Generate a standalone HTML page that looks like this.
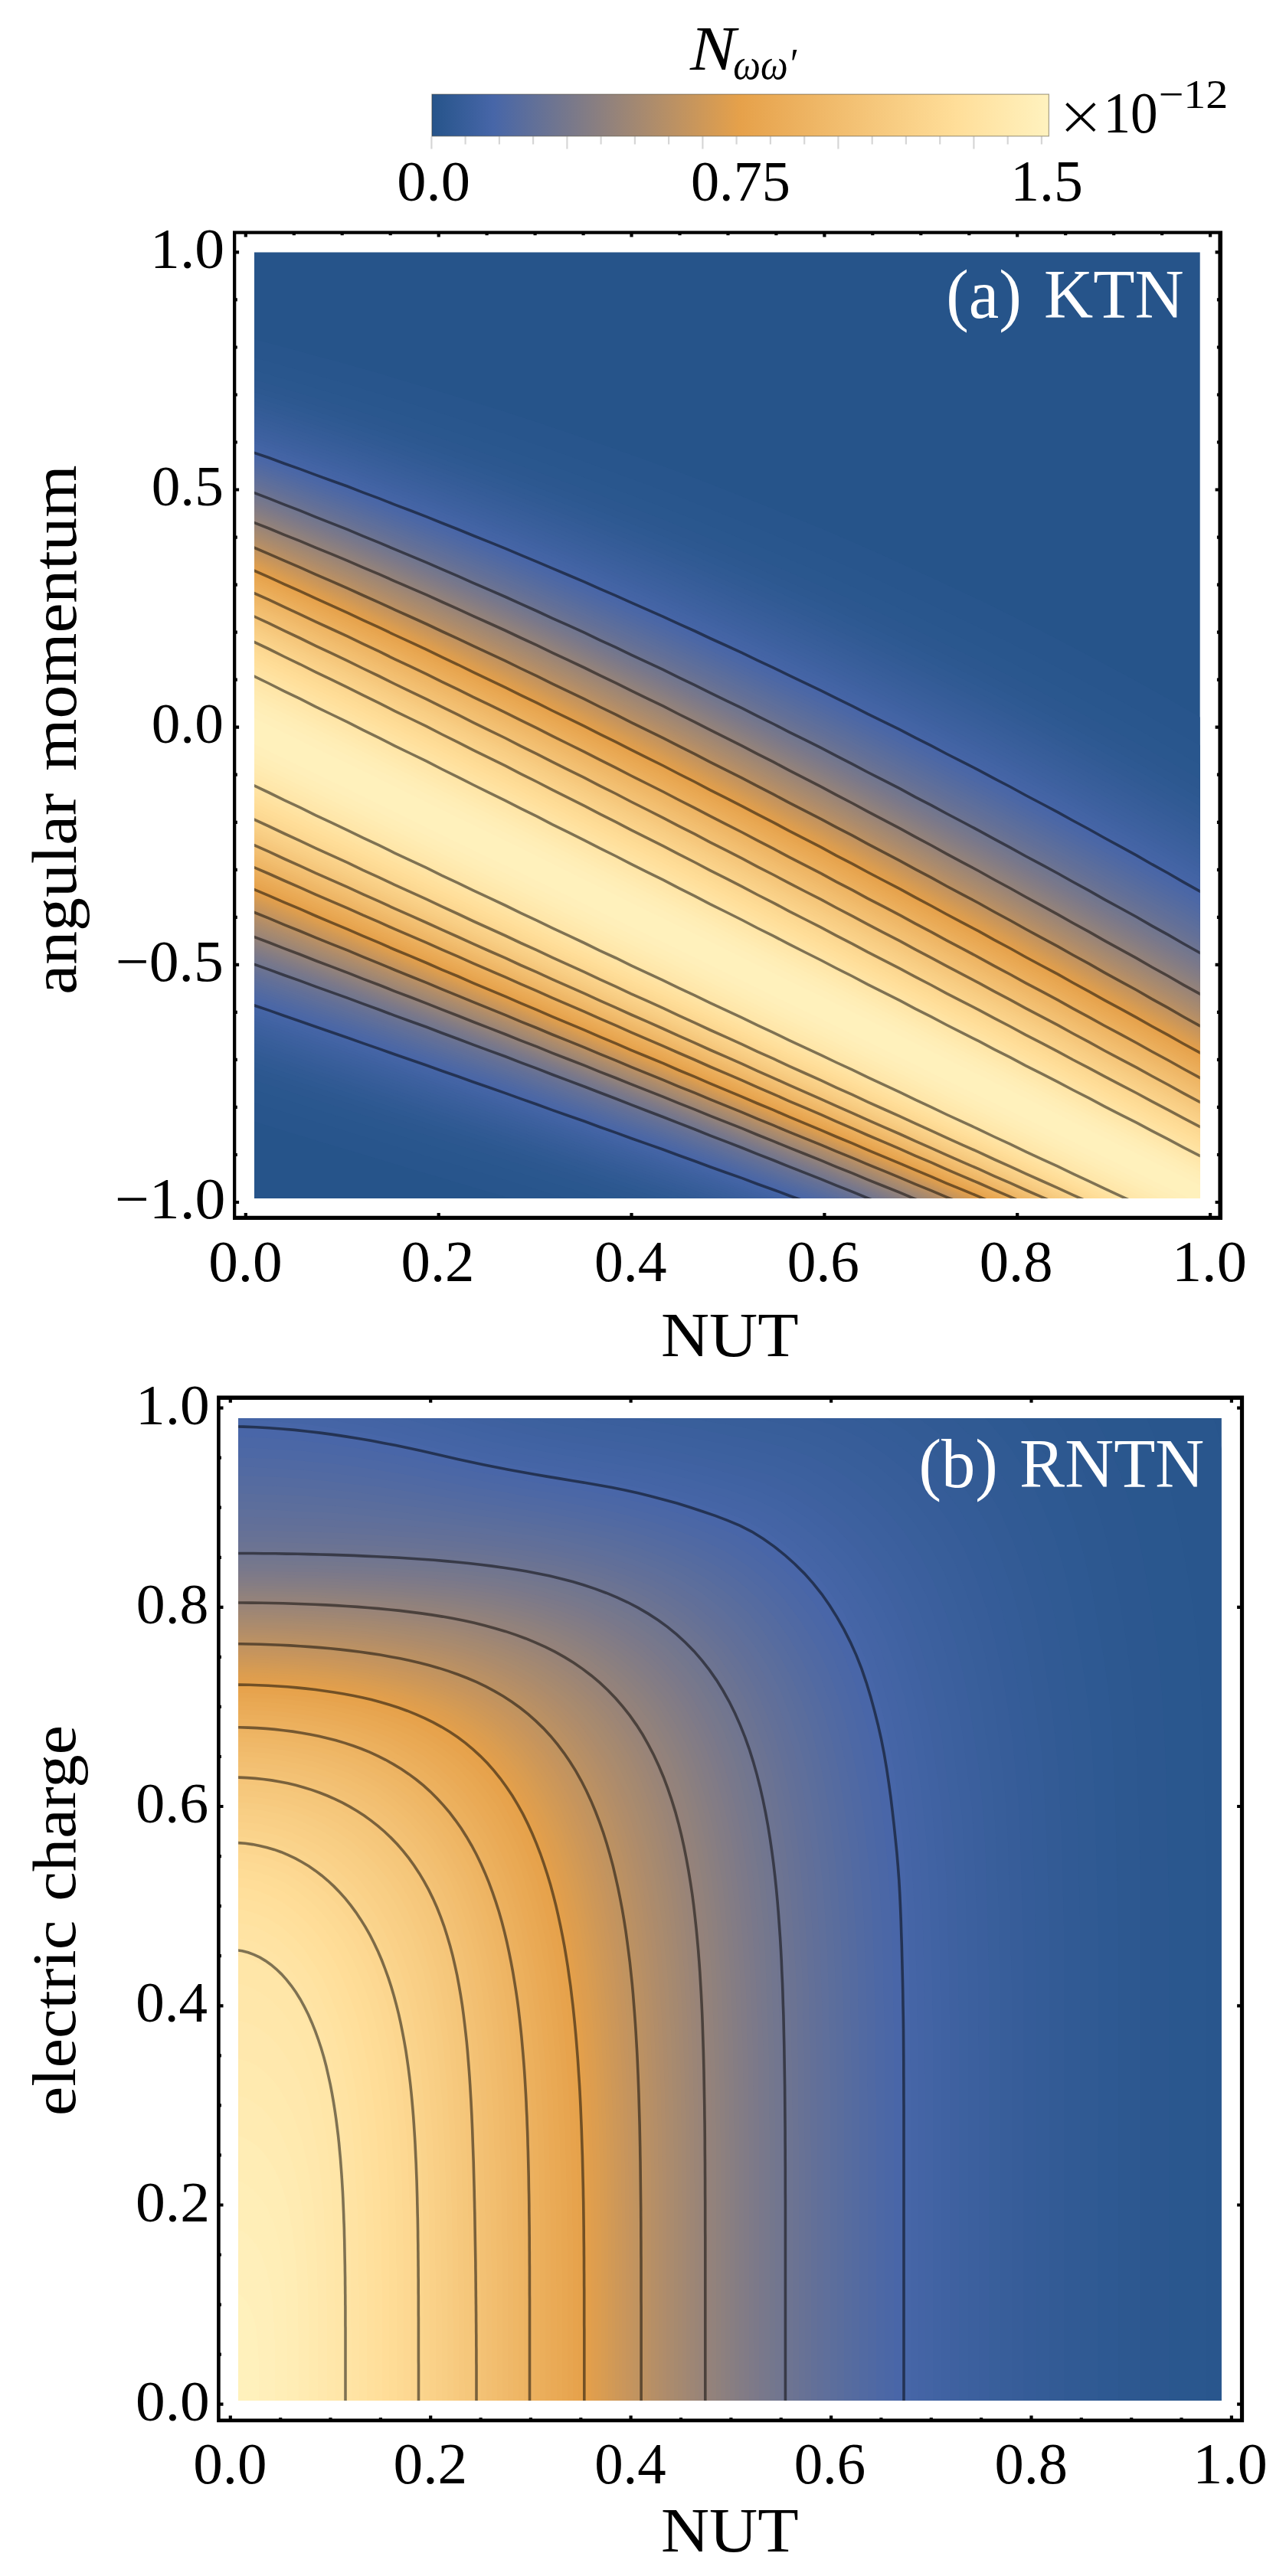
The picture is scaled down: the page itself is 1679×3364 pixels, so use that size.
<!DOCTYPE html>
<html lang="en"><head><meta charset="utf-8"><title>N density plots</title>
<style>html,body{margin:0;padding:0;background:#fff}svg{display:block}text{font-family:"Liberation Serif", serif}</style></head>
<body>
<svg width="1679" height="3364" viewBox="0 0 1679 3364">
<defs><linearGradient id="cb" x1="0" x2="1" y1="0" y2="0"><stop offset="0.0000" stop-color="#26548a"/><stop offset="0.1000" stop-color="#4766a8"/><stop offset="0.5000" stop-color="#e6a14a"/><stop offset="0.8500" stop-color="#ffde99"/><stop offset="1.0000" stop-color="#fff2bf"/></linearGradient><clipPath id="ca"><rect x="332.0" y="329.4" width="1234.7" height="1235.6"/></clipPath><clipPath id="cb2"><rect x="311.1" y="1852.1" width="1283.5" height="1283.0"/></clipPath></defs>
<g id="colorbar"><rect x="563.9" y="123.1" width="805.5" height="54.7" fill="url(#cb)" stroke="#3a3420" stroke-opacity="0.45" stroke-width="1.2"/><path d="M563.4 178.3V194.6M607.6 178.3V188.6M651.9 178.3V188.6M696.1 178.3V188.6M740.4 178.3V194.6M784.6 178.3V188.6M828.9 178.3V188.6M873.1 178.3V188.6M917.4 178.3V194.6M961.6 178.3V188.6M1005.9 178.3V188.6M1050.2 178.3V188.6M1094.4 178.3V194.6M1138.7 178.3V188.6M1182.9 178.3V188.6M1227.2 178.3V188.6M1271.4 178.3V194.6M1315.7 178.3V188.6M1359.9 178.3V188.6" stroke="#000" stroke-opacity="0.16" stroke-width="2.2" fill="none"/></g>
<g id="plot-a" clip-path="url(#ca)">
<rect x="329.0" y="326.4" width="1240.7" height="1241.6" fill="#26548a"/>
<path d="M330 442.3L371 453.2L412 464.4L454 475.8L495 487.6L536 499.7L577 512.0L618 524.8L660 537.8L701 551.2L742 565.0L783 579.2L824 593.8L866 608.7L907 624.1L948 639.9L989 656.2L1030 672.9L1072 690.0L1113 707.6L1154 725.8L1195 744.4L1236 763.5L1278 783.1L1319 803.3L1360 824.0L1401 845.3L1442 867.1L1484 889.5L1525 912.5L1566 936.1L1569 937.7L1569 1585.0L1566 1585.0L1525 1585.0L1484 1585.0L1442 1585.0L1401 1585.0L1360 1585.0L1319 1585.0L1278 1585.0L1236 1585.0L1195 1585.0L1154 1585.0L1113 1585.0L1072 1585.0L1030 1585.0L989 1585.0L948 1585.0L907 1585.0L866 1585.0L824 1585.0L783 1585.0L742 1585.0L701 1574.9L660 1562.9L618 1550.8L577 1538.6L536 1526.4L495 1514.1L454 1501.7L412 1489.3L371 1476.8L330 1464.2Z" fill="#28558c"/>
<path d="M330 466.3L371 477.8L412 489.6L454 501.6L495 514.0L536 526.7L577 539.7L618 553.0L660 566.7L701 580.7L742 595.1L783 609.9L824 625.0L866 640.5L907 656.4L948 672.8L989 689.5L1030 706.7L1072 724.3L1113 742.3L1154 760.8L1195 779.8L1236 799.2L1278 819.2L1319 839.6L1360 860.5L1401 881.9L1442 903.9L1484 926.4L1525 949.4L1566 972.9L1569 974.5L1569 1585.0L1566 1585.0L1525 1585.0L1484 1585.0L1442 1585.0L1401 1585.0L1360 1585.0L1319 1585.0L1278 1585.0L1236 1585.0L1195 1585.0L1154 1585.0L1113 1585.0L1072 1585.0L1030 1585.0L989 1585.0L948 1585.0L907 1585.0L866 1585.0L824 1585.0L783 1578.1L742 1565.8L701 1553.4L660 1541.0L618 1528.5L577 1516.0L536 1503.4L495 1490.7L454 1478.0L412 1465.3L371 1452.5L330 1439.6Z" fill="#29568d"/>
<path d="M330 482.8L371 494.7L412 506.9L454 519.4L495 532.2L536 545.3L577 558.7L618 572.4L660 586.5L701 601.0L742 615.8L783 630.9L824 646.5L866 662.4L907 678.6L948 695.3L989 712.4L1030 729.9L1072 747.8L1113 766.1L1154 784.9L1195 804.1L1236 823.8L1278 843.9L1319 864.5L1360 885.5L1401 907.1L1442 929.1L1484 951.6L1525 974.7L1566 998.2L1569 999.8L1569 1585.0L1566 1585.0L1525 1585.0L1484 1585.0L1442 1585.0L1401 1585.0L1360 1585.0L1319 1585.0L1278 1585.0L1236 1585.0L1195 1585.0L1154 1585.0L1113 1585.0L1072 1585.0L1030 1585.0L989 1585.0L948 1585.0L907 1585.0L866 1585.0L824 1576.6L783 1564.0L742 1551.4L701 1538.7L660 1526.0L618 1513.2L577 1500.4L536 1487.6L495 1474.7L454 1461.8L412 1448.8L371 1435.8L330 1422.7Z" fill="#2a578e"/>
<path d="M330 495.0L371 507.2L412 519.7L454 532.5L495 545.6L536 559.0L577 572.8L618 586.9L660 601.3L701 616.0L742 631.1L783 646.6L824 662.4L866 678.6L907 695.1L948 712.1L989 729.4L1030 747.1L1072 765.3L1113 783.8L1154 802.8L1195 822.2L1236 842.0L1278 862.3L1319 883.0L1360 904.1L1401 925.8L1442 947.8L1484 970.4L1525 993.4L1566 1017.0L1569 1018.5L1569 1585.0L1566 1585.0L1525 1585.0L1484 1585.0L1442 1585.0L1401 1585.0L1360 1585.0L1319 1585.0L1278 1585.0L1236 1585.0L1195 1585.0L1154 1585.0L1113 1585.0L1072 1585.0L1030 1585.0L989 1585.0L948 1585.0L907 1585.0L866 1579.2L824 1566.4L783 1553.5L742 1540.7L701 1527.7L660 1514.8L618 1501.8L577 1488.9L536 1475.8L495 1462.8L454 1449.7L412 1436.6L371 1423.4L330 1410.2Z" fill="#2c578f"/>
<path d="M330 504.2L371 516.6L412 529.3L454 542.4L495 555.7L536 569.4L577 583.3L618 597.7L660 612.3L701 627.3L742 642.6L783 658.3L824 674.3L866 690.7L907 707.5L948 724.6L989 742.1L1030 760.1L1072 778.4L1113 797.1L1154 816.2L1195 835.7L1236 855.7L1278 876.0L1319 896.8L1360 918.1L1401 939.7L1442 961.9L1484 984.5L1525 1007.5L1566 1031.0L1569 1032.6L1569 1585.0L1566 1585.0L1525 1585.0L1484 1585.0L1442 1585.0L1401 1585.0L1360 1585.0L1319 1585.0L1278 1585.0L1236 1585.0L1195 1585.0L1154 1585.0L1113 1585.0L1072 1585.0L1030 1585.0L989 1585.0L948 1585.0L907 1584.7L866 1571.7L824 1558.7L783 1545.7L742 1532.6L701 1519.6L660 1506.5L618 1493.3L577 1480.2L536 1467.0L495 1453.8L454 1440.6L412 1427.4L371 1414.1L330 1400.8Z" fill="#2d5890"/>
<path d="M330 511.5L371 524.1L412 537.0L454 550.2L495 563.8L536 577.6L577 591.8L618 606.3L660 621.1L701 636.3L742 651.8L783 667.6L824 683.8L866 700.4L907 717.3L948 734.6L989 752.3L1030 770.4L1072 788.8L1113 807.6L1154 826.9L1195 846.5L1236 866.5L1278 887.0L1319 907.9L1360 929.2L1401 950.9L1442 973.1L1484 995.7L1525 1018.7L1566 1042.2L1569 1043.8L1569 1585.0L1566 1585.0L1525 1585.0L1484 1585.0L1442 1585.0L1401 1585.0L1360 1585.0L1319 1585.0L1278 1585.0L1236 1585.0L1195 1585.0L1154 1585.0L1113 1585.0L1072 1585.0L1030 1585.0L989 1585.0L948 1585.0L907 1578.9L866 1565.8L824 1552.6L783 1539.4L742 1526.2L701 1513.0L660 1499.8L618 1486.5L577 1473.3L536 1460.0L495 1446.7L454 1433.4L412 1420.1L371 1406.7L330 1393.3Z" fill="#2e5992"/>
<path d="M330 517.9L371 530.7L412 543.7L454 557.1L495 570.8L536 584.8L577 599.2L618 613.8L660 628.8L701 644.2L742 659.8L783 675.8L824 692.2L866 708.9L907 726.0L948 743.4L989 761.2L1030 779.4L1072 798.0L1113 816.9L1154 836.3L1195 856.0L1236 876.1L1278 896.7L1319 917.6L1360 938.9L1401 960.7L1442 982.9L1484 1005.5L1525 1028.6L1566 1052.1L1569 1053.6L1569 1585.0L1566 1585.0L1525 1585.0L1484 1585.0L1442 1585.0L1401 1585.0L1360 1585.0L1319 1585.0L1278 1585.0L1236 1585.0L1195 1585.0L1154 1585.0L1113 1585.0L1072 1585.0L1030 1585.0L989 1585.0L948 1585.0L907 1573.8L866 1560.5L824 1547.2L783 1533.9L742 1520.6L701 1507.3L660 1493.9L618 1480.6L577 1467.2L536 1453.8L495 1440.4L454 1427.0L412 1413.6L371 1400.2L330 1386.8Z" fill="#305a93"/>
<path d="M330 523.6L371 536.5L412 549.7L454 563.3L495 577.1L536 591.3L577 605.8L618 620.6L660 635.7L701 651.2L742 667.0L783 683.1L824 699.6L866 716.5L907 733.7L948 751.2L989 769.2L1030 787.5L1072 806.1L1113 825.2L1154 844.6L1195 864.4L1236 884.6L1278 905.2L1319 926.2L1360 947.6L1401 969.4L1442 991.6L1484 1014.3L1525 1037.3L1566 1060.8L1569 1062.4L1569 1585.0L1566 1585.0L1525 1585.0L1484 1585.0L1442 1585.0L1401 1585.0L1360 1585.0L1319 1585.0L1278 1585.0L1236 1585.0L1195 1585.0L1154 1585.0L1113 1585.0L1072 1585.0L1030 1585.0L989 1585.0L948 1582.7L907 1569.3L866 1555.9L824 1542.5L783 1529.1L742 1515.6L701 1502.2L660 1488.7L618 1475.3L577 1461.8L536 1448.4L495 1434.9L454 1421.4L412 1407.9L371 1394.4L330 1380.9Z" fill="#315a94"/>
<path d="M330 528.7L371 541.8L412 555.1L454 568.8L495 582.8L536 597.1L577 611.7L618 626.6L660 641.9L701 657.5L742 673.4L783 689.7L824 706.3L866 723.3L907 740.6L948 758.3L989 776.3L1030 794.7L1072 813.4L1113 832.6L1154 852.1L1195 872.0L1236 892.3L1278 912.9L1319 934.0L1360 955.4L1401 977.3L1442 999.5L1484 1022.2L1525 1045.2L1566 1068.7L1569 1070.3L1569 1585.0L1566 1585.0L1525 1585.0L1484 1585.0L1442 1585.0L1401 1585.0L1360 1585.0L1319 1585.0L1278 1585.0L1236 1585.0L1195 1585.0L1154 1585.0L1113 1585.0L1072 1585.0L1030 1585.0L989 1585.0L948 1578.8L907 1565.2L866 1551.7L824 1538.2L783 1524.7L742 1511.1L701 1497.6L660 1484.1L618 1470.5L577 1457.0L536 1443.4L495 1429.9L454 1416.3L412 1402.8L371 1389.2L330 1375.7Z" fill="#335b95"/>
<path d="M330 533.4L371 546.6L412 560.1L454 573.9L495 588.0L536 602.4L577 617.1L618 632.2L660 647.6L701 663.3L742 679.3L783 695.7L824 712.4L866 729.5L907 746.9L948 764.7L989 782.8L1030 801.3L1072 820.2L1113 839.4L1154 859.0L1195 879.0L1236 899.3L1278 920.0L1319 941.1L1360 962.6L1401 984.5L1442 1006.7L1484 1029.4L1525 1052.5L1566 1075.9L1569 1077.5L1569 1585.0L1566 1585.0L1525 1585.0L1484 1585.0L1442 1585.0L1401 1585.0L1360 1585.0L1319 1585.0L1278 1585.0L1236 1585.0L1195 1585.0L1154 1585.0L1113 1585.0L1072 1585.0L1030 1585.0L989 1585.0L948 1575.1L907 1561.5L866 1547.9L824 1534.2L783 1520.6L742 1507.0L701 1493.4L660 1479.8L618 1466.1L577 1452.5L536 1438.9L495 1425.3L454 1411.7L412 1398.1L371 1384.5L330 1370.8Z" fill="#345c97"/>
<path d="M330 537.9L371 551.2L412 564.8L454 578.7L495 592.9L536 607.4L577 622.3L618 637.4L660 652.9L701 668.8L742 684.9L783 701.4L824 718.3L866 735.4L907 753.0L948 770.8L989 789.1L1030 807.6L1072 826.6L1113 845.9L1154 865.5L1195 885.6L1236 906.0L1278 926.7L1319 947.9L1360 969.4L1401 991.3L1442 1013.6L1484 1036.3L1525 1059.3L1566 1082.8L1569 1084.4L1569 1585.0L1566 1585.0L1525 1585.0L1484 1585.0L1442 1585.0L1401 1585.0L1360 1585.0L1319 1585.0L1278 1585.0L1236 1585.0L1195 1585.0L1154 1585.0L1113 1585.0L1072 1585.0L1030 1585.0L989 1585.0L948 1571.7L907 1558.0L866 1544.2L824 1530.5L783 1516.8L742 1503.1L701 1489.4L660 1475.7L618 1462.0L577 1448.3L536 1434.6L495 1420.9L454 1407.3L412 1393.6L371 1379.9L330 1366.3Z" fill="#355c98"/>
<path d="M330 542.3L371 555.7L412 569.4L454 583.4L495 597.7L536 612.4L577 627.3L618 642.6L660 658.2L701 674.2L742 690.4L783 707.0L824 724.0L866 741.3L907 758.9L948 776.8L989 795.2L1030 813.8L1072 832.8L1113 852.2L1154 871.9L1195 892.0L1236 912.5L1278 933.3L1319 954.5L1360 976.1L1401 998.0L1442 1020.3L1484 1043.0L1525 1066.1L1566 1089.5L1569 1091.1L1569 1585.0L1566 1585.0L1525 1585.0L1484 1585.0L1442 1585.0L1401 1585.0L1360 1585.0L1319 1585.0L1278 1585.0L1236 1585.0L1195 1585.0L1154 1585.0L1113 1585.0L1072 1585.0L1030 1585.0L989 1582.2L948 1568.3L907 1554.5L866 1540.7L824 1526.9L783 1513.0L742 1499.2L701 1485.5L660 1471.7L618 1457.9L577 1444.2L536 1430.4L495 1416.7L454 1402.9L412 1389.2L371 1375.5L330 1361.8Z" fill="#375d99"/>
<path d="M330 546.7L371 560.2L412 574.0L454 588.1L495 602.6L536 617.3L577 632.4L618 647.8L660 663.5L701 679.6L742 696.0L783 712.7L824 729.7L866 747.1L907 764.8L948 782.9L989 801.3L1030 820.0L1072 839.1L1113 858.6L1154 878.4L1195 898.6L1236 919.1L1278 939.9L1319 961.2L1360 982.8L1401 1004.7L1442 1027.1L1484 1049.8L1525 1072.8L1566 1096.3L1569 1097.9L1569 1585.0L1566 1585.0L1525 1585.0L1484 1585.0L1442 1585.0L1401 1585.0L1360 1585.0L1319 1585.0L1278 1585.0L1236 1585.0L1195 1585.0L1154 1585.0L1113 1585.0L1072 1585.0L1030 1585.0L989 1578.9L948 1564.9L907 1551.0L866 1537.1L824 1523.2L783 1509.3L742 1495.4L701 1481.5L660 1467.7L618 1453.8L577 1440.0L536 1426.2L495 1412.4L454 1398.6L412 1384.8L371 1371.0L330 1357.3Z" fill="#385e9a"/>
<path d="M330 551.0L371 564.7L412 578.6L454 592.8L495 607.4L536 622.2L577 637.4L618 652.9L660 668.8L701 684.9L742 701.4L783 718.2L824 735.4L866 752.9L907 770.7L948 788.8L989 807.3L1030 826.2L1072 845.4L1113 864.9L1154 884.8L1195 905.0L1236 925.5L1278 946.5L1319 967.7L1360 989.4L1401 1011.4L1442 1033.7L1484 1056.4L1525 1079.5L1566 1103.0L1569 1104.5L1569 1585.0L1566 1585.0L1525 1585.0L1484 1585.0L1442 1585.0L1401 1585.0L1360 1585.0L1319 1585.0L1278 1585.0L1236 1585.0L1195 1585.0L1154 1585.0L1113 1585.0L1072 1585.0L1030 1585.0L989 1575.6L948 1561.6L907 1547.5L866 1533.5L824 1519.5L783 1505.5L742 1491.6L701 1477.6L660 1463.7L618 1449.8L577 1435.9L536 1422.0L495 1408.1L454 1394.3L412 1380.4L371 1366.6L330 1352.8Z" fill="#395f9b"/>
<path d="M330 555.3L371 569.0L412 583.0L454 597.4L495 612.0L536 627.0L577 642.3L618 657.9L660 673.9L701 690.2L742 706.7L783 723.7L824 740.9L866 758.5L907 776.4L948 794.7L989 813.2L1030 832.2L1072 851.4L1113 871.0L1154 891.0L1195 911.2L1236 931.9L1278 952.8L1319 974.2L1360 995.8L1401 1017.9L1442 1040.2L1484 1063.0L1525 1086.0L1566 1109.5L1569 1111.0L1569 1585.0L1566 1585.0L1525 1585.0L1484 1585.0L1442 1585.0L1401 1585.0L1360 1585.0L1319 1585.0L1278 1585.0L1236 1585.0L1195 1585.0L1154 1585.0L1113 1585.0L1072 1585.0L1030 1585.0L989 1572.5L948 1558.3L907 1544.2L866 1530.1L824 1516.0L783 1501.9L742 1487.9L701 1473.8L660 1459.8L618 1445.8L577 1431.9L536 1417.9L495 1404.0L454 1390.1L412 1376.2L371 1362.3L330 1348.5Z" fill="#3b5f9d"/>
<path d="M330 559.4L371 573.2L412 587.4L454 601.8L495 616.6L536 631.7L577 647.1L618 662.8L660 678.9L701 695.2L742 711.9L783 729.0L824 746.3L866 764.0L907 782.0L948 800.3L989 819.0L1030 838.0L1072 857.3L1113 877.0L1154 897.0L1195 917.4L1236 938.0L1278 959.1L1319 980.4L1360 1002.1L1401 1024.2L1442 1046.6L1484 1069.3L1525 1092.4L1566 1115.8L1569 1117.4L1569 1585.0L1566 1585.0L1525 1585.0L1484 1585.0L1442 1585.0L1401 1585.0L1360 1585.0L1319 1585.0L1278 1585.0L1236 1585.0L1195 1585.0L1154 1585.0L1113 1585.0L1072 1585.0L1030 1583.7L989 1569.4L948 1555.1L907 1540.9L866 1526.7L824 1512.5L783 1498.4L742 1484.2L701 1470.1L660 1456.0L618 1442.0L577 1427.9L536 1413.9L495 1399.9L454 1386.0L412 1372.0L371 1358.1L330 1344.2Z" fill="#3c609e"/>
<path d="M330 563.4L371 577.4L412 591.6L454 606.1L495 621.0L536 636.2L577 651.7L618 667.6L660 683.7L701 700.2L742 717.0L783 734.1L824 751.5L866 769.3L907 787.4L948 805.8L989 824.6L1030 843.7L1072 863.1L1113 882.8L1154 902.9L1195 923.3L1236 944.0L1278 965.1L1319 986.5L1360 1008.2L1401 1030.3L1442 1052.7L1484 1075.5L1525 1098.6L1566 1122.0L1569 1123.5L1569 1585.0L1566 1585.0L1525 1585.0L1484 1585.0L1442 1585.0L1401 1585.0L1360 1585.0L1319 1585.0L1278 1585.0L1236 1585.0L1195 1585.0L1154 1585.0L1113 1585.0L1072 1585.0L1030 1580.8L989 1566.4L948 1552.0L907 1537.7L866 1523.4L824 1509.2L783 1494.9L742 1480.7L701 1466.5L660 1452.4L618 1438.2L577 1424.1L536 1410.1L495 1396.0L454 1382.0L412 1368.0L371 1354.0L330 1340.1Z" fill="#3d619f"/>
<path d="M330 567.3L371 581.3L412 595.7L454 610.3L495 625.3L536 640.6L577 656.2L618 672.1L660 688.4L701 705.0L742 721.9L783 739.1L824 756.6L866 774.5L907 792.7L948 811.2L989 830.0L1030 849.2L1072 868.6L1113 888.4L1154 908.6L1195 929.0L1236 949.8L1278 970.9L1319 992.4L1360 1014.2L1401 1036.3L1442 1058.7L1484 1081.5L1525 1104.5L1566 1128.0L1569 1129.5L1569 1585.0L1566 1585.0L1525 1585.0L1484 1585.0L1442 1585.0L1401 1585.0L1360 1585.0L1319 1585.0L1278 1585.0L1236 1585.0L1195 1585.0L1154 1585.0L1113 1585.0L1072 1585.0L1030 1578.0L989 1563.5L948 1549.0L907 1534.6L866 1520.3L824 1505.9L783 1491.6L742 1477.3L701 1463.1L660 1448.8L618 1434.6L577 1420.5L536 1406.3L495 1392.2L454 1378.2L412 1364.1L371 1350.1L330 1336.1Z" fill="#3f61a0"/>
<path d="M330 571.1L371 585.2L412 599.6L454 614.4L495 629.5L536 644.8L577 660.6L618 676.6L660 692.9L701 709.6L742 726.6L783 743.9L824 761.5L866 779.5L907 797.7L948 816.3L989 835.2L1030 854.5L1072 874.0L1113 893.9L1154 914.1L1195 934.6L1236 955.4L1278 976.6L1319 998.1L1360 1019.9L1401 1042.0L1442 1064.5L1484 1087.2L1525 1110.3L1566 1133.7L1569 1135.3L1569 1585.0L1566 1585.0L1525 1585.0L1484 1585.0L1442 1585.0L1401 1585.0L1360 1585.0L1319 1585.0L1278 1585.0L1236 1585.0L1195 1585.0L1154 1585.0L1113 1585.0L1072 1585.0L1030 1575.2L989 1560.7L948 1546.1L907 1531.7L866 1517.2L824 1502.8L783 1488.4L742 1474.0L701 1459.7L660 1445.4L618 1431.1L577 1416.9L536 1402.7L495 1388.6L454 1374.4L412 1360.3L371 1346.3L330 1332.3Z" fill="#4062a2"/>
<path d="M330 574.7L371 588.9L412 603.4L454 618.3L495 633.5L536 648.9L577 664.7L618 680.9L660 697.3L701 714.1L742 731.1L783 748.5L824 766.2L866 784.3L907 802.6L948 821.3L989 840.3L1030 859.6L1072 879.2L1113 899.1L1154 919.4L1195 940.0L1236 960.8L1278 982.0L1319 1003.6L1360 1025.4L1401 1047.6L1442 1070.0L1484 1092.8L1525 1115.9L1566 1139.3L1569 1140.9L1569 1585.0L1566 1585.0L1525 1585.0L1484 1585.0L1442 1585.0L1401 1585.0L1360 1585.0L1319 1585.0L1278 1585.0L1236 1585.0L1195 1585.0L1154 1585.0L1113 1585.0L1072 1585.0L1030 1572.6L989 1558.0L948 1543.4L907 1528.8L866 1514.2L824 1499.7L783 1485.3L742 1470.8L701 1456.4L660 1442.1L618 1427.8L577 1413.5L536 1399.2L495 1385.0L454 1370.8L412 1356.7L371 1342.6L330 1328.5Z" fill="#4163a3"/>
<path d="M330 578.2L371 592.5L412 607.1L454 622.0L495 637.3L536 652.9L577 668.8L618 685.0L660 701.5L701 718.3L742 735.5L783 753.0L824 770.8L866 788.9L907 807.3L948 826.1L989 845.1L1030 864.5L1072 884.2L1113 904.2L1154 924.5L1195 945.1L1236 966.0L1278 987.3L1319 1008.8L1360 1030.7L1401 1052.9L1442 1075.4L1484 1098.1L1525 1121.2L1566 1144.7L1569 1146.2L1569 1585.0L1566 1585.0L1525 1585.0L1484 1585.0L1442 1585.0L1401 1585.0L1360 1585.0L1319 1585.0L1278 1585.0L1236 1585.0L1195 1585.0L1154 1585.0L1113 1585.0L1072 1584.9L1030 1570.1L989 1555.4L948 1540.7L907 1526.0L866 1511.4L824 1496.8L783 1482.3L742 1467.8L701 1453.3L660 1438.9L618 1424.5L577 1410.2L536 1395.9L495 1381.6L454 1367.4L412 1353.2L371 1339.1L330 1325.0Z" fill="#4364a4"/>
<path d="M330 581.5L371 595.9L412 610.6L454 625.6L495 641.0L536 656.6L577 672.6L618 688.9L660 705.5L701 722.4L742 739.7L783 757.2L824 775.1L866 793.3L907 811.8L948 830.6L989 849.8L1030 869.2L1072 888.9L1113 909.0L1154 929.4L1195 950.0L1236 971.0L1278 992.3L1319 1013.9L1360 1035.8L1401 1058.0L1442 1080.5L1484 1103.3L1525 1126.4L1566 1149.8L1569 1151.3L1569 1585.0L1566 1585.0L1525 1585.0L1484 1585.0L1442 1585.0L1401 1585.0L1360 1585.0L1319 1585.0L1278 1585.0L1236 1585.0L1195 1585.0L1154 1585.0L1113 1585.0L1072 1582.6L1030 1567.7L989 1552.9L948 1538.1L907 1523.4L866 1508.7L824 1494.0L783 1479.4L742 1464.9L701 1450.3L660 1435.9L618 1421.4L577 1407.0L536 1392.7L495 1378.4L454 1364.1L412 1349.9L371 1335.7L330 1321.6Z" fill="#4464a5"/>
<path d="M330 584.7L371 599.2L412 613.9L454 629.0L495 644.5L536 660.2L577 676.3L618 692.6L660 709.3L701 726.3L742 743.7L783 761.3L824 779.3L866 797.5L907 816.1L948 835.0L989 854.2L1030 873.7L1072 893.5L1113 913.6L1154 934.0L1195 954.7L1236 975.7L1278 997.1L1319 1018.7L1360 1040.6L1401 1062.8L1442 1085.3L1484 1108.1L1525 1131.3L1566 1154.6L1569 1156.2L1569 1585.0L1566 1585.0L1525 1585.0L1484 1585.0L1442 1585.0L1401 1585.0L1360 1585.0L1319 1585.0L1278 1585.0L1236 1585.0L1195 1585.0L1154 1585.0L1113 1585.0L1072 1580.4L1030 1565.4L989 1550.5L948 1535.7L907 1520.9L866 1506.1L824 1491.4L783 1476.7L742 1462.1L701 1447.5L660 1433.0L618 1418.5L577 1404.0L536 1389.6L495 1375.3L454 1361.0L412 1346.7L371 1332.5L330 1318.3Z" fill="#4565a6"/>
<path d="M330 587.7L371 602.3L412 617.1L454 632.3L495 647.8L536 663.6L577 679.7L618 696.2L660 713.0L701 730.1L742 747.5L783 765.2L824 783.2L866 801.5L907 820.2L948 839.1L989 858.4L1030 877.9L1072 897.8L1113 917.9L1154 938.4L1195 959.2L1236 980.2L1278 1001.6L1319 1023.2L1360 1045.2L1401 1067.4L1442 1090.0L1484 1112.8L1525 1135.9L1566 1159.3L1569 1160.8L1569 1585.0L1566 1585.0L1525 1585.0L1484 1585.0L1442 1585.0L1401 1585.0L1360 1585.0L1319 1585.0L1278 1585.0L1236 1585.0L1195 1585.0L1154 1585.0L1113 1585.0L1072 1578.3L1030 1563.2L989 1548.3L948 1533.3L907 1518.5L866 1503.6L824 1488.9L783 1474.1L742 1459.4L701 1444.8L660 1430.2L618 1415.7L577 1401.2L536 1386.7L495 1372.3L454 1358.0L412 1343.7L371 1329.4L330 1315.2Z" fill="#4766a8"/>
<path d="M330 590.6L371 605.2L412 620.1L454 635.3L495 650.9L536 666.8L577 683.0L618 699.5L660 716.4L701 733.6L742 751.0L783 768.8L824 786.9L866 805.3L907 824.0L948 843.0L989 862.3L1030 881.9L1072 901.9L1113 922.1L1154 942.6L1195 963.4L1236 984.5L1278 1005.9L1319 1027.5L1360 1049.5L1401 1071.8L1442 1094.3L1484 1117.1L1525 1140.2L1566 1163.6L1569 1165.2L1569 1585.0L1566 1585.0L1525 1585.0L1484 1585.0L1442 1585.0L1401 1585.0L1360 1585.0L1319 1585.0L1278 1585.0L1236 1585.0L1195 1585.0L1154 1585.0L1113 1585.0L1072 1576.3L1030 1561.2L989 1546.2L948 1531.2L907 1516.2L866 1501.3L824 1486.5L783 1471.7L742 1457.0L701 1442.3L660 1427.6L618 1413.0L577 1398.5L536 1384.0L495 1369.6L454 1355.2L412 1340.8L371 1326.5L330 1312.3Z" fill="#4966a8"/>
<path d="M330 594.7L371 609.4L412 624.5L454 639.8L495 655.5L536 671.5L577 687.8L618 704.4L660 721.4L701 738.7L742 756.2L783 774.1L824 792.3L866 810.8L907 829.6L948 848.7L989 868.1L1030 887.8L1072 907.8L1113 928.1L1154 948.6L1195 969.5L1236 990.7L1278 1012.1L1319 1033.8L1360 1055.8L1401 1078.1L1442 1100.7L1484 1123.5L1525 1146.6L1566 1170.0L1569 1171.6L1569 1585.0L1566 1585.0L1525 1585.0L1484 1585.0L1442 1585.0L1401 1585.0L1360 1585.0L1319 1585.0L1278 1585.0L1236 1585.0L1195 1585.0L1154 1585.0L1113 1585.0L1072 1573.4L1030 1558.2L989 1543.1L948 1528.0L907 1512.9L866 1497.9L824 1483.0L783 1468.1L742 1453.3L701 1438.5L660 1423.8L618 1409.2L577 1394.6L536 1380.0L495 1365.5L454 1351.1L412 1336.7L371 1322.3L330 1308.1Z" fill="#4b67a6"/>
<path d="M330 598.7L371 613.5L412 628.6L454 644.1L495 659.9L536 676.0L577 692.4L618 709.1L660 726.2L701 743.6L742 761.2L783 779.2L824 797.5L866 816.1L907 835.0L948 854.2L989 873.6L1030 893.4L1072 913.5L1113 933.8L1154 954.5L1195 975.4L1236 996.6L1278 1018.1L1319 1039.9L1360 1061.9L1401 1084.2L1442 1106.8L1484 1129.6L1525 1152.8L1566 1176.1L1569 1177.7L1569 1585.0L1566 1585.0L1525 1585.0L1484 1585.0L1442 1585.0L1401 1585.0L1360 1585.0L1319 1585.0L1278 1585.0L1236 1585.0L1195 1585.0L1154 1585.0L1113 1585.0L1072 1570.6L1030 1555.3L989 1540.1L948 1524.9L907 1509.7L866 1494.7L824 1479.6L783 1464.7L742 1449.8L701 1434.9L660 1420.2L618 1405.4L577 1390.8L536 1376.2L495 1361.6L454 1347.1L412 1332.7L371 1318.3L330 1304.0Z" fill="#4d68a5"/>
<path d="M330 602.5L371 617.4L412 632.6L454 648.2L495 664.1L536 680.3L577 696.8L618 713.6L660 730.8L701 748.3L742 766.0L783 784.1L824 802.5L866 821.2L907 840.1L948 859.4L989 879.0L1030 898.8L1072 919.0L1113 939.4L1154 960.1L1195 981.1L1236 1002.3L1278 1023.9L1319 1045.7L1360 1067.7L1401 1090.1L1442 1112.7L1484 1135.5L1525 1158.7L1566 1182.0L1569 1183.6L1569 1585.0L1566 1585.0L1525 1585.0L1484 1585.0L1442 1585.0L1401 1585.0L1360 1585.0L1319 1585.0L1278 1585.0L1236 1585.0L1195 1585.0L1154 1585.0L1113 1583.4L1072 1568.0L1030 1552.5L989 1537.2L948 1521.9L907 1506.7L866 1491.5L824 1476.4L783 1461.4L742 1446.4L701 1431.5L660 1416.6L618 1401.8L577 1387.1L536 1372.4L495 1357.8L454 1343.3L412 1328.8L371 1314.4L330 1300.0Z" fill="#5069a3"/>
<path d="M330 606.1L371 621.1L412 636.5L454 652.1L495 668.1L536 684.4L577 701.0L618 718.0L660 735.2L701 752.8L742 770.6L783 788.8L824 807.3L866 826.1L907 845.1L948 864.5L989 884.1L1030 904.0L1072 924.2L1113 944.7L1154 965.5L1195 986.5L1236 1007.8L1278 1029.4L1319 1051.3L1360 1073.4L1401 1095.7L1442 1118.3L1484 1141.2L1525 1164.3L1566 1187.7L1569 1189.2L1569 1585.0L1566 1585.0L1525 1585.0L1484 1585.0L1442 1585.0L1401 1585.0L1360 1585.0L1319 1585.0L1278 1585.0L1236 1585.0L1195 1585.0L1154 1585.0L1113 1581.0L1072 1565.4L1030 1549.9L989 1534.4L948 1519.0L907 1503.7L866 1488.5L824 1473.3L783 1458.2L742 1443.1L701 1428.1L660 1413.2L618 1398.4L577 1383.6L536 1368.9L495 1354.2L454 1339.6L412 1325.1L371 1310.6L330 1296.2Z" fill="#526aa2"/>
<path d="M330 609.6L371 624.7L412 640.2L454 655.9L495 672.0L536 688.4L577 705.1L618 722.1L660 739.5L701 757.1L742 775.1L783 793.3L824 811.9L866 830.7L907 849.9L948 869.3L989 889.0L1030 909.0L1072 929.3L1113 949.9L1154 970.7L1195 991.8L1236 1013.1L1278 1034.7L1319 1056.6L1360 1078.8L1401 1101.1L1442 1123.8L1484 1146.7L1525 1169.8L1566 1193.2L1569 1194.7L1569 1585.0L1566 1585.0L1525 1585.0L1484 1585.0L1442 1585.0L1401 1585.0L1360 1585.0L1319 1585.0L1278 1585.0L1236 1585.0L1195 1585.0L1154 1585.0L1113 1578.6L1072 1562.9L1030 1547.3L989 1531.8L948 1516.3L907 1500.9L866 1485.5L824 1470.3L783 1455.1L742 1440.0L701 1424.9L660 1409.9L618 1395.0L577 1380.2L536 1365.4L495 1350.7L454 1336.1L412 1321.5L371 1307.0L330 1292.6Z" fill="#556ba0"/>
<path d="M330 613.0L371 628.2L412 643.7L454 659.6L495 675.7L536 692.2L577 709.0L618 726.1L660 743.6L701 761.3L742 779.4L783 797.7L824 816.3L866 835.3L907 854.5L948 874.0L989 893.8L1030 913.9L1072 934.2L1113 954.8L1154 975.7L1195 996.8L1236 1018.2L1278 1039.9L1319 1061.8L1360 1084.0L1401 1106.4L1442 1129.0L1484 1151.9L1525 1175.1L1566 1198.4L1569 1200.0L1569 1585.0L1566 1585.0L1525 1585.0L1484 1585.0L1442 1585.0L1401 1585.0L1360 1585.0L1319 1585.0L1278 1585.0L1236 1585.0L1195 1585.0L1154 1585.0L1113 1576.3L1072 1560.5L1030 1544.8L989 1529.2L948 1513.6L907 1498.1L866 1482.7L824 1467.4L783 1452.1L742 1436.9L701 1421.8L660 1406.8L618 1391.8L577 1376.9L536 1362.1L495 1347.3L454 1332.7L412 1318.1L371 1303.5L330 1289.1Z" fill="#576c9f"/>
<path d="M330 616.3L371 631.5L412 647.1L454 663.1L495 679.3L536 695.9L577 712.8L618 730.0L660 747.5L701 765.4L742 783.5L783 801.9L824 820.6L866 839.6L907 858.9L948 878.5L989 898.4L1030 918.5L1072 938.9L1113 959.6L1154 980.5L1195 1001.7L1236 1023.2L1278 1044.9L1319 1066.8L1360 1089.0L1401 1111.4L1442 1134.1L1484 1157.0L1525 1180.1L1566 1203.5L1569 1205.0L1569 1585.0L1566 1585.0L1525 1585.0L1484 1585.0L1442 1585.0L1401 1585.0L1360 1585.0L1319 1585.0L1278 1585.0L1236 1585.0L1195 1585.0L1154 1585.0L1113 1574.1L1072 1558.2L1030 1542.4L989 1526.7L948 1511.1L907 1495.5L866 1480.0L824 1464.6L783 1449.2L742 1434.0L701 1418.8L660 1403.7L618 1388.7L577 1373.7L536 1358.9L495 1344.1L454 1329.4L412 1314.7L371 1300.2L330 1285.7Z" fill="#5a6d9d"/>
<path d="M330 619.4L371 634.8L412 650.5L454 666.5L495 682.8L536 699.5L577 716.5L618 733.8L660 751.4L701 769.3L742 787.5L783 806.0L824 824.8L866 843.9L907 863.2L948 882.9L989 902.8L1030 923.0L1072 943.5L1113 964.2L1154 985.2L1195 1006.4L1236 1027.9L1278 1049.7L1319 1071.6L1360 1093.9L1401 1116.3L1442 1139.0L1484 1161.9L1525 1185.0L1566 1208.4L1569 1209.9L1569 1585.0L1566 1585.0L1525 1585.0L1484 1585.0L1442 1585.0L1401 1585.0L1360 1585.0L1319 1585.0L1278 1585.0L1236 1585.0L1195 1585.0L1154 1585.0L1113 1572.0L1072 1556.0L1030 1540.1L989 1524.3L948 1508.6L907 1492.9L866 1477.4L824 1461.9L783 1446.5L742 1431.2L701 1415.9L660 1400.8L618 1385.7L577 1370.7L536 1355.8L495 1340.9L454 1326.2L412 1311.5L371 1296.9L330 1282.4Z" fill="#5c6e9c"/>
<path d="M330 622.5L371 637.9L412 653.7L454 669.8L495 686.2L536 702.9L577 720.0L618 737.4L660 755.1L701 773.1L742 791.3L783 809.9L824 828.8L866 848.0L907 867.4L948 887.1L989 907.1L1030 927.4L1072 947.9L1113 968.7L1154 989.7L1195 1011.0L1236 1032.5L1278 1054.3L1319 1076.3L1360 1098.6L1401 1121.0L1442 1143.7L1484 1166.6L1525 1189.8L1566 1213.1L1569 1214.7L1569 1585.0L1566 1585.0L1525 1585.0L1484 1585.0L1442 1585.0L1401 1585.0L1360 1585.0L1319 1585.0L1278 1585.0L1236 1585.0L1195 1585.0L1154 1585.0L1113 1569.9L1072 1553.9L1030 1537.9L989 1522.0L948 1506.2L907 1490.5L866 1474.8L824 1459.3L783 1443.8L742 1428.4L701 1413.1L660 1397.9L618 1382.8L577 1367.7L536 1352.8L495 1337.9L454 1323.1L412 1308.4L371 1293.8L330 1279.3Z" fill="#5f6f9b"/>
<path d="M330 625.4L371 640.9L412 656.8L454 673.0L495 689.5L536 706.3L577 723.5L618 740.9L660 758.7L701 776.7L742 795.1L783 813.8L824 832.7L866 851.9L907 871.4L948 891.2L989 911.3L1030 931.6L1072 952.2L1113 973.0L1154 994.1L1195 1015.4L1236 1037.0L1278 1058.8L1319 1080.8L1360 1103.1L1401 1125.6L1442 1148.3L1484 1171.2L1525 1194.4L1566 1217.7L1569 1219.3L1569 1585.0L1566 1585.0L1525 1585.0L1484 1585.0L1442 1585.0L1401 1585.0L1360 1585.0L1319 1585.0L1278 1585.0L1236 1585.0L1195 1585.0L1154 1584.2L1113 1567.9L1072 1551.8L1030 1535.7L989 1519.8L948 1503.9L907 1488.1L866 1472.4L824 1456.8L783 1441.2L742 1425.8L701 1410.4L660 1395.2L618 1380.0L577 1364.9L536 1349.9L495 1335.0L454 1320.1L412 1305.4L371 1290.8L330 1276.2Z" fill="#616f99"/>
<path d="M330 628.3L371 643.9L412 659.8L454 676.1L495 692.7L536 709.6L577 726.8L618 744.3L660 762.2L701 780.3L742 798.7L783 817.5L824 836.5L866 855.8L907 875.4L948 895.2L989 915.3L1030 935.7L1072 956.3L1113 977.2L1154 998.3L1195 1019.7L1236 1041.3L1278 1063.2L1319 1085.2L1360 1107.5L1401 1130.1L1442 1152.8L1484 1175.7L1525 1198.9L1566 1222.2L1569 1223.7L1569 1585.0L1566 1585.0L1525 1585.0L1484 1585.0L1442 1585.0L1401 1585.0L1360 1585.0L1319 1585.0L1278 1585.0L1236 1585.0L1195 1585.0L1154 1582.3L1113 1566.0L1072 1549.8L1030 1533.6L989 1517.6L948 1501.6L907 1485.8L866 1470.0L824 1454.3L783 1438.7L742 1423.2L701 1407.8L660 1392.5L618 1377.3L577 1362.1L536 1347.1L495 1332.1L454 1317.3L412 1302.5L371 1287.8L330 1273.2Z" fill="#637098"/>
<path d="M330 631.2L371 646.8L412 662.8L454 679.2L495 695.8L536 712.8L577 730.1L618 747.7L660 765.6L701 783.8L742 802.3L783 821.1L824 840.2L866 859.5L907 879.2L948 899.1L989 919.3L1030 939.7L1072 960.4L1113 981.3L1154 1002.5L1195 1023.9L1236 1045.5L1278 1067.4L1319 1089.5L1360 1111.8L1401 1134.4L1442 1157.1L1484 1180.1L1525 1203.2L1566 1226.5L1569 1228.1L1569 1585.0L1566 1585.0L1525 1585.0L1484 1585.0L1442 1585.0L1401 1585.0L1360 1585.0L1319 1585.0L1278 1585.0L1236 1585.0L1195 1585.0L1154 1580.5L1113 1564.1L1072 1547.8L1030 1531.6L989 1515.5L948 1499.5L907 1483.5L866 1467.7L824 1452.0L783 1436.3L742 1420.8L701 1405.3L660 1389.9L618 1374.6L577 1359.5L536 1344.4L495 1329.4L454 1314.5L412 1299.7L371 1284.9L330 1270.3Z" fill="#667196"/>
<path d="M330 634.0L371 649.7L412 665.8L454 682.2L495 698.9L536 715.9L577 733.3L618 751.0L660 768.9L701 787.2L742 805.8L783 824.7L824 843.8L866 863.2L907 882.9L948 902.9L989 923.1L1030 943.6L1072 964.3L1113 985.3L1154 1006.5L1195 1028.0L1236 1049.7L1278 1071.6L1319 1093.7L1360 1116.1L1401 1138.6L1442 1161.4L1484 1184.3L1525 1207.5L1566 1230.8L1569 1232.3L1569 1585.0L1566 1585.0L1525 1585.0L1484 1585.0L1442 1585.0L1401 1585.0L1360 1585.0L1319 1585.0L1278 1585.0L1236 1585.0L1195 1585.0L1154 1578.7L1113 1562.2L1072 1545.9L1030 1529.6L989 1513.4L948 1497.3L907 1481.4L866 1465.5L824 1449.7L783 1434.0L742 1418.4L701 1402.8L660 1387.4L618 1372.1L577 1356.9L536 1341.7L495 1326.7L454 1311.8L412 1296.9L371 1282.1L330 1267.5Z" fill="#687295"/>
<path d="M330 636.8L371 652.5L412 668.7L454 685.1L495 701.9L536 719.0L577 736.5L618 754.2L660 772.2L701 790.6L742 809.2L783 828.1L824 847.3L866 866.8L907 886.6L948 906.6L989 926.9L1030 947.4L1072 968.2L1113 989.2L1154 1010.5L1195 1032.0L1236 1053.7L1278 1075.7L1319 1097.8L1360 1120.2L1401 1142.7L1442 1165.5L1484 1188.5L1525 1211.6L1566 1234.9L1569 1236.5L1569 1585.0L1566 1585.0L1525 1585.0L1484 1585.0L1442 1585.0L1401 1585.0L1360 1585.0L1319 1585.0L1278 1585.0L1236 1585.0L1195 1585.0L1154 1576.9L1113 1560.4L1072 1544.0L1030 1527.7L989 1511.4L948 1495.3L907 1479.3L866 1463.3L824 1447.5L783 1431.7L742 1416.0L701 1400.5L660 1385.0L618 1369.6L577 1354.4L536 1339.2L495 1324.1L454 1309.1L412 1294.2L371 1279.4L330 1264.7Z" fill="#6b7393"/>
<path d="M330 639.5L371 655.4L412 671.5L454 688.1L495 704.9L536 722.1L577 739.6L618 757.4L660 775.5L701 793.9L742 812.6L783 831.6L824 850.8L866 870.4L907 890.2L948 910.3L989 930.6L1030 951.2L1072 972.0L1113 993.1L1154 1014.4L1195 1035.9L1236 1057.7L1278 1079.6L1319 1101.8L1360 1124.2L1401 1146.8L1442 1169.6L1484 1192.5L1525 1215.7L1566 1239.0L1569 1240.5L1569 1585.0L1566 1585.0L1525 1585.0L1484 1585.0L1442 1585.0L1401 1585.0L1360 1585.0L1319 1585.0L1278 1585.0L1236 1585.0L1195 1585.0L1154 1575.2L1113 1558.6L1072 1542.1L1030 1525.8L989 1509.5L948 1493.3L907 1477.2L866 1461.2L824 1445.3L783 1429.5L742 1413.8L701 1398.2L660 1382.7L618 1367.3L577 1351.9L536 1336.7L495 1321.6L454 1306.5L412 1291.6L371 1276.7L330 1262.0Z" fill="#6d7492"/>
<path d="M330 642.3L371 658.2L412 674.4L454 691.0L495 707.9L536 725.1L577 742.7L618 760.5L660 778.7L701 797.2L742 815.9L783 835.0L824 854.3L866 873.9L907 893.7L948 913.9L989 934.3L1030 954.9L1072 975.8L1113 996.9L1154 1018.2L1195 1039.8L1236 1061.6L1278 1083.6L1319 1105.8L1360 1128.2L1401 1150.8L1442 1173.6L1484 1196.6L1525 1219.7L1566 1243.0L1569 1244.6L1569 1585.0L1566 1585.0L1525 1585.0L1484 1585.0L1442 1585.0L1401 1585.0L1360 1585.0L1319 1585.0L1278 1585.0L1236 1585.0L1195 1585.0L1154 1573.4L1113 1556.8L1072 1540.3L1030 1523.9L989 1507.6L948 1491.3L907 1475.2L866 1459.2L824 1443.2L783 1427.4L742 1411.6L701 1396.0L660 1380.4L618 1364.9L577 1349.6L536 1334.3L495 1319.1L454 1304.0L412 1289.0L371 1274.1L330 1259.3Z" fill="#707590"/>
<path d="M330 645.0L371 660.9L412 677.2L454 693.9L495 710.8L536 728.1L577 745.7L618 763.6L660 781.8L701 800.4L742 819.2L783 838.3L824 857.7L866 877.3L907 897.2L948 917.4L989 937.8L1030 958.5L1072 979.4L1113 1000.6L1154 1022.0L1195 1043.6L1236 1065.4L1278 1087.4L1319 1109.7L1360 1132.1L1401 1154.7L1442 1177.5L1484 1200.5L1525 1223.6L1566 1247.0L1569 1248.5L1569 1585.0L1566 1585.0L1525 1585.0L1484 1585.0L1442 1585.0L1401 1585.0L1360 1585.0L1319 1585.0L1278 1585.0L1236 1585.0L1195 1585.0L1154 1571.7L1113 1555.1L1072 1538.5L1030 1522.1L989 1505.7L948 1489.4L907 1473.3L866 1457.2L824 1441.2L783 1425.3L742 1409.5L701 1393.8L660 1378.2L618 1362.7L577 1347.3L536 1331.9L495 1316.7L454 1301.6L412 1286.5L371 1271.6L330 1256.7Z" fill="#72768f"/>
<path d="M330 647.7L371 663.6L412 680.0L454 696.7L495 713.7L536 731.0L577 748.7L618 766.6L660 784.9L701 803.5L742 822.4L783 841.5L824 860.9L866 880.7L907 900.6L948 920.9L989 941.3L1030 962.1L1072 983.0L1113 1004.2L1154 1025.7L1195 1047.3L1236 1069.1L1278 1091.2L1319 1113.5L1360 1135.9L1401 1158.5L1442 1181.4L1484 1204.3L1525 1227.5L1566 1250.8L1569 1252.3L1569 1585.0L1566 1585.0L1525 1585.0L1484 1585.0L1442 1585.0L1401 1585.0L1360 1585.0L1319 1585.0L1278 1585.0L1236 1585.0L1195 1585.0L1154 1570.1L1113 1553.4L1072 1536.8L1030 1520.3L989 1503.9L948 1487.6L907 1471.4L866 1455.3L824 1439.2L783 1423.3L742 1407.5L701 1391.7L660 1376.1L618 1360.5L577 1345.0L536 1329.7L495 1314.4L454 1299.2L412 1284.1L371 1269.1L330 1254.2Z" fill="#74778d"/>
<path d="M330 650.3L371 666.3L412 682.7L454 699.4L495 716.5L536 733.8L577 751.6L618 769.6L660 787.9L701 806.5L742 825.4L783 844.7L824 864.1L866 883.9L907 903.9L948 924.2L989 944.7L1030 965.5L1072 986.5L1113 1007.8L1154 1029.2L1195 1050.9L1236 1072.8L1278 1094.9L1319 1117.1L1360 1139.6L1401 1162.3L1442 1185.1L1484 1208.1L1525 1231.2L1566 1254.5L1569 1256.0L1569 1585.0L1566 1585.0L1525 1585.0L1484 1585.0L1442 1585.0L1401 1585.0L1360 1585.0L1319 1585.0L1278 1585.0L1236 1585.0L1195 1585.0L1154 1568.4L1113 1551.7L1072 1535.1L1030 1518.6L989 1502.2L948 1485.8L907 1469.6L866 1453.4L824 1437.4L783 1421.4L742 1405.5L701 1389.7L660 1374.0L618 1358.4L577 1342.9L536 1327.5L495 1312.1L454 1296.9L412 1281.7L371 1266.7L330 1251.7Z" fill="#77788c"/>
<path d="M330 652.8L371 668.9L412 685.3L454 702.1L495 719.2L536 736.6L577 754.4L618 772.4L660 790.8L701 809.5L742 828.4L783 847.7L824 867.2L866 887.0L907 907.1L948 927.4L989 948.0L1030 968.8L1072 989.9L1113 1011.2L1154 1032.7L1195 1054.4L1236 1076.3L1278 1098.4L1319 1120.7L1360 1143.2L1401 1165.9L1442 1188.7L1484 1211.7L1525 1234.9L1566 1258.1L1569 1259.7L1569 1585.0L1566 1585.0L1525 1585.0L1484 1585.0L1442 1585.0L1401 1585.0L1360 1585.0L1319 1585.0L1278 1585.0L1236 1585.0L1195 1583.6L1154 1566.8L1113 1550.1L1072 1533.5L1030 1516.9L989 1500.5L948 1484.1L907 1467.8L866 1451.7L824 1435.6L783 1419.6L742 1403.6L701 1387.8L660 1372.1L618 1356.4L577 1340.8L536 1325.4L495 1310.0L454 1294.7L412 1279.5L371 1264.4L330 1249.3Z" fill="#79788b"/>
<path d="M330 655.4L371 671.4L412 687.9L454 704.7L495 721.8L536 739.3L577 757.1L618 775.2L660 793.6L701 812.4L742 831.4L783 850.7L824 870.3L866 890.1L907 910.2L948 930.6L989 951.2L1030 972.1L1072 993.2L1113 1014.5L1154 1036.1L1195 1057.8L1236 1079.8L1278 1101.9L1319 1124.2L1360 1146.7L1401 1169.4L1442 1192.3L1484 1215.3L1525 1238.4L1566 1261.7L1569 1263.2L1569 1585.0L1566 1585.0L1525 1585.0L1484 1585.0L1442 1585.0L1401 1585.0L1360 1585.0L1319 1585.0L1278 1585.0L1236 1585.0L1195 1582.1L1154 1565.3L1113 1548.5L1072 1531.9L1030 1515.3L989 1498.8L948 1482.4L907 1466.1L866 1449.9L824 1433.8L783 1417.8L742 1401.8L701 1385.9L660 1370.2L618 1354.5L577 1338.9L536 1323.3L495 1307.9L454 1292.5L412 1277.3L371 1262.1L330 1247.0Z" fill="#7c7989"/>
<path d="M330 657.8L371 673.9L412 690.4L454 707.2L495 724.4L536 741.9L577 759.8L618 777.9L660 796.4L701 815.2L742 834.2L783 853.6L824 873.2L866 893.1L907 913.3L948 933.7L989 954.4L1030 975.3L1072 996.4L1113 1017.8L1154 1039.4L1195 1061.2L1236 1083.1L1278 1105.3L1319 1127.7L1360 1150.2L1401 1172.9L1442 1195.7L1484 1218.7L1525 1241.9L1566 1265.2L1569 1266.7L1569 1585.0L1566 1585.0L1525 1585.0L1484 1585.0L1442 1585.0L1401 1585.0L1360 1585.0L1319 1585.0L1278 1585.0L1236 1585.0L1195 1580.6L1154 1563.7L1113 1547.0L1072 1530.3L1030 1513.7L989 1497.2L948 1480.8L907 1464.5L866 1448.3L824 1432.1L783 1416.0L742 1400.0L701 1384.1L660 1368.3L618 1352.6L577 1336.9L536 1321.3L495 1305.9L454 1290.5L412 1275.1L371 1259.9L330 1244.8Z" fill="#7e7a88"/>
<path d="M330 660.2L371 676.4L412 692.9L454 709.8L495 727.0L536 744.5L577 762.4L618 780.6L660 799.1L701 817.9L742 837.0L783 856.4L824 876.1L866 896.1L907 916.3L948 936.7L989 957.4L1030 978.4L1072 999.6L1113 1021.0L1154 1042.6L1195 1064.4L1236 1086.4L1278 1108.6L1319 1131.0L1360 1153.5L1401 1176.3L1442 1199.1L1484 1222.1L1525 1245.3L1566 1268.5L1569 1270.1L1569 1585.0L1566 1585.0L1525 1585.0L1484 1585.0L1442 1585.0L1401 1585.0L1360 1585.0L1319 1585.0L1278 1585.0L1236 1585.0L1195 1579.1L1154 1562.2L1113 1545.5L1072 1528.8L1030 1512.2L989 1495.7L948 1479.2L907 1462.9L866 1446.6L824 1430.4L783 1414.3L742 1398.3L701 1382.4L660 1366.5L618 1350.7L577 1335.0L536 1319.4L495 1303.9L454 1288.4L412 1273.1L371 1257.8L330 1242.6Z" fill="#817b86"/>
<path d="M330 662.6L371 678.8L412 695.3L454 712.2L495 729.5L536 747.1L577 765.0L618 783.2L660 801.8L701 820.6L742 839.8L783 859.2L824 878.9L866 898.9L907 919.2L948 939.7L989 960.5L1030 981.4L1072 1002.7L1113 1024.1L1154 1045.8L1195 1067.6L1236 1089.6L1278 1111.9L1319 1134.3L1360 1156.8L1401 1179.6L1442 1202.4L1484 1225.4L1525 1248.6L1566 1271.8L1569 1273.4L1569 1585.0L1566 1585.0L1525 1585.0L1484 1585.0L1442 1585.0L1401 1585.0L1360 1585.0L1319 1585.0L1278 1585.0L1236 1585.0L1195 1577.6L1154 1560.8L1113 1544.0L1072 1527.3L1030 1510.7L989 1494.2L948 1477.7L907 1461.3L866 1445.0L824 1428.8L783 1412.7L742 1396.6L701 1380.7L660 1364.8L618 1348.9L577 1333.2L536 1317.5L495 1302.0L454 1286.4L412 1271.0L371 1255.7L330 1240.4Z" fill="#837c85"/>
<path d="M330 665.0L371 681.2L412 697.7L454 714.7L495 731.9L536 749.6L577 767.5L618 785.8L660 804.4L701 823.3L742 842.5L783 862.0L824 881.7L866 901.8L907 922.1L948 942.6L989 963.4L1030 984.4L1072 1005.7L1113 1027.2L1154 1048.9L1195 1070.7L1236 1092.8L1278 1115.1L1319 1137.5L1360 1160.1L1401 1182.8L1442 1205.7L1484 1228.7L1525 1251.8L1566 1275.1L1569 1276.6L1569 1585.0L1566 1585.0L1525 1585.0L1484 1585.0L1442 1585.0L1401 1585.0L1360 1585.0L1319 1585.0L1278 1585.0L1236 1585.0L1195 1576.2L1154 1559.3L1113 1542.5L1072 1525.8L1030 1509.2L989 1492.7L948 1476.2L907 1459.8L866 1443.5L824 1427.3L783 1411.1L742 1395.0L701 1379.0L660 1363.1L618 1347.2L577 1331.4L536 1315.7L495 1300.1L454 1284.5L412 1269.0L371 1253.6L330 1238.3Z" fill="#857d83"/>
<path d="M330 667.3L371 683.5L412 700.1L454 717.1L495 734.4L536 752.0L577 770.0L618 788.3L660 807.0L701 825.9L742 845.1L783 864.7L824 884.5L866 904.5L907 924.9L948 945.5L989 966.3L1030 987.4L1072 1008.7L1113 1030.2L1154 1051.9L1195 1073.8L1236 1095.9L1278 1118.2L1319 1140.6L1360 1163.2L1401 1186.0L1442 1208.9L1484 1231.9L1525 1255.0L1566 1278.3L1569 1279.8L1569 1585.0L1566 1585.0L1525 1585.0L1484 1585.0L1442 1585.0L1401 1585.0L1360 1585.0L1319 1585.0L1278 1585.0L1236 1585.0L1195 1574.7L1154 1557.9L1113 1541.1L1072 1524.4L1030 1507.8L989 1491.2L948 1474.7L907 1458.3L866 1442.0L824 1425.7L783 1409.5L742 1393.4L701 1377.3L660 1361.4L618 1345.5L577 1329.6L536 1313.9L495 1298.2L454 1282.6L412 1267.0L371 1251.6L330 1236.2Z" fill="#887e82"/>
<path d="M330 669.6L371 685.8L412 702.5L454 719.4L495 736.8L536 754.5L577 772.5L618 790.8L660 809.5L701 828.5L742 847.8L783 867.3L824 887.2L866 907.3L907 927.7L948 948.3L989 969.2L1030 990.3L1072 1011.6L1113 1033.2L1154 1054.9L1195 1076.8L1236 1099.0L1278 1121.3L1319 1143.7L1360 1166.3L1401 1189.1L1442 1212.0L1484 1235.0L1525 1258.1L1566 1281.4L1569 1282.9L1569 1585.0L1566 1585.0L1525 1585.0L1484 1585.0L1442 1585.0L1401 1585.0L1360 1585.0L1319 1585.0L1278 1585.0L1236 1585.0L1195 1573.3L1154 1556.5L1113 1539.7L1072 1523.0L1030 1506.3L989 1489.8L948 1473.3L907 1456.8L866 1440.5L824 1424.2L783 1408.0L742 1391.8L701 1375.7L660 1359.7L618 1343.8L577 1327.9L536 1312.1L495 1296.4L454 1280.7L412 1265.1L371 1249.6L330 1234.1Z" fill="#8a7f80"/>
<path d="M330 671.9L371 688.1L412 704.8L454 721.8L495 739.2L536 756.9L577 775.0L618 793.3L660 812.1L701 831.1L742 850.4L783 870.0L824 889.9L866 910.0L907 930.5L948 951.1L989 972.0L1030 993.2L1072 1014.5L1113 1036.1L1154 1057.9L1195 1079.8L1236 1102.0L1278 1124.3L1319 1146.8L1360 1169.4L1401 1192.2L1442 1215.1L1484 1238.1L1525 1261.2L1566 1284.5L1569 1286.0L1569 1585.0L1566 1585.0L1525 1585.0L1484 1585.0L1442 1585.0L1401 1585.0L1360 1585.0L1319 1585.0L1278 1585.0L1236 1585.0L1195 1571.9L1154 1555.1L1113 1538.3L1072 1521.6L1030 1504.9L989 1488.3L948 1471.8L907 1455.4L866 1439.0L824 1422.7L783 1406.4L742 1390.2L701 1374.1L660 1358.1L618 1342.1L577 1326.2L536 1310.3L495 1294.5L454 1278.8L412 1263.2L371 1247.6L330 1232.1Z" fill="#8d807f"/>
<path d="M330 674.1L371 690.4L412 707.1L454 724.1L495 741.6L536 759.3L577 777.4L618 795.8L660 814.6L701 833.6L742 853.0L783 872.6L824 892.6L866 912.8L907 933.2L948 953.9L989 974.8L1030 996.0L1072 1017.4L1113 1039.0L1154 1060.8L1195 1082.8L1236 1104.9L1278 1127.3L1319 1149.8L1360 1172.4L1401 1195.2L1442 1218.1L1484 1241.1L1525 1264.2L1566 1287.5L1569 1289.0L1569 1585.0L1566 1585.0L1525 1585.0L1484 1585.0L1442 1585.0L1401 1585.0L1360 1585.0L1319 1585.0L1278 1585.0L1236 1585.0L1195 1570.6L1154 1553.7L1113 1536.9L1072 1520.2L1030 1503.5L989 1486.9L948 1470.4L907 1453.9L866 1437.5L824 1421.2L783 1404.9L742 1388.7L701 1372.5L660 1356.4L618 1340.4L577 1324.5L536 1308.6L495 1292.7L454 1276.9L412 1261.2L371 1245.6L330 1230.0Z" fill="#8f817d"/>
<path d="M330 676.3L371 692.7L412 709.4L454 726.5L495 743.9L536 761.7L577 779.9L618 798.3L660 817.1L701 836.2L742 855.6L783 875.3L824 895.2L866 915.5L907 935.9L948 956.7L989 977.6L1030 998.8L1072 1020.2L1113 1041.9L1154 1063.7L1195 1085.7L1236 1107.9L1278 1130.2L1319 1152.7L1360 1175.4L1401 1198.2L1442 1221.1L1484 1244.1L1525 1267.2L1566 1290.4L1569 1292.0L1569 1585.0L1566 1585.0L1525 1585.0L1484 1585.0L1442 1585.0L1401 1585.0L1360 1585.0L1319 1585.0L1278 1585.0L1236 1585.0L1195 1569.2L1154 1552.3L1113 1535.6L1072 1518.8L1030 1502.1L989 1485.5L948 1469.0L907 1452.5L866 1436.1L824 1419.7L783 1403.4L742 1387.1L701 1370.9L660 1354.8L618 1338.7L577 1322.7L536 1306.8L495 1290.9L454 1275.1L412 1259.3L371 1243.6L330 1228.0Z" fill="#92827c"/>
<path d="M330 678.5L371 694.9L412 711.7L454 728.8L495 746.3L536 764.1L577 782.3L618 800.8L660 819.6L701 838.8L742 858.2L783 877.9L824 897.9L866 918.2L907 938.7L948 959.4L989 980.4L1030 1001.7L1072 1023.1L1113 1044.7L1154 1066.6L1195 1088.6L1236 1110.8L1278 1133.1L1319 1155.7L1360 1178.3L1401 1201.1L1442 1224.0L1484 1247.0L1525 1270.2L1566 1293.4L1569 1294.9L1569 1585.0L1566 1585.0L1525 1585.0L1484 1585.0L1442 1585.0L1401 1585.0L1360 1585.0L1319 1585.0L1278 1585.0L1236 1584.8L1195 1567.9L1154 1551.0L1113 1534.2L1072 1517.5L1030 1500.8L989 1484.1L948 1467.6L907 1451.0L866 1434.6L824 1418.2L783 1401.9L742 1385.6L701 1369.3L660 1353.2L618 1337.1L577 1321.0L536 1305.0L495 1289.1L454 1273.2L412 1257.4L371 1241.6L330 1225.9Z" fill="#94827b"/>
<path d="M330 680.7L371 697.2L412 714.0L454 731.1L495 748.7L536 766.6L577 784.8L618 803.3L660 822.2L701 841.4L742 860.8L783 880.6L824 900.6L866 920.9L907 941.4L948 962.2L989 983.2L1030 1004.5L1072 1025.9L1113 1047.6L1154 1069.4L1195 1091.5L1236 1113.7L1278 1136.0L1319 1158.6L1360 1181.2L1401 1204.0L1442 1226.9L1484 1250.0L1525 1273.1L1566 1296.3L1569 1297.8L1569 1585.0L1566 1585.0L1525 1585.0L1484 1585.0L1442 1585.0L1401 1585.0L1360 1585.0L1319 1585.0L1278 1585.0L1236 1583.4L1195 1566.5L1154 1549.7L1113 1532.8L1072 1516.1L1030 1499.4L989 1482.7L948 1466.1L907 1449.6L866 1433.1L824 1416.7L783 1400.3L742 1384.0L701 1367.7L660 1351.5L618 1335.4L577 1319.3L536 1303.2L495 1287.3L454 1271.3L412 1255.4L371 1239.6L330 1223.9Z" fill="#968379"/>
<path d="M330 682.9L371 699.4L412 716.3L454 733.5L495 751.1L536 769.0L577 787.3L618 805.9L660 824.8L701 844.0L742 863.5L783 883.2L824 903.3L866 923.6L907 944.2L948 965.0L989 986.0L1030 1007.3L1072 1028.7L1113 1050.4L1154 1072.3L1195 1094.3L1236 1116.5L1278 1138.9L1319 1161.4L1360 1184.1L1401 1206.9L1442 1229.8L1484 1252.8L1525 1276.0L1566 1299.2L1569 1300.7L1569 1585.0L1566 1585.0L1525 1585.0L1484 1585.0L1442 1585.0L1401 1585.0L1360 1585.0L1319 1585.0L1278 1585.0L1236 1582.1L1195 1565.2L1154 1548.3L1113 1531.5L1072 1514.7L1030 1498.0L989 1481.3L948 1464.7L907 1448.2L866 1431.7L824 1415.2L783 1398.8L742 1382.4L701 1366.1L660 1349.9L618 1333.7L577 1317.5L536 1301.4L495 1285.4L454 1269.4L412 1253.5L371 1237.6L330 1221.8Z" fill="#998478"/>
<path d="M330 685.1L371 701.6L412 718.5L454 735.8L495 753.5L536 771.4L577 789.8L618 808.4L660 827.3L701 846.6L742 866.1L783 885.9L824 906.0L866 926.3L907 946.9L948 967.7L989 988.8L1030 1010.1L1072 1031.5L1113 1053.2L1154 1075.1L1195 1097.2L1236 1119.4L1278 1141.8L1319 1164.3L1360 1186.9L1401 1209.7L1442 1232.7L1484 1255.7L1525 1278.8L1566 1302.0L1569 1303.5L1569 1585.0L1566 1585.0L1525 1585.0L1484 1585.0L1442 1585.0L1401 1585.0L1360 1585.0L1319 1585.0L1278 1585.0L1236 1580.8L1195 1563.9L1154 1547.0L1113 1530.2L1072 1513.4L1030 1496.7L989 1480.0L948 1463.3L907 1446.7L866 1430.2L824 1413.7L783 1397.3L742 1380.9L701 1364.5L660 1348.2L618 1332.0L577 1315.8L536 1299.7L495 1283.6L454 1267.5L412 1251.5L371 1235.6L330 1219.7Z" fill="#9b8576"/>
<path d="M330 687.2L371 703.8L412 720.8L454 738.1L495 755.8L536 773.9L577 792.2L618 810.9L660 829.9L701 849.1L742 868.7L783 888.5L824 908.6L866 929.0L907 949.6L948 970.5L989 991.5L1030 1012.8L1072 1034.3L1113 1056.0L1154 1077.9L1195 1099.9L1236 1122.2L1278 1144.5L1319 1167.1L1360 1189.7L1401 1212.5L1442 1235.4L1484 1258.5L1525 1281.6L1566 1304.8L1569 1306.3L1569 1585.0L1566 1585.0L1525 1585.0L1484 1585.0L1442 1585.0L1401 1585.0L1360 1585.0L1319 1585.0L1278 1585.0L1236 1579.6L1195 1562.6L1154 1545.7L1113 1528.9L1072 1512.1L1030 1495.3L989 1478.6L948 1462.0L907 1445.3L866 1428.8L824 1412.2L783 1395.8L742 1379.3L701 1363.0L660 1346.6L618 1330.3L577 1314.1L536 1297.9L495 1281.8L454 1265.7L412 1249.6L371 1233.6L330 1217.7Z" fill="#9e8675"/>
<path d="M330 689.3L371 706.0L412 723.0L454 740.4L495 758.2L536 776.3L577 794.7L618 813.4L660 832.4L701 851.7L742 871.3L783 891.2L824 911.3L866 931.7L907 952.3L948 973.2L989 994.2L1030 1015.5L1072 1037.0L1113 1058.7L1154 1080.6L1195 1102.7L1236 1124.9L1278 1147.3L1319 1169.8L1360 1192.5L1401 1215.3L1442 1238.2L1484 1261.2L1525 1284.3L1566 1307.5L1569 1309.0L1569 1585.0L1566 1585.0L1525 1585.0L1484 1585.0L1442 1585.0L1401 1585.0L1360 1585.0L1319 1585.0L1278 1585.0L1236 1578.3L1195 1561.4L1154 1544.5L1113 1527.6L1072 1510.8L1030 1494.0L989 1477.3L948 1460.6L907 1444.0L866 1427.4L824 1410.8L783 1394.3L742 1377.8L701 1361.4L660 1345.0L618 1328.7L577 1312.4L536 1296.2L495 1280.0L454 1263.8L412 1247.7L371 1231.7L330 1215.6Z" fill="#a08773"/>
<path d="M330 691.3L371 708.1L412 725.2L454 742.7L495 760.5L536 778.7L577 797.1L618 815.9L660 834.9L701 854.3L742 873.9L783 893.8L824 913.9L866 934.3L907 955.0L948 975.8L989 996.9L1030 1018.2L1072 1039.7L1113 1061.4L1154 1083.3L1195 1105.4L1236 1127.6L1278 1150.0L1319 1172.5L1360 1195.2L1401 1218.0L1442 1240.9L1484 1263.9L1525 1287.0L1566 1310.2L1569 1311.7L1569 1585.0L1566 1585.0L1525 1585.0L1484 1585.0L1442 1585.0L1401 1585.0L1360 1585.0L1319 1585.0L1278 1585.0L1236 1577.1L1195 1560.1L1154 1543.2L1113 1526.3L1072 1509.5L1030 1492.7L989 1476.0L948 1459.3L907 1442.6L866 1426.0L824 1409.4L783 1392.8L742 1376.3L701 1359.9L660 1343.5L618 1327.1L577 1310.8L536 1294.5L495 1278.2L454 1262.0L412 1245.8L371 1229.7L330 1213.6Z" fill="#a38872"/>
<path d="M330 693.4L371 710.2L412 727.4L454 745.0L495 762.9L536 781.0L577 799.5L618 818.3L660 837.4L701 856.8L742 876.5L783 896.4L824 916.5L866 937.0L907 957.6L948 978.5L989 999.6L1030 1020.9L1072 1042.4L1113 1064.1L1154 1086.0L1195 1108.1L1236 1130.3L1278 1152.6L1319 1175.2L1360 1197.8L1401 1220.6L1442 1243.5L1484 1266.5L1525 1289.6L1566 1312.8L1569 1314.4L1569 1585.0L1566 1585.0L1525 1585.0L1484 1585.0L1442 1585.0L1401 1585.0L1360 1585.0L1319 1585.0L1278 1585.0L1236 1575.9L1195 1558.9L1154 1542.0L1113 1525.1L1072 1508.3L1030 1491.4L989 1474.7L948 1457.9L907 1441.3L866 1424.6L824 1408.0L783 1391.4L742 1374.9L701 1358.4L660 1341.9L618 1325.5L577 1309.1L536 1292.8L495 1276.5L454 1260.2L412 1244.0L371 1227.8L330 1211.6Z" fill="#a58970"/>
<path d="M330 695.4L371 712.3L412 729.6L454 747.2L495 765.2L536 783.4L577 801.9L618 820.8L660 839.9L701 859.3L742 879.0L783 898.9L824 919.1L866 939.6L907 960.2L948 981.1L989 1002.2L1030 1023.5L1072 1045.1L1113 1066.8L1154 1088.6L1195 1110.7L1236 1132.9L1278 1155.3L1319 1177.8L1360 1200.4L1401 1223.2L1442 1246.1L1484 1269.1L1525 1292.2L1566 1315.5L1569 1317.0L1569 1585.0L1566 1585.0L1525 1585.0L1484 1585.0L1442 1585.0L1401 1585.0L1360 1585.0L1319 1585.0L1278 1585.0L1236 1574.7L1195 1557.7L1154 1540.8L1113 1523.9L1072 1507.0L1030 1490.2L989 1473.4L948 1456.6L907 1439.9L866 1423.2L824 1406.6L783 1390.0L742 1373.4L701 1356.9L660 1340.4L618 1323.9L577 1307.5L536 1291.1L495 1274.7L454 1258.4L412 1242.1L371 1225.8L330 1209.6Z" fill="#a78a6f"/>
<path d="M330 697.4L371 714.4L412 731.8L454 749.5L495 767.5L536 785.7L577 804.3L618 823.2L660 842.4L701 861.8L742 881.5L783 901.5L824 921.7L866 942.2L907 962.8L948 983.7L989 1004.8L1030 1026.2L1072 1047.7L1113 1069.4L1154 1091.2L1195 1113.3L1236 1135.5L1278 1157.9L1319 1180.4L1360 1203.0L1401 1225.8L1442 1248.7L1484 1271.7L1525 1294.8L1566 1318.0L1569 1319.5L1569 1585.0L1566 1585.0L1525 1585.0L1484 1585.0L1442 1585.0L1401 1585.0L1360 1585.0L1319 1585.0L1278 1585.0L1236 1573.5L1195 1556.5L1154 1539.6L1113 1522.6L1072 1505.8L1030 1488.9L989 1472.1L948 1455.3L907 1438.6L866 1421.9L824 1405.2L783 1388.6L742 1372.0L701 1355.4L660 1338.8L618 1322.3L577 1305.8L536 1289.4L495 1273.0L454 1256.6L412 1240.2L371 1223.9L330 1207.6Z" fill="#aa8b6e"/>
<path d="M330 699.4L371 716.5L412 733.9L454 751.7L495 769.7L536 788.1L577 806.7L618 825.7L660 844.9L701 864.3L742 884.1L783 904.0L824 924.3L866 944.7L907 965.4L948 986.3L989 1007.4L1030 1028.7L1072 1050.3L1113 1072.0L1154 1093.8L1195 1115.9L1236 1138.1L1278 1160.4L1319 1182.9L1360 1205.6L1401 1228.3L1442 1251.2L1484 1274.2L1525 1297.3L1566 1320.5L1569 1322.1L1569 1585.0L1566 1585.0L1525 1585.0L1484 1585.0L1442 1585.0L1401 1585.0L1360 1585.0L1319 1585.0L1278 1585.0L1236 1572.3L1195 1555.3L1154 1538.4L1113 1521.4L1072 1504.6L1030 1487.7L989 1470.9L948 1454.1L907 1437.3L866 1420.6L824 1403.8L783 1387.2L742 1370.5L701 1353.9L660 1337.3L618 1320.8L577 1304.2L536 1287.7L495 1271.3L454 1254.8L412 1238.4L371 1222.0L330 1205.7Z" fill="#ac8b6c"/>
<path d="M330 701.4L371 718.6L412 736.1L454 753.9L495 772.0L536 790.4L577 809.1L618 828.1L660 847.3L701 866.8L742 886.6L783 906.6L824 926.8L866 947.3L907 968.0L948 988.9L989 1010.0L1030 1031.3L1072 1052.8L1113 1074.5L1154 1096.4L1195 1118.4L1236 1140.6L1278 1163.0L1319 1185.5L1360 1208.1L1401 1230.9L1442 1253.7L1484 1276.7L1525 1299.8L1566 1323.0L1569 1324.6L1569 1585.0L1566 1585.0L1525 1585.0L1484 1585.0L1442 1585.0L1401 1585.0L1360 1585.0L1319 1585.0L1278 1585.0L1236 1571.1L1195 1554.1L1154 1537.2L1113 1520.2L1072 1503.3L1030 1486.5L989 1469.6L948 1452.8L907 1436.0L866 1419.2L824 1402.5L783 1385.8L742 1369.1L701 1352.4L660 1335.8L618 1319.2L577 1302.6L536 1286.1L495 1269.5L454 1253.0L412 1236.6L371 1220.1L330 1203.7Z" fill="#af8c6b"/>
<path d="M330 703.3L371 720.6L412 738.2L454 756.1L495 774.2L536 792.7L577 811.4L618 830.4L660 849.7L701 869.2L742 889.0L783 909.1L824 929.3L866 949.8L907 970.5L948 991.4L989 1012.5L1030 1033.9L1072 1055.4L1113 1077.0L1154 1098.9L1195 1120.9L1236 1143.1L1278 1165.5L1319 1188.0L1360 1210.6L1401 1233.3L1442 1256.2L1484 1279.2L1525 1302.3L1566 1325.5L1569 1327.0L1569 1585.0L1566 1585.0L1525 1585.0L1484 1585.0L1442 1585.0L1401 1585.0L1360 1585.0L1319 1585.0L1278 1585.0L1236 1570.0L1195 1553.0L1154 1536.0L1113 1519.1L1072 1502.1L1030 1485.2L989 1468.4L948 1451.5L907 1434.7L866 1417.9L824 1401.1L783 1384.4L742 1367.7L701 1351.0L660 1334.3L618 1317.6L577 1301.0L536 1284.4L495 1267.8L454 1251.3L412 1234.8L371 1218.3L330 1201.8Z" fill="#b18d69"/>
<path d="M330 705.3L371 722.6L412 740.3L454 758.2L495 776.5L536 795.0L577 813.8L618 832.8L660 852.1L701 871.7L742 891.5L783 911.5L824 931.8L866 952.3L907 973.0L948 993.9L989 1015.1L1030 1036.4L1072 1057.9L1113 1079.6L1154 1101.4L1195 1123.4L1236 1145.6L1278 1168.0L1319 1190.4L1360 1213.1L1401 1235.8L1442 1258.7L1484 1281.7L1525 1304.8L1566 1328.0L1569 1329.5L1569 1585.0L1566 1585.0L1525 1585.0L1484 1585.0L1442 1585.0L1401 1585.0L1360 1585.0L1319 1585.0L1278 1585.0L1236 1568.8L1195 1551.8L1154 1534.8L1113 1517.9L1072 1500.9L1030 1484.0L989 1467.1L948 1450.3L907 1433.4L866 1416.6L824 1399.8L783 1383.0L742 1366.2L701 1349.5L660 1332.8L618 1316.1L577 1299.4L536 1282.8L495 1266.1L454 1249.5L412 1232.9L371 1216.4L330 1199.8Z" fill="#b48e68"/>
<path d="M330 707.2L371 724.6L412 742.4L454 760.4L495 778.7L536 797.2L577 816.1L618 835.1L660 854.5L701 874.1L742 893.9L783 914.0L824 934.3L866 954.8L907 975.5L948 996.4L989 1017.6L1030 1038.9L1072 1060.4L1113 1082.1L1154 1103.9L1195 1125.9L1236 1148.1L1278 1170.4L1319 1192.9L1360 1215.5L1401 1238.2L1442 1261.1L1484 1284.1L1525 1307.2L1566 1330.4L1569 1331.9L1569 1585.0L1566 1585.0L1525 1585.0L1484 1585.0L1442 1585.0L1401 1585.0L1360 1585.0L1319 1585.0L1278 1584.7L1236 1567.6L1195 1550.6L1154 1533.6L1113 1516.7L1072 1499.7L1030 1482.8L989 1465.9L948 1449.0L907 1432.1L866 1415.3L824 1398.4L783 1381.6L742 1364.8L701 1348.0L660 1331.3L618 1314.5L577 1297.8L536 1281.1L495 1264.4L454 1247.8L412 1231.1L371 1214.5L330 1197.9Z" fill="#b68f66"/>
<path d="M330 709.2L371 726.7L412 744.4L454 762.5L495 780.9L536 799.5L577 818.3L618 837.5L660 856.8L701 876.5L742 896.3L783 916.4L824 936.7L866 957.2L907 978.0L948 998.9L989 1020.0L1030 1041.3L1072 1062.8L1113 1084.5L1154 1106.4L1195 1128.4L1236 1150.6L1278 1172.9L1319 1195.3L1360 1217.9L1401 1240.7L1442 1263.5L1484 1286.5L1525 1309.6L1566 1332.8L1569 1334.3L1569 1585.0L1566 1585.0L1525 1585.0L1484 1585.0L1442 1585.0L1401 1585.0L1360 1585.0L1319 1585.0L1278 1583.5L1236 1566.5L1195 1549.5L1154 1532.5L1113 1515.5L1072 1498.5L1030 1481.6L989 1464.6L948 1447.7L907 1430.8L866 1413.9L824 1397.1L783 1380.2L742 1363.4L701 1346.6L660 1329.8L618 1313.0L577 1296.2L536 1279.5L495 1262.8L454 1246.0L412 1229.3L371 1212.7L330 1196.0Z" fill="#b99065"/>
<path d="M330 711.1L371 728.6L412 746.5L454 764.6L495 783.0L536 801.7L577 820.6L618 839.8L660 859.2L701 878.8L742 898.7L783 918.8L824 939.1L866 959.7L907 980.4L948 1001.3L989 1022.5L1030 1043.8L1072 1065.3L1113 1087.0L1154 1108.8L1195 1130.8L1236 1153.0L1278 1175.3L1319 1197.8L1360 1220.4L1401 1243.1L1442 1265.9L1484 1288.9L1525 1312.0L1566 1335.1L1569 1336.7L1569 1585.0L1566 1585.0L1525 1585.0L1484 1585.0L1442 1585.0L1401 1585.0L1360 1585.0L1319 1585.0L1278 1582.4L1236 1565.4L1195 1548.3L1154 1531.3L1113 1514.3L1072 1497.3L1030 1480.3L989 1463.4L948 1446.5L907 1429.5L866 1412.6L824 1395.7L783 1378.8L742 1362.0L701 1345.1L660 1328.3L618 1311.4L577 1294.6L536 1277.8L495 1261.1L454 1244.3L412 1227.5L371 1210.8L330 1194.1Z" fill="#bb9163"/>
<path d="M330 713.0L371 730.6L412 748.6L454 766.7L495 785.2L536 803.9L577 822.8L618 842.0L660 861.5L701 881.2L742 901.1L783 921.2L824 941.5L866 962.1L907 982.8L948 1003.8L989 1024.9L1030 1046.2L1072 1067.7L1113 1089.4L1154 1111.3L1195 1133.3L1236 1155.4L1278 1177.7L1319 1200.2L1360 1222.8L1401 1245.5L1442 1268.3L1484 1291.3L1525 1314.3L1566 1337.5L1569 1339.0L1569 1585.0L1566 1585.0L1525 1585.0L1484 1585.0L1442 1585.0L1401 1585.0L1360 1585.0L1319 1585.0L1278 1581.3L1236 1564.2L1195 1547.2L1154 1530.1L1113 1513.1L1072 1496.1L1030 1479.1L989 1462.1L948 1445.2L907 1428.2L866 1411.3L824 1394.3L783 1377.4L742 1360.5L701 1343.6L660 1326.8L618 1309.9L577 1293.0L536 1276.2L495 1259.4L454 1242.5L412 1225.7L371 1209.0L330 1192.2Z" fill="#bd9262"/>
<path d="M330 714.9L371 732.6L412 750.6L454 768.8L495 787.3L536 806.1L577 825.1L618 844.3L660 863.8L701 883.5L742 903.4L783 923.5L824 943.9L866 964.5L907 985.2L948 1006.2L989 1027.3L1030 1048.7L1072 1070.2L1113 1091.9L1154 1113.7L1195 1135.7L1236 1157.8L1278 1180.1L1319 1202.6L1360 1225.2L1401 1247.9L1442 1270.7L1484 1293.6L1525 1316.7L1566 1339.9L1569 1341.4L1569 1585.0L1566 1585.0L1525 1585.0L1484 1585.0L1442 1585.0L1401 1585.0L1360 1585.0L1319 1585.0L1278 1580.1L1236 1563.0L1195 1546.0L1154 1529.0L1113 1511.9L1072 1494.9L1030 1477.9L989 1460.9L948 1443.9L907 1426.9L866 1409.9L824 1393.0L783 1376.0L742 1359.1L701 1342.2L660 1325.2L618 1308.3L577 1291.4L536 1274.5L495 1257.7L454 1240.8L412 1223.9L371 1207.1L330 1190.3Z" fill="#c09360"/>
<path d="M330 716.8L371 734.6L412 752.6L454 770.9L495 789.4L536 808.2L577 827.2L618 846.5L660 866.0L701 885.7L742 905.7L783 925.9L824 946.2L866 966.8L907 987.6L948 1008.6L989 1029.7L1030 1051.1L1072 1072.6L1113 1094.3L1154 1116.1L1195 1138.1L1236 1160.2L1278 1182.5L1319 1205.0L1360 1227.5L1401 1250.2L1442 1273.0L1484 1296.0L1525 1319.0L1566 1342.2L1569 1343.7L1569 1585.0L1566 1585.0L1525 1585.0L1484 1585.0L1442 1585.0L1401 1585.0L1360 1585.0L1319 1585.0L1278 1579.0L1236 1561.9L1195 1544.8L1154 1527.8L1113 1510.7L1072 1493.7L1030 1476.7L989 1459.6L948 1442.6L907 1425.6L866 1408.6L824 1391.6L783 1374.6L742 1357.7L701 1340.7L660 1323.7L618 1306.8L577 1289.8L536 1272.9L495 1256.0L454 1239.1L412 1222.2L371 1205.3L330 1188.4Z" fill="#c2945f"/>
<path d="M330 718.7L371 736.5L412 754.6L454 772.9L495 791.5L536 810.3L577 829.4L618 848.7L660 868.2L701 888.0L742 908.0L783 928.2L824 948.6L866 969.2L907 989.9L948 1010.9L989 1032.1L1030 1053.4L1072 1075.0L1113 1096.6L1154 1118.5L1195 1140.5L1236 1162.6L1278 1184.9L1319 1207.3L1360 1229.9L1401 1252.6L1442 1275.4L1484 1298.3L1525 1321.3L1566 1344.5L1569 1346.0L1569 1585.0L1566 1585.0L1525 1585.0L1484 1585.0L1442 1585.0L1401 1585.0L1360 1585.0L1319 1585.0L1278 1577.9L1236 1560.8L1195 1543.7L1154 1526.6L1113 1509.5L1072 1492.5L1030 1475.4L989 1458.4L948 1441.3L907 1424.3L866 1407.3L824 1390.2L783 1373.2L742 1356.2L701 1339.2L660 1322.2L618 1305.2L577 1288.2L536 1271.3L495 1254.3L454 1237.3L412 1220.4L371 1203.4L330 1186.5Z" fill="#c5945e"/>
<path d="M330 720.6L371 738.5L412 756.6L454 775.0L495 793.6L536 812.4L577 831.5L618 850.9L660 870.4L701 890.2L742 910.2L783 930.4L824 950.9L866 971.5L907 992.3L948 1013.3L989 1034.4L1030 1055.8L1072 1077.3L1113 1099.0L1154 1120.8L1195 1142.8L1236 1165.0L1278 1187.2L1319 1209.7L1360 1232.2L1401 1254.9L1442 1277.7L1484 1300.6L1525 1323.6L1566 1346.7L1569 1348.2L1569 1585.0L1566 1585.0L1525 1585.0L1484 1585.0L1442 1585.0L1401 1585.0L1360 1585.0L1319 1585.0L1278 1576.7L1236 1559.6L1195 1542.5L1154 1525.5L1113 1508.4L1072 1491.3L1030 1474.2L989 1457.1L948 1440.1L907 1423.0L866 1405.9L824 1388.9L783 1371.8L742 1354.8L701 1337.8L660 1320.7L618 1303.7L577 1286.7L536 1269.6L495 1252.6L454 1235.6L412 1218.6L371 1201.6L330 1184.6Z" fill="#c7955c"/>
<path d="M330 722.5L371 740.4L412 758.5L454 777.0L495 795.6L536 814.5L577 833.7L618 853.0L660 872.6L701 892.4L742 912.5L783 932.7L824 953.1L866 973.7L907 994.6L948 1015.6L989 1036.8L1030 1058.1L1072 1079.6L1113 1101.3L1154 1123.2L1195 1145.2L1236 1167.3L1278 1189.6L1319 1212.0L1360 1234.5L1401 1257.2L1442 1280.0L1484 1302.8L1525 1325.8L1566 1348.9L1569 1350.5L1569 1585.0L1566 1585.0L1525 1585.0L1484 1585.0L1442 1585.0L1401 1585.0L1360 1585.0L1319 1585.0L1278 1575.6L1236 1558.5L1195 1541.4L1154 1524.3L1113 1507.2L1072 1490.1L1030 1473.0L989 1455.9L948 1438.8L907 1421.7L866 1404.6L824 1387.5L783 1370.5L742 1353.4L701 1336.3L660 1319.2L618 1302.2L577 1285.1L536 1268.0L495 1251.0L454 1233.9L412 1216.8L371 1199.8L330 1182.7Z" fill="#ca965b"/>
<path d="M330 724.3L371 742.3L412 760.5L454 779.0L495 797.7L536 816.6L577 835.8L618 855.2L660 874.8L701 894.6L742 914.7L783 934.9L824 955.4L866 976.0L907 996.8L948 1017.9L989 1039.0L1030 1060.4L1072 1081.9L1113 1103.6L1154 1125.5L1195 1147.5L1236 1169.6L1278 1191.9L1319 1214.3L1360 1236.8L1401 1259.4L1442 1282.2L1484 1305.1L1525 1328.1L1566 1351.1L1569 1352.7L1569 1585.0L1566 1585.0L1525 1585.0L1484 1585.0L1442 1585.0L1401 1585.0L1360 1585.0L1319 1585.0L1278 1574.5L1236 1557.4L1195 1540.3L1154 1523.2L1113 1506.0L1072 1488.9L1030 1471.8L989 1454.7L948 1437.5L907 1420.4L866 1403.3L824 1386.2L783 1369.1L742 1352.0L701 1334.9L660 1317.7L618 1300.6L577 1283.5L536 1266.4L495 1249.3L454 1232.2L412 1215.1L371 1198.0L330 1180.9Z" fill="#cc9759"/>
<path d="M330 726.2L371 744.2L412 762.4L454 780.9L495 799.7L536 818.6L577 837.8L618 857.3L660 876.9L701 896.8L742 916.9L783 937.1L824 957.6L866 978.3L907 999.1L948 1020.1L989 1041.3L1030 1062.7L1072 1084.2L1113 1105.9L1154 1127.8L1195 1149.8L1236 1171.9L1278 1194.1L1319 1216.5L1360 1239.1L1401 1261.7L1442 1284.4L1484 1307.3L1525 1330.3L1566 1353.3L1569 1354.8L1569 1585.0L1566 1585.0L1525 1585.0L1484 1585.0L1442 1585.0L1401 1585.0L1360 1585.0L1319 1585.0L1278 1573.4L1236 1556.3L1195 1539.2L1154 1522.0L1113 1504.9L1072 1487.7L1030 1470.6L989 1453.4L948 1436.3L907 1419.1L866 1402.0L824 1384.9L783 1367.7L742 1350.6L701 1333.4L660 1316.3L618 1299.1L577 1282.0L536 1264.8L495 1247.7L454 1230.5L412 1213.3L371 1196.2L330 1179.0Z" fill="#ce9858"/>
<path d="M330 728.0L371 746.1L412 764.4L454 782.9L495 801.7L536 820.7L577 839.9L618 859.4L660 879.0L701 898.9L742 919.0L783 939.3L824 959.8L866 980.5L907 1001.3L948 1022.4L989 1043.6L1030 1065.0L1072 1086.5L1113 1108.2L1154 1130.0L1195 1152.0L1236 1174.1L1278 1196.4L1319 1218.8L1360 1241.3L1401 1263.9L1442 1286.7L1484 1309.5L1525 1332.4L1566 1355.5L1569 1357.0L1569 1585.0L1566 1585.0L1525 1585.0L1484 1585.0L1442 1585.0L1401 1585.0L1360 1585.0L1319 1585.0L1278 1572.3L1236 1555.2L1195 1538.0L1154 1520.9L1113 1503.7L1072 1486.5L1030 1469.4L989 1452.2L948 1435.0L907 1417.9L866 1400.7L824 1383.5L783 1366.3L742 1349.1L701 1332.0L660 1314.8L618 1297.6L577 1280.4L536 1263.2L495 1246.0L454 1228.8L412 1211.6L371 1194.4L330 1177.2Z" fill="#d19956"/>
<path d="M330 729.9L371 747.9L412 766.3L454 784.8L495 803.7L536 822.7L577 842.0L618 861.5L660 881.2L701 901.1L742 921.2L783 941.5L824 962.0L866 982.7L907 1003.6L948 1024.6L989 1045.8L1030 1067.2L1072 1088.8L1113 1110.5L1154 1132.3L1195 1154.3L1236 1176.4L1278 1198.7L1319 1221.0L1360 1243.5L1401 1266.1L1442 1288.9L1484 1311.7L1525 1334.6L1566 1357.6L1569 1359.1L1569 1585.0L1566 1585.0L1525 1585.0L1484 1585.0L1442 1585.0L1401 1585.0L1360 1585.0L1319 1585.0L1278 1571.3L1236 1554.1L1195 1536.9L1154 1519.7L1113 1502.6L1072 1485.4L1030 1468.2L989 1451.0L948 1433.8L907 1416.6L866 1399.4L824 1382.2L783 1365.0L742 1347.7L701 1330.5L660 1313.3L618 1296.1L577 1278.8L536 1261.6L495 1244.4L454 1227.1L412 1209.9L371 1192.6L330 1175.4Z" fill="#d39a55"/>
<path d="M330 731.7L371 749.8L412 768.2L454 786.8L495 805.6L536 824.7L577 844.0L618 863.5L660 883.3L701 903.2L742 923.3L783 943.7L824 964.2L866 984.9L907 1005.8L948 1026.8L989 1048.1L1030 1069.5L1072 1091.0L1113 1112.7L1154 1134.5L1195 1156.5L1236 1178.6L1278 1200.9L1319 1223.3L1360 1245.7L1401 1268.3L1442 1291.1L1484 1313.9L1525 1336.8L1566 1359.8L1569 1361.3L1569 1585.0L1566 1585.0L1525 1585.0L1484 1585.0L1442 1585.0L1401 1585.0L1360 1585.0L1319 1585.0L1278 1570.2L1236 1553.0L1195 1535.8L1154 1518.6L1113 1501.4L1072 1484.2L1030 1467.0L989 1449.8L948 1432.5L907 1415.3L866 1398.1L824 1380.8L783 1363.6L742 1346.3L701 1329.1L660 1311.8L618 1294.5L577 1277.3L536 1260.0L495 1242.7L454 1225.4L412 1208.1L371 1190.8L330 1173.5Z" fill="#d69b53"/>
<path d="M330 733.5L371 751.7L412 770.1L454 788.7L495 807.6L536 826.7L577 846.0L618 865.6L660 885.3L701 905.3L742 925.5L783 945.8L824 966.3L866 987.1L907 1008.0L948 1029.0L989 1050.3L1030 1071.7L1072 1093.2L1113 1114.9L1154 1136.8L1195 1158.8L1236 1180.9L1278 1203.1L1319 1225.5L1360 1247.9L1401 1270.5L1442 1293.2L1484 1316.0L1525 1338.9L1566 1361.9L1569 1363.4L1569 1585.0L1566 1585.0L1525 1585.0L1484 1585.0L1442 1585.0L1401 1585.0L1360 1585.0L1319 1585.0L1278 1569.1L1236 1551.9L1195 1534.7L1154 1517.5L1113 1500.2L1072 1483.0L1030 1465.8L989 1448.5L948 1431.3L907 1414.0L866 1396.7L824 1379.5L783 1362.2L742 1344.9L701 1327.6L660 1310.3L618 1293.0L577 1275.7L536 1258.4L495 1241.1L454 1223.7L412 1206.4L371 1189.1L330 1171.7Z" fill="#d89c52"/>
<path d="M330 735.3L371 753.5L412 772.0L454 790.7L495 809.6L536 828.7L577 848.1L618 867.6L660 887.4L701 907.4L742 927.6L783 947.9L824 968.5L866 989.2L907 1010.2L948 1031.2L989 1052.5L1030 1073.9L1072 1095.4L1113 1117.1L1154 1139.0L1195 1161.0L1236 1183.1L1278 1205.3L1319 1227.7L1360 1250.1L1401 1272.7L1442 1295.4L1484 1318.2L1525 1341.0L1566 1364.0L1569 1365.5L1569 1585.0L1566 1585.0L1525 1585.0L1484 1585.0L1442 1585.0L1401 1585.0L1360 1585.0L1319 1585.0L1278 1568.0L1236 1550.8L1195 1533.6L1154 1516.3L1113 1499.1L1072 1481.8L1030 1464.6L989 1447.3L948 1430.0L907 1412.7L866 1395.4L824 1378.1L783 1360.8L742 1343.5L701 1326.2L660 1308.8L618 1291.5L577 1274.1L536 1256.8L495 1239.4L454 1222.1L412 1204.7L371 1187.3L330 1169.9Z" fill="#db9d50"/>
<path d="M330 737.1L371 755.4L412 773.9L454 792.6L495 811.5L536 830.7L577 850.1L618 869.7L660 889.5L701 909.5L742 929.7L783 950.1L824 970.7L866 991.4L907 1012.3L948 1033.4L989 1054.7L1030 1076.1L1072 1097.7L1113 1119.4L1154 1141.2L1195 1163.2L1236 1185.3L1278 1207.5L1319 1229.9L1360 1252.3L1401 1274.9L1442 1297.5L1484 1320.3L1525 1343.1L1566 1366.1L1569 1367.6L1569 1585.0L1566 1585.0L1525 1585.0L1484 1585.0L1442 1585.0L1401 1585.0L1360 1585.0L1319 1584.2L1278 1566.9L1236 1549.7L1195 1532.4L1154 1515.2L1113 1497.9L1072 1480.6L1030 1463.3L989 1446.0L948 1428.7L907 1411.4L866 1394.1L824 1376.8L783 1359.4L742 1342.1L701 1324.7L660 1307.3L618 1290.0L577 1272.6L536 1255.2L495 1237.8L454 1220.4L412 1202.9L371 1185.5L330 1168.1Z" fill="#dd9d4f"/>
<path d="M330 739.0L371 757.2L412 775.8L454 794.5L495 813.5L536 832.7L577 852.1L618 871.7L660 891.6L701 911.6L742 931.8L783 952.2L824 972.8L866 993.6L907 1014.5L948 1035.6L989 1056.9L1030 1078.3L1072 1099.9L1113 1121.6L1154 1143.4L1195 1165.4L1236 1187.5L1278 1209.7L1319 1232.0L1360 1254.5L1401 1277.0L1442 1299.7L1484 1322.4L1525 1345.2L1566 1368.2L1569 1369.7L1569 1585.0L1566 1585.0L1525 1585.0L1484 1585.0L1442 1585.0L1401 1585.0L1360 1585.0L1319 1583.1L1278 1565.9L1236 1548.6L1195 1531.3L1154 1514.0L1113 1496.7L1072 1479.4L1030 1462.1L989 1444.8L948 1427.5L907 1410.1L866 1392.8L824 1375.4L783 1358.0L742 1340.7L701 1323.3L660 1305.9L618 1288.4L577 1271.0L536 1253.6L495 1236.1L454 1218.7L412 1201.2L371 1183.7L330 1166.2Z" fill="#df9e4e"/>
<path d="M330 740.8L371 759.1L412 777.6L454 796.4L495 815.4L536 834.7L577 854.1L618 873.8L660 893.6L701 913.7L742 933.9L783 954.3L824 974.9L866 995.7L907 1016.7L948 1037.8L989 1059.1L1030 1080.5L1072 1102.0L1113 1123.8L1154 1145.6L1195 1167.6L1236 1189.7L1278 1211.9L1319 1234.2L1360 1256.6L1401 1279.2L1442 1301.8L1484 1324.5L1525 1347.3L1566 1370.2L1569 1371.7L1569 1585.0L1566 1585.0L1525 1585.0L1484 1585.0L1442 1585.0L1401 1585.0L1360 1585.0L1319 1582.0L1278 1564.8L1236 1547.5L1195 1530.2L1154 1512.9L1113 1495.6L1072 1478.2L1030 1460.9L989 1443.6L948 1426.2L907 1408.8L866 1391.4L824 1374.0L783 1356.6L742 1339.2L701 1321.8L660 1304.4L618 1286.9L577 1269.4L536 1252.0L495 1234.5L454 1217.0L412 1199.5L371 1182.0L330 1164.4Z" fill="#e29f4c"/>
<path d="M330 742.6L371 761.0L412 779.5L454 798.4L495 817.4L536 836.7L577 856.1L618 875.8L660 895.7L701 915.8L742 936.0L783 956.5L824 977.1L866 997.9L907 1018.8L948 1040.0L989 1061.2L1030 1082.7L1072 1104.2L1113 1125.9L1154 1147.8L1195 1169.8L1236 1191.9L1278 1214.1L1319 1236.4L1360 1258.8L1401 1281.3L1442 1304.0L1484 1326.7L1525 1349.5L1566 1372.3L1569 1373.8L1569 1585.0L1566 1585.0L1525 1585.0L1484 1585.0L1442 1585.0L1401 1585.0L1360 1585.0L1319 1581.0L1278 1563.7L1236 1546.4L1195 1529.1L1154 1511.7L1113 1494.4L1072 1477.0L1030 1459.7L989 1442.3L948 1424.9L907 1407.5L866 1390.1L824 1372.7L783 1355.2L742 1337.8L701 1320.3L660 1302.8L618 1285.4L577 1267.9L536 1250.4L495 1232.8L454 1215.3L412 1197.8L371 1180.2L330 1162.6Z" fill="#e4a04b"/>
<path d="M330 744.4L371 762.8L412 781.4L454 800.3L495 819.4L536 838.7L577 858.2L618 877.9L660 897.8L701 917.9L742 938.1L783 958.6L824 979.2L866 1000.0L907 1021.0L948 1042.1L989 1063.4L1030 1084.9L1072 1106.4L1113 1128.1L1154 1150.0L1195 1171.9L1236 1194.0L1278 1216.2L1319 1238.5L1360 1261.0L1401 1283.5L1442 1306.1L1484 1328.8L1525 1351.6L1566 1374.4L1569 1375.9L1569 1585.0L1566 1585.0L1525 1585.0L1484 1585.0L1442 1585.0L1401 1585.0L1360 1585.0L1319 1579.9L1278 1562.6L1236 1545.3L1195 1527.9L1154 1510.6L1113 1493.2L1072 1475.8L1030 1458.4L989 1441.0L948 1423.6L907 1406.2L866 1388.7L824 1371.3L783 1353.8L742 1336.3L701 1318.8L660 1301.3L618 1283.8L577 1266.3L536 1248.7L495 1231.2L454 1213.6L412 1196.0L371 1178.4L330 1160.8Z" fill="#e6a24b"/>
<path d="M330 747.4L371 765.9L412 784.5L454 803.4L495 822.6L536 841.9L577 861.5L618 881.2L660 901.1L701 921.3L742 941.6L783 962.1L824 982.7L866 1003.5L907 1024.5L948 1045.7L989 1067.0L1030 1088.4L1072 1110.0L1113 1131.7L1154 1153.5L1195 1175.5L1236 1197.6L1278 1219.8L1319 1242.1L1360 1264.5L1401 1287.0L1442 1309.6L1484 1332.2L1525 1355.0L1566 1377.8L1569 1379.3L1569 1585.0L1566 1585.0L1525 1585.0L1484 1585.0L1442 1585.0L1401 1585.0L1360 1585.0L1319 1578.2L1278 1560.8L1236 1543.5L1195 1526.1L1154 1508.7L1113 1491.3L1072 1473.8L1030 1456.4L989 1438.9L948 1421.5L907 1404.0L866 1386.5L824 1369.0L783 1351.5L742 1333.9L701 1316.4L660 1298.8L618 1281.3L577 1263.7L536 1246.1L495 1228.5L454 1210.8L412 1193.2L371 1175.5L330 1157.9Z" fill="#e7a34d"/>
<path d="M330 750.3L371 768.9L412 787.6L454 806.6L495 825.7L536 845.1L577 864.7L618 884.5L660 904.5L701 924.6L742 945.0L783 965.5L824 986.2L866 1007.0L907 1028.0L948 1049.2L989 1070.5L1030 1091.9L1072 1113.5L1113 1135.2L1154 1157.0L1195 1179.0L1236 1201.1L1278 1223.3L1319 1245.6L1360 1267.9L1401 1290.4L1442 1313.0L1484 1335.6L1525 1358.4L1566 1381.2L1569 1382.7L1569 1585.0L1566 1585.0L1525 1585.0L1484 1585.0L1442 1585.0L1401 1585.0L1360 1585.0L1319 1576.5L1278 1559.1L1236 1541.6L1195 1524.2L1154 1506.8L1113 1489.3L1072 1471.8L1030 1454.3L989 1436.8L948 1419.3L907 1401.8L866 1384.2L824 1366.7L783 1349.1L742 1331.5L701 1313.9L660 1296.3L618 1278.7L577 1261.1L536 1243.4L495 1225.7L454 1208.1L412 1190.4L371 1172.7L330 1154.9Z" fill="#e7a550"/>
<path d="M330 753.3L371 771.9L412 790.7L454 809.7L495 828.9L536 848.3L577 868.0L618 887.8L660 907.8L701 928.0L742 948.3L783 968.9L824 989.6L866 1010.4L907 1031.5L948 1052.6L989 1073.9L1030 1095.4L1072 1117.0L1113 1138.7L1154 1160.5L1195 1182.5L1236 1204.6L1278 1226.7L1319 1249.0L1360 1271.4L1401 1293.8L1442 1316.4L1484 1339.0L1525 1361.7L1566 1384.5L1569 1386.0L1569 1585.0L1566 1585.0L1525 1585.0L1484 1585.0L1442 1585.0L1401 1585.0L1360 1585.0L1319 1574.8L1278 1557.3L1236 1539.8L1195 1522.3L1154 1504.8L1113 1487.3L1072 1469.8L1030 1452.3L989 1434.7L948 1417.2L907 1399.6L866 1382.0L824 1364.4L783 1346.7L742 1329.1L701 1311.5L660 1293.8L618 1276.1L577 1258.4L536 1240.7L495 1223.0L454 1205.3L412 1187.6L371 1169.8L330 1152.0Z" fill="#e8a752"/>
<path d="M330 756.2L371 774.9L412 793.7L454 812.8L495 832.0L536 851.5L577 871.2L618 891.0L660 911.1L701 931.3L742 951.7L783 972.2L824 993.0L866 1013.8L907 1034.9L948 1056.1L989 1077.4L1030 1098.8L1072 1120.4L1113 1142.1L1154 1164.0L1195 1185.9L1236 1208.0L1278 1230.2L1319 1252.4L1360 1274.8L1401 1297.2L1442 1319.8L1484 1342.4L1525 1365.0L1566 1387.8L1569 1389.3L1569 1585.0L1566 1585.0L1525 1585.0L1484 1585.0L1442 1585.0L1401 1585.0L1360 1585.0L1319 1573.1L1278 1555.5L1236 1538.0L1195 1520.5L1154 1502.9L1113 1485.4L1072 1467.8L1030 1450.2L989 1432.6L948 1415.0L907 1397.3L866 1379.7L824 1362.0L783 1344.4L742 1326.7L701 1309.0L660 1291.3L618 1273.6L577 1255.8L536 1238.1L495 1220.3L454 1202.5L412 1184.7L371 1166.9L330 1149.1Z" fill="#e9a954"/>
<path d="M330 759.2L371 777.8L412 796.7L454 815.9L495 835.2L536 854.7L577 874.4L618 894.3L660 914.3L701 934.6L742 955.0L783 975.6L824 996.3L866 1017.2L907 1038.3L948 1059.5L989 1080.8L1030 1102.3L1072 1123.9L1113 1145.6L1154 1167.4L1195 1189.4L1236 1211.4L1278 1233.6L1319 1255.8L1360 1278.2L1401 1300.6L1442 1323.1L1484 1345.7L1525 1368.4L1566 1391.1L1569 1392.6L1569 1585.0L1566 1585.0L1525 1585.0L1484 1585.0L1442 1585.0L1401 1585.0L1360 1585.0L1319 1571.4L1278 1553.8L1236 1536.2L1195 1518.6L1154 1501.0L1113 1483.4L1072 1465.7L1030 1448.1L989 1430.4L948 1412.8L907 1395.1L866 1377.4L824 1359.7L783 1342.0L742 1324.2L701 1306.5L660 1288.7L618 1271.0L577 1253.2L536 1235.4L495 1217.6L454 1199.8L412 1181.9L371 1164.1L330 1146.2Z" fill="#eaaa56"/>
<path d="M330 762.1L371 780.8L412 799.8L454 818.9L495 838.3L536 857.9L577 877.6L618 897.5L660 917.6L701 937.9L742 958.3L783 978.9L824 999.7L866 1020.6L907 1041.7L948 1062.9L989 1084.2L1030 1105.7L1072 1127.3L1113 1149.0L1154 1170.8L1195 1192.8L1236 1214.8L1278 1237.0L1319 1259.2L1360 1281.5L1401 1304.0L1442 1326.4L1484 1349.0L1525 1371.7L1566 1394.3L1569 1395.8L1569 1585.0L1566 1585.0L1525 1585.0L1484 1585.0L1442 1585.0L1401 1585.0L1360 1585.0L1319 1569.7L1278 1552.0L1236 1534.4L1195 1516.7L1154 1499.1L1113 1481.4L1072 1463.7L1030 1446.0L989 1428.3L948 1410.6L907 1392.8L866 1375.1L824 1357.3L783 1339.6L742 1321.8L701 1304.0L660 1286.2L618 1268.4L577 1250.6L536 1232.7L495 1214.9L454 1197.0L412 1179.1L371 1161.2L330 1143.4Z" fill="#eaac59"/>
<path d="M330 765.0L371 783.8L412 802.8L454 822.0L495 841.4L536 861.0L577 880.8L618 900.8L660 920.9L701 941.2L742 961.7L783 982.3L824 1003.1L866 1024.0L907 1045.1L948 1066.3L989 1087.6L1030 1109.1L1072 1130.7L1113 1152.4L1154 1174.2L1195 1196.2L1236 1218.2L1278 1240.4L1319 1262.6L1360 1284.9L1401 1307.3L1442 1329.8L1484 1352.3L1525 1374.9L1566 1397.6L1569 1399.1L1569 1585.0L1566 1585.0L1525 1585.0L1484 1585.0L1442 1585.0L1401 1585.0L1360 1585.0L1319 1567.9L1278 1550.3L1236 1532.6L1195 1514.9L1154 1497.1L1113 1479.4L1072 1461.7L1030 1443.9L989 1426.2L948 1408.4L907 1390.6L866 1372.8L824 1355.0L783 1337.2L742 1319.3L701 1301.5L660 1283.7L618 1265.8L577 1247.9L536 1230.0L495 1212.1L454 1194.2L412 1176.3L371 1158.4L330 1140.5Z" fill="#ebae5b"/>
<path d="M330 768.0L371 786.8L412 805.9L454 825.1L495 844.6L536 864.2L577 884.0L618 904.0L660 924.2L701 944.5L742 965.0L783 985.6L824 1006.4L866 1027.4L907 1048.5L948 1069.7L989 1091.0L1030 1112.5L1072 1134.1L1113 1155.8L1154 1177.6L1195 1199.6L1236 1221.6L1278 1243.7L1319 1265.9L1360 1288.2L1401 1310.6L1442 1333.1L1484 1355.6L1525 1378.2L1566 1400.9L1569 1402.3L1569 1585.0L1566 1585.0L1525 1585.0L1484 1585.0L1442 1585.0L1401 1585.0L1360 1584.0L1319 1566.2L1278 1548.5L1236 1530.7L1195 1513.0L1154 1495.2L1113 1477.4L1072 1459.6L1030 1441.8L989 1424.0L948 1406.2L907 1388.3L866 1370.5L824 1352.6L783 1334.8L742 1316.9L701 1299.0L660 1281.1L618 1263.2L577 1245.3L536 1227.4L495 1209.4L454 1191.5L412 1173.5L371 1155.5L330 1137.6Z" fill="#ecb05d"/>
<path d="M330 771.0L371 789.9L412 809.0L454 828.3L495 847.8L536 867.4L577 887.3L618 907.3L660 927.5L701 947.8L742 968.3L783 989.0L824 1009.8L866 1030.8L907 1051.9L948 1073.1L989 1094.4L1030 1115.9L1072 1137.5L1113 1159.2L1154 1181.1L1195 1203.0L1236 1225.0L1278 1247.1L1319 1269.3L1360 1291.6L1401 1314.0L1442 1336.4L1484 1358.9L1525 1381.5L1566 1404.1L1569 1405.6L1569 1585.0L1566 1585.0L1525 1585.0L1484 1585.0L1442 1585.0L1401 1585.0L1360 1582.3L1319 1564.5L1278 1546.7L1236 1528.9L1195 1511.1L1154 1493.3L1113 1475.4L1072 1457.6L1030 1439.7L989 1421.9L948 1404.0L907 1386.1L866 1368.2L824 1350.3L783 1332.4L742 1314.5L701 1296.5L660 1278.6L618 1260.6L577 1242.7L536 1224.7L495 1206.7L454 1188.7L412 1170.7L371 1152.7L330 1134.7Z" fill="#ecb160"/>
<path d="M330 774.0L371 792.9L412 812.1L454 831.4L495 850.9L536 870.6L577 890.5L618 910.6L660 930.8L701 951.2L742 971.7L783 992.4L824 1013.2L866 1034.2L907 1055.3L948 1076.5L989 1097.9L1030 1119.4L1072 1141.0L1113 1162.7L1154 1184.5L1195 1206.4L1236 1228.4L1278 1250.5L1319 1272.7L1360 1295.0L1401 1317.3L1442 1339.7L1484 1362.2L1525 1384.7L1566 1407.3L1569 1408.8L1569 1585.0L1566 1585.0L1525 1585.0L1484 1585.0L1442 1585.0L1401 1585.0L1360 1580.6L1319 1562.7L1278 1544.9L1236 1527.0L1195 1509.2L1154 1491.3L1113 1473.4L1072 1455.5L1030 1437.6L989 1419.7L948 1401.8L907 1383.9L866 1365.9L824 1348.0L783 1330.0L742 1312.0L701 1294.0L660 1276.1L618 1258.1L577 1240.0L536 1222.0L495 1204.0L454 1185.9L412 1167.9L371 1149.8L330 1131.8Z" fill="#edb362"/>
<path d="M330 777.0L371 796.0L412 815.2L454 834.6L495 854.1L536 873.9L577 893.8L618 913.9L660 934.1L701 954.5L742 975.1L783 995.8L824 1016.6L866 1037.6L907 1058.7L948 1079.9L989 1101.3L1030 1122.8L1072 1144.4L1113 1166.1L1154 1187.9L1195 1209.8L1236 1231.8L1278 1253.9L1319 1276.0L1360 1298.3L1401 1320.6L1442 1343.0L1484 1365.5L1525 1388.0L1566 1410.6L1569 1412.0L1569 1585.0L1566 1585.0L1525 1585.0L1484 1585.0L1442 1585.0L1401 1585.0L1360 1578.9L1319 1561.0L1278 1543.1L1236 1525.2L1195 1507.3L1154 1489.4L1113 1471.4L1072 1453.5L1030 1435.6L989 1417.6L948 1399.6L907 1381.7L866 1363.7L824 1345.7L783 1327.6L742 1309.6L701 1291.6L660 1273.6L618 1255.5L577 1237.4L536 1219.4L495 1201.3L454 1183.2L412 1165.1L371 1147.0L330 1128.9Z" fill="#eeb564"/>
<path d="M330 780.0L371 799.0L412 818.3L454 837.7L495 857.3L536 877.1L577 897.1L618 917.2L660 937.4L701 957.9L742 978.4L783 999.2L824 1020.0L866 1041.0L907 1062.1L948 1083.4L989 1104.7L1030 1126.2L1072 1147.8L1113 1169.5L1154 1191.3L1195 1213.2L1236 1235.2L1278 1257.2L1319 1279.4L1360 1301.6L1401 1323.9L1442 1346.3L1484 1368.7L1525 1391.2L1566 1413.8L1569 1415.2L1569 1585.0L1566 1585.0L1525 1585.0L1484 1585.0L1442 1585.0L1401 1585.0L1360 1577.2L1319 1559.2L1278 1541.3L1236 1523.4L1195 1505.4L1154 1487.5L1113 1469.5L1072 1451.5L1030 1433.5L989 1415.5L948 1397.5L907 1379.5L866 1361.4L824 1343.4L783 1325.3L742 1307.3L701 1289.2L660 1271.1L618 1253.0L577 1234.9L536 1216.8L495 1198.6L454 1180.5L412 1162.3L371 1144.2L330 1126.0Z" fill="#efb766"/>
<path d="M330 783.0L371 802.1L412 821.4L454 840.9L495 860.5L536 880.4L577 900.3L618 920.5L660 940.8L701 961.2L742 981.8L783 1002.5L824 1023.4L866 1044.4L907 1065.5L948 1086.8L989 1108.1L1030 1129.6L1072 1151.2L1113 1172.9L1154 1194.6L1195 1216.5L1236 1238.5L1278 1260.6L1319 1282.7L1360 1304.9L1401 1327.2L1442 1349.5L1484 1372.0L1525 1394.4L1566 1416.9L1569 1418.4L1569 1585.0L1566 1585.0L1525 1585.0L1484 1585.0L1442 1585.0L1401 1585.0L1360 1575.5L1319 1557.5L1278 1539.5L1236 1521.5L1195 1503.6L1154 1485.5L1113 1467.5L1072 1449.5L1030 1431.5L989 1413.4L948 1395.4L907 1377.3L866 1359.2L824 1341.1L783 1323.0L742 1304.9L701 1286.8L660 1268.6L618 1250.5L577 1232.3L536 1214.1L495 1196.0L454 1177.8L412 1159.6L371 1141.3L330 1123.1Z" fill="#efb869"/>
<path d="M330 786.0L371 805.2L412 824.5L454 844.1L495 863.7L536 883.6L577 903.6L618 923.8L660 944.1L701 964.6L742 985.2L783 1005.9L824 1026.8L866 1047.8L907 1068.9L948 1090.2L989 1111.5L1030 1133.0L1072 1154.6L1113 1176.2L1154 1198.0L1195 1219.9L1236 1241.8L1278 1263.9L1319 1286.0L1360 1308.2L1401 1330.5L1442 1352.8L1484 1375.2L1525 1397.6L1566 1420.1L1569 1421.6L1569 1585.0L1566 1585.0L1525 1585.0L1484 1585.0L1442 1585.0L1401 1585.0L1360 1573.7L1319 1555.7L1278 1537.7L1236 1519.7L1195 1501.7L1154 1483.6L1113 1465.6L1072 1447.5L1030 1429.4L989 1411.3L948 1393.2L907 1375.1L866 1357.0L824 1338.9L783 1320.7L742 1302.5L701 1284.4L660 1266.2L618 1248.0L577 1229.8L536 1211.5L495 1193.3L454 1175.1L412 1156.8L371 1138.5L330 1120.3Z" fill="#f0ba6b"/>
<path d="M330 789.1L371 808.3L412 827.7L454 847.2L495 867.0L536 886.9L577 906.9L618 927.1L660 947.4L701 967.9L742 988.5L783 1009.3L824 1030.2L866 1051.2L907 1072.3L948 1093.6L989 1114.9L1030 1136.4L1072 1158.0L1113 1179.6L1154 1201.4L1195 1223.2L1236 1245.2L1278 1267.2L1319 1289.3L1360 1311.5L1401 1333.7L1442 1356.0L1484 1378.4L1525 1400.8L1566 1423.3L1569 1424.8L1569 1585.0L1566 1585.0L1525 1585.0L1484 1585.0L1442 1585.0L1401 1585.0L1360 1572.0L1319 1554.0L1278 1535.9L1236 1517.9L1195 1499.8L1154 1481.7L1113 1463.6L1072 1445.5L1030 1427.4L989 1409.3L948 1391.1L907 1372.9L866 1354.8L824 1336.6L783 1318.4L742 1300.2L701 1282.0L660 1263.7L618 1245.5L577 1227.2L536 1208.9L495 1190.7L454 1172.4L412 1154.0L371 1135.7L330 1117.4Z" fill="#f1bc6d"/>
<path d="M330 792.1L371 811.4L412 830.8L454 850.4L495 870.2L536 890.1L577 910.2L618 930.4L660 950.8L701 971.3L742 991.9L783 1012.7L824 1033.6L866 1054.6L907 1075.7L948 1097.0L989 1118.3L1030 1139.8L1072 1161.4L1113 1183.0L1154 1204.8L1195 1226.6L1236 1248.5L1278 1270.5L1319 1292.6L1360 1314.8L1401 1337.0L1442 1359.3L1484 1381.6L1525 1404.0L1566 1426.5L1569 1427.9L1569 1585.0L1566 1585.0L1525 1585.0L1484 1585.0L1442 1585.0L1401 1585.0L1360 1570.3L1319 1552.2L1278 1534.1L1236 1516.0L1195 1497.9L1154 1479.8L1113 1461.6L1072 1443.5L1030 1425.3L989 1407.1L948 1388.9L907 1370.7L866 1352.5L824 1334.3L783 1316.1L742 1297.8L701 1279.5L660 1261.2L618 1242.9L577 1224.6L536 1206.3L495 1188.0L454 1169.6L412 1151.3L371 1132.9L330 1114.5Z" fill="#f2be6f"/>
<path d="M330 795.2L371 814.5L412 834.0L454 853.7L495 873.5L536 893.4L577 913.5L618 933.8L660 954.2L701 974.7L742 995.3L783 1016.1L824 1037.0L866 1058.0L907 1079.2L948 1100.4L989 1121.8L1030 1143.2L1072 1164.8L1113 1186.4L1154 1208.2L1195 1230.0L1236 1251.9L1278 1273.9L1319 1295.9L1360 1318.1L1401 1340.3L1442 1362.5L1484 1384.8L1525 1407.2L1566 1429.6L1569 1431.1L1569 1585.0L1566 1585.0L1525 1585.0L1484 1585.0L1442 1585.0L1401 1585.0L1360 1568.5L1319 1550.4L1278 1532.2L1236 1514.1L1195 1496.0L1154 1477.8L1113 1459.6L1072 1441.4L1030 1423.2L989 1405.0L948 1386.8L907 1368.5L866 1350.3L824 1332.0L783 1313.7L742 1295.4L701 1277.1L660 1258.7L618 1240.4L577 1222.0L536 1203.6L495 1185.3L454 1166.9L412 1148.4L371 1130.0L330 1111.6Z" fill="#f2bf72"/>
<path d="M330 798.3L371 817.7L412 837.2L454 856.9L495 876.8L536 896.8L577 916.9L618 937.2L660 957.6L701 978.1L742 998.8L783 1019.6L824 1040.5L866 1061.5L907 1082.6L948 1103.9L989 1125.2L1030 1146.7L1072 1168.2L1113 1189.9L1154 1211.6L1195 1233.4L1236 1255.3L1278 1277.2L1319 1299.3L1360 1321.4L1401 1343.6L1442 1365.8L1484 1388.1L1525 1410.4L1566 1432.8L1569 1434.3L1569 1585.0L1566 1585.0L1525 1585.0L1484 1585.0L1442 1585.0L1401 1584.8L1360 1566.6L1319 1548.5L1278 1530.3L1236 1512.2L1195 1494.0L1154 1475.8L1113 1457.6L1072 1439.3L1030 1421.1L989 1402.8L948 1384.5L907 1366.2L866 1347.9L824 1329.6L783 1311.3L742 1292.9L701 1274.6L660 1256.2L618 1237.8L577 1219.4L536 1200.9L495 1182.5L454 1164.0L412 1145.6L371 1127.1L330 1108.6Z" fill="#f3c174"/>
<path d="M330 801.5L371 820.9L412 840.5L454 860.2L495 880.1L536 900.1L577 920.3L618 940.6L660 961.0L701 981.6L742 1002.2L783 1023.0L824 1044.0L866 1065.0L907 1086.1L948 1107.4L989 1128.7L1030 1150.2L1072 1171.7L1113 1193.3L1154 1215.0L1195 1236.8L1236 1258.7L1278 1280.6L1319 1302.7L1360 1324.7L1401 1346.9L1442 1369.1L1484 1391.3L1525 1413.6L1566 1436.0L1569 1437.5L1569 1585.0L1566 1585.0L1525 1585.0L1484 1585.0L1442 1585.0L1401 1583.0L1360 1564.8L1319 1546.6L1278 1528.4L1236 1510.2L1195 1492.0L1154 1473.7L1113 1455.5L1072 1437.2L1030 1418.9L989 1400.6L948 1382.3L907 1363.9L866 1345.6L824 1327.2L783 1308.8L742 1290.4L701 1272.0L660 1253.6L618 1235.1L577 1216.6L536 1198.2L495 1179.7L454 1161.2L412 1142.6L371 1124.1L330 1105.5Z" fill="#f4c376"/>
<path d="M330 804.7L371 824.1L412 843.8L454 863.5L495 883.5L536 903.5L577 923.7L618 944.0L660 964.5L701 985.1L742 1005.8L783 1026.6L824 1047.5L866 1068.5L907 1089.7L948 1110.9L989 1132.3L1030 1153.7L1072 1175.2L1113 1196.8L1154 1218.5L1195 1240.3L1236 1262.2L1278 1284.1L1319 1306.1L1360 1328.1L1401 1350.2L1442 1372.4L1484 1394.6L1525 1416.9L1566 1439.2L1569 1440.7L1569 1585.0L1566 1585.0L1525 1585.0L1484 1585.0L1442 1585.0L1401 1581.1L1360 1562.9L1319 1544.6L1278 1526.4L1236 1508.2L1195 1489.9L1154 1471.6L1113 1453.3L1072 1435.0L1030 1416.6L989 1398.3L948 1379.9L907 1361.5L866 1343.1L824 1324.7L783 1306.3L742 1287.8L701 1269.4L660 1250.9L618 1232.4L577 1213.9L536 1195.3L495 1176.8L454 1158.2L412 1139.6L371 1121.0L330 1102.4Z" fill="#f5c579"/>
<path d="M330 807.8L371 827.4L412 847.1L454 866.9L495 886.8L536 906.9L577 927.2L618 947.5L660 968.0L701 988.6L742 1009.3L783 1030.1L824 1051.1L866 1072.1L907 1093.2L948 1114.5L989 1135.8L1030 1157.3L1072 1178.8L1113 1200.4L1154 1222.0L1195 1243.8L1236 1265.6L1278 1287.5L1319 1309.5L1360 1331.5L1401 1353.6L1442 1375.7L1484 1397.9L1525 1420.1L1566 1442.4L1569 1443.9L1569 1585.0L1566 1585.0L1525 1585.0L1484 1585.0L1442 1585.0L1401 1579.2L1360 1560.9L1319 1542.7L1278 1524.4L1236 1506.1L1195 1487.8L1154 1469.4L1113 1451.1L1072 1432.7L1030 1414.3L989 1395.9L948 1377.5L907 1359.1L866 1340.6L824 1322.2L783 1303.7L742 1285.2L701 1266.7L660 1248.1L618 1229.6L577 1211.0L536 1192.5L495 1173.9L454 1155.2L412 1136.6L371 1118.0L330 1099.3Z" fill="#f5c77b"/>
<path d="M330 811.0L371 830.6L412 850.3L454 870.2L495 890.2L536 910.3L577 930.6L618 951.0L660 971.5L701 992.1L742 1012.8L783 1033.7L824 1054.6L866 1075.7L907 1096.8L948 1118.1L989 1139.4L1030 1160.8L1072 1182.3L1113 1203.9L1154 1225.6L1195 1247.3L1236 1269.1L1278 1291.0L1319 1312.9L1360 1334.9L1401 1356.9L1442 1379.0L1484 1401.2L1525 1423.4L1566 1445.6L1569 1447.0L1569 1585.0L1566 1585.0L1525 1585.0L1484 1585.0L1442 1585.0L1401 1577.2L1360 1559.0L1319 1540.7L1278 1522.3L1236 1504.0L1195 1485.6L1154 1467.3L1113 1448.9L1072 1430.4L1030 1412.0L989 1393.6L948 1375.1L907 1356.6L866 1338.1L824 1319.6L783 1301.1L742 1282.6L701 1264.0L660 1245.4L618 1226.8L577 1208.2L536 1189.6L495 1170.9L454 1152.2L412 1133.6L371 1114.9L330 1096.1Z" fill="#f6c87d"/>
<path d="M330 814.2L371 833.8L412 853.6L454 873.5L495 893.6L536 913.7L577 934.0L618 954.4L660 975.0L701 995.6L742 1016.4L783 1037.2L824 1058.2L866 1079.2L907 1100.4L948 1121.6L989 1143.0L1030 1164.4L1072 1185.9L1113 1207.4L1154 1229.1L1195 1250.8L1236 1272.6L1278 1294.4L1319 1316.3L1360 1338.3L1401 1360.3L1442 1382.3L1484 1404.4L1525 1426.6L1566 1448.7L1569 1450.2L1569 1585.0L1566 1585.0L1525 1585.0L1484 1585.0L1442 1585.0L1401 1575.3L1360 1557.0L1319 1538.6L1278 1520.2L1236 1501.9L1195 1483.5L1154 1465.0L1113 1446.6L1072 1428.1L1030 1409.7L989 1391.2L948 1372.7L907 1354.2L866 1335.6L824 1317.1L783 1298.5L742 1279.9L701 1261.3L660 1242.6L618 1224.0L577 1205.3L536 1186.6L495 1167.9L454 1149.2L412 1130.5L371 1111.7L330 1093.0Z" fill="#f7ca7f"/>
<path d="M330 817.4L371 837.1L412 856.9L454 876.9L495 896.9L536 917.2L577 937.5L618 957.9L660 978.5L701 999.1L742 1019.9L783 1040.8L824 1061.8L866 1082.8L907 1104.0L948 1125.2L989 1146.6L1030 1168.0L1072 1189.5L1113 1211.0L1154 1232.6L1195 1254.3L1236 1276.1L1278 1297.9L1319 1319.8L1360 1341.7L1401 1363.6L1442 1385.7L1484 1407.7L1525 1429.8L1566 1451.9L1569 1453.4L1569 1585.0L1566 1585.0L1525 1585.0L1484 1585.0L1442 1585.0L1401 1573.3L1360 1554.9L1319 1536.5L1278 1518.1L1236 1499.7L1195 1481.2L1154 1462.8L1113 1444.3L1072 1425.8L1030 1407.3L989 1388.8L948 1370.2L907 1351.6L866 1333.0L824 1314.4L783 1295.8L742 1277.2L701 1258.5L660 1239.8L618 1221.1L577 1202.4L536 1183.7L495 1164.9L454 1146.1L412 1127.4L371 1108.5L330 1089.7Z" fill="#f7cc82"/>
<path d="M330 820.6L371 840.4L412 860.2L454 880.2L495 900.4L536 920.6L577 941.0L618 961.5L660 982.0L701 1002.7L742 1023.5L783 1044.4L824 1065.4L866 1086.5L907 1107.6L948 1128.9L989 1150.2L1030 1171.6L1072 1193.1L1113 1214.6L1154 1236.2L1195 1257.9L1236 1279.6L1278 1301.4L1319 1323.2L1360 1345.1L1401 1367.0L1442 1389.0L1484 1411.0L1525 1433.0L1566 1455.1L1569 1456.5L1569 1585.0L1566 1585.0L1525 1585.0L1484 1585.0L1442 1585.0L1401 1571.2L1360 1552.8L1319 1534.4L1278 1515.9L1236 1497.5L1195 1479.0L1154 1460.5L1113 1442.0L1072 1423.4L1030 1404.8L989 1386.3L948 1367.7L907 1349.0L866 1330.4L824 1311.8L783 1293.1L742 1274.4L701 1255.7L660 1236.9L618 1218.2L577 1199.4L536 1180.6L495 1161.8L454 1143.0L412 1124.2L371 1105.3L330 1086.4Z" fill="#f8ce84"/>
<path d="M330 823.9L371 843.7L412 863.7L454 883.7L495 903.9L536 924.2L577 944.6L618 965.1L660 985.7L701 1006.4L742 1027.2L783 1048.1L824 1069.1L866 1090.2L907 1111.3L948 1132.6L989 1153.9L1030 1175.3L1072 1196.7L1113 1218.3L1154 1239.8L1195 1261.5L1236 1283.2L1278 1304.9L1319 1326.7L1360 1348.6L1401 1370.5L1442 1392.4L1484 1414.3L1525 1436.3L1566 1458.3L1569 1459.8L1569 1585.0L1566 1585.0L1525 1585.0L1484 1585.0L1442 1585.0L1401 1569.2L1360 1550.7L1319 1532.2L1278 1513.7L1236 1495.2L1195 1476.7L1154 1458.1L1113 1439.5L1072 1421.0L1030 1402.3L989 1383.7L948 1365.1L907 1346.4L866 1327.7L824 1309.0L783 1290.3L742 1271.5L701 1252.8L660 1234.0L618 1215.2L577 1196.4L536 1177.5L495 1158.7L454 1139.8L412 1120.9L371 1102.0L330 1083.1Z" fill="#f9cf86"/>
<path d="M330 827.3L371 847.2L412 867.2L454 887.3L495 907.5L536 927.8L577 948.2L618 968.7L660 989.4L701 1010.1L742 1030.9L783 1051.8L824 1072.8L866 1093.9L907 1115.1L948 1136.3L989 1157.6L1030 1179.0L1072 1200.4L1113 1221.9L1154 1243.5L1195 1265.1L1236 1286.8L1278 1308.5L1319 1330.3L1360 1352.1L1401 1373.9L1442 1395.8L1484 1417.7L1525 1439.6L1566 1461.6L1569 1463.0L1569 1585.0L1566 1585.0L1525 1585.0L1484 1585.0L1442 1585.0L1401 1567.0L1360 1548.5L1319 1530.0L1278 1511.4L1236 1492.9L1195 1474.3L1154 1455.7L1113 1437.1L1072 1418.4L1030 1399.8L989 1381.1L948 1362.4L907 1343.7L866 1324.9L824 1306.2L783 1287.4L742 1268.6L701 1249.8L660 1231.0L618 1212.1L577 1193.2L536 1174.4L495 1155.4L454 1136.5L412 1117.6L371 1098.6L330 1079.6Z" fill="#fad188"/>
<path d="M330 830.8L371 850.7L412 870.8L454 890.9L495 911.1L536 931.5L577 951.9L618 972.5L660 993.2L701 1013.9L742 1034.7L783 1055.7L824 1076.7L866 1097.7L907 1118.9L948 1140.1L989 1161.4L1030 1182.8L1072 1204.2L1113 1225.7L1154 1247.2L1195 1268.8L1236 1290.5L1278 1312.2L1319 1333.9L1360 1355.6L1401 1377.4L1442 1399.3L1484 1421.1L1525 1443.0L1566 1464.9L1569 1466.3L1569 1585.0L1566 1585.0L1525 1585.0L1484 1585.0L1442 1583.3L1401 1564.8L1360 1546.2L1319 1527.7L1278 1509.1L1236 1490.5L1195 1471.8L1154 1453.2L1113 1434.5L1072 1415.8L1030 1397.1L989 1378.4L948 1359.6L907 1340.9L866 1322.1L824 1303.3L783 1284.4L742 1265.6L701 1246.7L660 1227.8L618 1208.9L577 1190.0L536 1171.1L495 1152.1L454 1133.1L412 1114.1L371 1095.1L330 1076.1Z" fill="#fad38b"/>
<path d="M330 834.5L371 854.4L412 874.5L454 894.7L495 914.9L536 935.3L577 955.8L618 976.4L660 997.0L701 1017.8L742 1038.6L783 1059.6L824 1080.6L866 1101.7L907 1122.8L948 1144.0L989 1165.3L1030 1186.7L1072 1208.1L1113 1229.5L1154 1251.1L1195 1272.6L1236 1294.2L1278 1315.9L1319 1337.6L1360 1359.3L1401 1381.0L1442 1402.8L1484 1424.6L1525 1446.4L1566 1468.3L1569 1469.7L1569 1585.0L1566 1585.0L1525 1585.0L1484 1585.0L1442 1581.1L1401 1562.5L1360 1543.9L1319 1525.3L1278 1506.6L1236 1488.0L1195 1469.3L1154 1450.6L1113 1431.9L1072 1413.1L1030 1394.4L989 1375.6L948 1356.8L907 1338.0L866 1319.1L824 1300.3L783 1281.4L742 1262.5L701 1243.6L660 1224.6L618 1205.7L577 1186.7L536 1167.7L495 1148.7L454 1129.6L412 1110.6L371 1091.5L330 1072.4Z" fill="#fbd58d"/>
<path d="M330 838.3L371 858.3L412 878.4L454 898.6L495 918.9L536 939.3L577 959.8L618 980.4L660 1001.1L701 1021.8L742 1042.7L783 1063.6L824 1084.6L866 1105.7L907 1126.8L948 1148.0L989 1169.3L1030 1190.6L1072 1212.0L1113 1233.4L1154 1254.9L1195 1276.5L1236 1298.0L1278 1319.7L1319 1341.3L1360 1363.0L1401 1384.7L1442 1406.4L1484 1428.2L1525 1450.0L1566 1471.8L1569 1473.2L1569 1585.0L1566 1585.0L1525 1585.0L1484 1585.0L1442 1578.8L1401 1560.1L1360 1541.5L1319 1522.8L1278 1504.1L1236 1485.4L1195 1466.7L1154 1447.9L1113 1429.1L1072 1410.3L1030 1391.5L989 1372.7L948 1353.8L907 1334.9L866 1316.1L824 1297.1L783 1278.2L742 1259.2L701 1240.3L660 1221.3L618 1202.3L577 1183.2L536 1164.2L495 1145.1L454 1126.0L412 1106.9L371 1087.8L330 1068.6Z" fill="#fcd68f"/>
<path d="M330 842.3L371 862.3L412 882.4L454 902.7L495 923.0L536 943.4L577 963.9L618 984.5L660 1005.2L701 1026.0L742 1046.8L783 1067.7L824 1088.7L866 1109.8L907 1130.9L948 1152.1L989 1173.4L1030 1194.7L1072 1216.0L1113 1237.4L1154 1258.9L1195 1280.4L1236 1301.9L1278 1323.5L1319 1345.1L1360 1366.8L1401 1388.5L1442 1410.2L1484 1431.9L1525 1453.6L1566 1475.4L1569 1476.8L1569 1585.0L1566 1585.0L1525 1585.0L1484 1585.0L1442 1576.4L1401 1557.7L1360 1539.0L1319 1520.3L1278 1501.5L1236 1482.7L1195 1464.0L1154 1445.1L1113 1426.3L1072 1407.5L1030 1388.6L989 1369.7L948 1350.8L907 1331.8L866 1312.9L824 1293.9L783 1274.9L742 1255.9L701 1236.9L660 1217.8L618 1198.7L577 1179.6L536 1160.5L495 1141.4L454 1122.2L412 1103.1L371 1083.9L330 1064.7Z" fill="#fdd892"/>
<path d="M330 846.4L371 866.4L412 886.6L454 906.9L495 927.2L536 947.7L577 968.2L618 988.8L660 1009.5L701 1030.2L742 1051.1L783 1072.0L824 1093.0L866 1114.0L907 1135.1L948 1156.3L989 1177.5L1030 1198.8L1072 1220.1L1113 1241.5L1154 1262.9L1195 1284.4L1236 1305.9L1278 1327.5L1319 1349.0L1360 1370.7L1401 1392.3L1442 1414.0L1484 1435.6L1525 1457.3L1566 1479.1L1569 1480.5L1569 1585.0L1566 1585.0L1525 1585.0L1484 1585.0L1442 1574.0L1401 1555.3L1360 1536.5L1319 1517.7L1278 1498.9L1236 1480.0L1195 1461.2L1154 1442.3L1113 1423.4L1072 1404.5L1030 1385.6L989 1366.6L948 1347.6L907 1328.6L866 1309.6L824 1290.6L783 1271.5L742 1252.4L701 1233.4L660 1214.2L618 1195.1L577 1175.9L536 1156.8L495 1137.6L454 1118.4L412 1099.1L371 1079.9L330 1060.6Z" fill="#fdda94"/>
<path d="M330 850.6L371 870.7L412 890.9L454 911.2L495 931.6L536 952.0L577 972.6L618 993.2L660 1013.9L701 1034.6L742 1055.4L783 1076.3L824 1097.3L866 1118.3L907 1139.4L948 1160.6L989 1181.8L1030 1203.0L1072 1224.3L1113 1245.7L1154 1267.1L1195 1288.5L1236 1310.0L1278 1331.5L1319 1353.0L1360 1374.6L1401 1396.2L1442 1417.8L1484 1439.5L1525 1461.1L1566 1482.8L1569 1484.3L1569 1585.0L1566 1585.0L1525 1585.0L1484 1585.0L1442 1571.5L1401 1552.7L1360 1533.9L1319 1515.0L1278 1496.1L1236 1477.2L1195 1458.3L1154 1439.4L1113 1420.4L1072 1401.4L1030 1382.4L989 1363.4L948 1344.4L907 1325.3L866 1306.2L824 1287.1L783 1268.0L742 1248.9L701 1229.7L660 1210.5L618 1191.3L577 1172.1L536 1152.9L495 1133.6L454 1114.3L412 1095.0L371 1075.7L330 1056.4Z" fill="#fedc96"/>
<path d="M330 855.0L371 875.2L412 895.4L454 915.7L495 936.1L536 956.5L577 977.1L618 997.7L660 1018.3L701 1039.1L742 1059.9L783 1080.8L824 1101.7L866 1122.7L907 1143.8L948 1164.9L989 1186.1L1030 1207.3L1072 1228.6L1113 1249.9L1154 1271.2L1195 1292.6L1236 1314.1L1278 1335.5L1319 1357.0L1360 1378.6L1401 1400.2L1442 1421.8L1484 1443.4L1525 1465.0L1566 1486.7L1569 1488.1L1569 1585.0L1566 1585.0L1525 1585.0L1484 1585.0L1442 1569.0L1401 1550.1L1360 1531.2L1319 1512.3L1278 1493.3L1236 1474.4L1195 1455.4L1154 1436.4L1113 1417.3L1072 1398.3L1030 1379.2L989 1360.1L948 1341.0L907 1321.9L866 1302.8L824 1283.6L783 1264.4L742 1245.2L701 1226.0L660 1206.7L618 1187.5L577 1168.2L536 1148.9L495 1129.6L454 1110.2L412 1090.9L371 1071.5L330 1052.1Z" fill="#ffdd98"/>
<path d="M330 859.6L371 879.7L412 900.0L454 920.3L495 940.7L536 961.1L577 981.6L618 1002.2L660 1022.9L701 1043.7L742 1064.5L783 1085.3L824 1106.2L866 1127.2L907 1148.2L948 1169.3L989 1190.5L1030 1211.6L1072 1232.9L1113 1254.2L1154 1275.5L1195 1296.8L1236 1318.2L1278 1339.7L1319 1361.1L1360 1382.6L1401 1404.2L1442 1425.7L1484 1447.3L1525 1468.9L1566 1490.6L1569 1492.0L1569 1585.0L1566 1585.0L1525 1585.0L1484 1585.0L1442 1566.4L1401 1547.4L1360 1528.4L1319 1509.4L1278 1490.4L1236 1471.4L1195 1452.3L1154 1433.2L1113 1414.1L1072 1395.0L1030 1375.9L989 1356.7L948 1337.6L907 1318.4L866 1299.2L824 1279.9L783 1260.7L742 1241.4L701 1222.1L660 1202.8L618 1183.5L577 1164.1L536 1144.8L495 1125.4L454 1106.0L412 1086.5L371 1067.1L330 1047.6Z" fill="#ffdf9b"/>
<path d="M330 864.2L371 884.4L412 904.6L454 925.0L495 945.3L536 965.8L577 986.3L618 1006.9L660 1027.6L701 1048.3L742 1069.1L783 1089.9L824 1110.8L866 1131.8L907 1152.8L948 1173.8L989 1194.9L1030 1216.1L1072 1237.2L1113 1258.5L1154 1279.8L1195 1301.1L1236 1322.4L1278 1343.8L1319 1365.3L1360 1386.7L1401 1408.2L1442 1429.7L1484 1451.3L1525 1472.9L1566 1494.5L1569 1495.9L1569 1585.0L1566 1585.0L1525 1585.0L1484 1582.6L1442 1563.6L1401 1544.6L1360 1525.5L1319 1506.5L1278 1487.4L1236 1468.3L1195 1449.1L1154 1430.0L1113 1410.8L1072 1391.6L1030 1372.4L989 1353.2L948 1334.0L907 1314.7L866 1295.4L824 1276.1L783 1256.8L742 1237.5L701 1218.1L660 1198.8L618 1179.4L577 1159.9L536 1140.5L495 1121.1L454 1101.6L412 1082.1L371 1062.6L330 1043.1Z" fill="#ffe09d"/>
<path d="M330 869.0L371 889.2L412 909.4L454 929.7L495 950.1L536 970.6L577 991.1L618 1011.7L660 1032.3L701 1053.0L742 1073.8L783 1094.6L824 1115.5L866 1136.4L907 1157.3L948 1178.4L989 1199.4L1030 1220.5L1072 1241.7L1113 1262.9L1154 1284.1L1195 1305.4L1236 1326.7L1278 1348.0L1319 1369.4L1360 1390.9L1401 1412.3L1442 1433.8L1484 1455.3L1525 1476.8L1566 1498.4L1569 1499.8L1569 1585.0L1566 1585.0L1525 1585.0L1484 1579.9L1442 1560.8L1401 1541.7L1360 1522.5L1319 1503.4L1278 1484.2L1236 1465.0L1195 1445.8L1154 1426.6L1113 1407.4L1072 1388.1L1030 1368.9L989 1349.6L948 1330.3L907 1310.9L866 1291.6L824 1272.2L783 1252.8L742 1233.4L701 1214.0L660 1194.6L618 1175.1L577 1155.6L536 1136.1L495 1116.6L454 1097.1L412 1077.5L371 1058.0L330 1038.4Z" fill="#ffe2a0"/>
<path d="M330 873.8L371 894.0L412 914.3L454 934.6L495 955.0L536 975.4L577 996.0L618 1016.5L660 1037.1L701 1057.8L742 1078.5L783 1099.3L824 1120.2L866 1141.0L907 1162.0L948 1182.9L989 1204.0L1030 1225.0L1072 1246.1L1113 1267.3L1154 1288.5L1195 1309.7L1236 1331.0L1278 1352.3L1319 1373.6L1360 1395.0L1401 1416.4L1442 1437.8L1484 1459.3L1525 1480.8L1566 1502.3L1569 1503.8L1569 1585.0L1566 1585.0L1525 1585.0L1484 1576.9L1442 1557.8L1401 1538.6L1360 1519.4L1319 1500.2L1278 1480.9L1236 1461.7L1195 1442.4L1154 1423.1L1113 1403.8L1072 1384.5L1030 1365.1L989 1345.8L948 1326.4L907 1307.0L866 1287.6L824 1268.2L783 1248.7L742 1229.2L701 1209.8L660 1190.3L618 1170.7L577 1151.2L536 1131.7L495 1112.1L454 1092.5L412 1072.9L371 1053.3L330 1033.6Z" fill="#ffe3a3"/>
<path d="M330 878.7L371 898.9L412 919.2L454 939.5L495 959.9L536 980.4L577 1000.9L618 1021.4L660 1042.0L701 1062.7L742 1083.4L783 1104.1L824 1124.9L866 1145.8L907 1166.7L948 1187.6L989 1208.6L1030 1229.6L1072 1250.7L1113 1271.8L1154 1292.9L1195 1314.1L1236 1335.3L1278 1356.6L1319 1377.8L1360 1399.2L1401 1420.5L1442 1441.9L1484 1463.3L1525 1484.8L1566 1506.3L1569 1507.7L1569 1585.0L1566 1585.0L1525 1585.0L1484 1573.9L1442 1554.6L1401 1535.4L1360 1516.1L1319 1496.8L1278 1477.5L1236 1458.1L1195 1438.8L1154 1419.4L1113 1400.1L1072 1380.7L1030 1361.3L989 1341.8L948 1322.4L907 1302.9L866 1283.5L824 1264.0L783 1244.5L742 1224.9L701 1205.4L660 1185.8L618 1166.2L577 1146.7L536 1127.0L495 1107.4L454 1087.8L412 1068.1L371 1048.4L330 1028.7Z" fill="#ffe4a5"/>
<path d="M330 883.7L371 904.0L412 924.2L454 944.5L495 964.9L536 985.4L577 1005.8L618 1026.4L660 1046.9L701 1067.6L742 1088.2L783 1109.0L824 1129.7L866 1150.5L907 1171.4L948 1192.3L989 1213.2L1030 1234.2L1072 1255.2L1113 1276.3L1154 1297.3L1195 1318.5L1236 1339.6L1278 1360.8L1319 1382.1L1360 1403.3L1401 1424.6L1442 1446.0L1484 1467.3L1525 1488.7L1566 1510.1L1569 1511.5L1569 1585.0L1566 1585.0L1525 1585.0L1484 1570.6L1442 1551.3L1401 1532.0L1360 1512.6L1319 1493.2L1278 1473.8L1236 1454.4L1195 1435.0L1154 1415.6L1113 1396.2L1072 1376.7L1030 1357.2L989 1337.7L948 1318.2L907 1298.7L866 1279.2L824 1259.6L783 1240.0L742 1220.5L701 1200.9L660 1181.2L618 1161.6L577 1142.0L536 1122.3L495 1102.6L454 1082.9L412 1063.2L371 1043.5L330 1023.8Z" fill="#ffe6a8"/>
<path d="M330 888.8L371 909.0L412 929.2L454 949.6L495 969.9L536 990.3L577 1010.8L618 1031.3L660 1051.8L701 1072.4L742 1093.1L783 1113.8L824 1134.5L866 1155.2L907 1176.1L948 1196.9L989 1217.8L1030 1238.7L1072 1259.7L1113 1280.7L1154 1301.7L1195 1322.8L1236 1343.9L1278 1365.0L1319 1386.2L1360 1407.4L1401 1428.6L1442 1449.9L1484 1471.2L1525 1492.5L1566 1513.8L1569 1515.2L1569 1585.0L1566 1585.0L1525 1585.0L1484 1567.1L1442 1547.7L1401 1528.3L1360 1508.9L1319 1489.4L1278 1470.0L1236 1450.5L1195 1431.0L1154 1411.5L1113 1392.0L1072 1372.5L1030 1353.0L989 1333.4L948 1313.8L907 1294.3L866 1274.7L824 1255.1L783 1235.5L742 1215.8L701 1196.2L660 1176.5L618 1156.8L577 1137.2L536 1117.5L495 1097.7L454 1078.0L412 1058.3L371 1038.5L330 1018.8Z" fill="#ffe7aa"/>
<path d="M330 894.0L371 914.1L412 934.4L454 954.7L495 975.0L536 995.4L577 1015.8L618 1036.3L660 1056.8L701 1077.4L742 1098.0L783 1118.6L824 1139.3L866 1160.0L907 1180.8L948 1201.5L989 1222.4L1030 1243.3L1072 1264.2L1113 1285.1L1154 1306.1L1195 1327.1L1236 1348.1L1278 1369.2L1319 1390.3L1360 1411.4L1401 1432.6L1442 1453.8L1484 1475.0L1525 1496.2L1566 1517.5L1569 1518.9L1569 1585.0L1566 1585.0L1525 1582.7L1484 1563.3L1442 1543.8L1401 1524.3L1360 1504.8L1319 1485.3L1278 1465.8L1236 1446.3L1195 1426.7L1154 1407.2L1113 1387.6L1072 1368.0L1030 1348.4L989 1328.8L948 1309.2L907 1289.6L866 1269.9L824 1250.3L783 1230.6L742 1210.9L701 1191.2L660 1171.5L618 1151.8L577 1132.1L536 1112.4L495 1092.7L454 1072.9L412 1053.1L371 1033.4L330 1013.6Z" fill="#ffe8ad"/>
<path d="M330 899.4L371 919.6L412 939.8L454 960.0L495 980.3L536 1000.7L577 1021.1L618 1041.5L660 1062.0L701 1082.5L742 1103.0L783 1123.6L824 1144.3L866 1164.9L907 1185.6L948 1206.4L989 1227.2L1030 1248.0L1072 1268.8L1113 1289.7L1154 1310.6L1195 1331.5L1236 1352.5L1278 1373.5L1319 1394.5L1360 1415.6L1401 1436.7L1442 1457.8L1484 1478.9L1525 1500.1L1566 1521.3L1569 1522.6L1569 1585.0L1566 1585.0L1525 1578.7L1484 1559.2L1442 1539.6L1401 1520.0L1360 1500.5L1319 1480.9L1278 1461.3L1236 1441.7L1195 1422.1L1154 1402.5L1113 1382.8L1072 1363.2L1030 1343.5L989 1323.9L948 1304.2L907 1284.5L866 1264.9L824 1245.2L783 1225.4L742 1205.7L701 1186.0L660 1166.3L618 1146.5L577 1126.8L536 1107.0L495 1087.3L454 1067.5L412 1047.7L371 1027.9L330 1008.1Z" fill="#ffeaaf"/>
<path d="M330 905.2L371 925.4L412 945.5L454 965.8L495 986.0L536 1006.3L577 1026.7L618 1047.1L660 1067.5L701 1088.0L742 1108.5L783 1129.0L824 1149.6L866 1170.2L907 1190.9L948 1211.6L989 1232.3L1030 1253.0L1072 1273.8L1113 1294.6L1154 1315.5L1195 1336.3L1236 1357.2L1278 1378.1L1319 1399.1L1360 1420.1L1401 1441.1L1442 1462.1L1484 1483.1L1525 1504.2L1566 1525.3L1569 1526.7L1569 1585.0L1566 1585.0L1525 1574.4L1484 1554.7L1442 1535.1L1401 1515.5L1360 1495.8L1319 1476.1L1278 1456.5L1236 1436.8L1195 1417.1L1154 1397.4L1113 1377.7L1072 1358.0L1030 1338.3L989 1318.6L948 1298.9L907 1279.1L866 1259.4L824 1239.7L783 1219.9L742 1200.2L701 1180.4L660 1160.6L618 1140.9L577 1121.1L536 1101.3L495 1081.5L454 1061.7L412 1041.9L371 1022.1L330 1002.3Z" fill="#ffebb2"/>
<path d="M330 911.5L371 931.7L412 951.8L454 972.0L495 992.3L536 1012.5L577 1032.8L618 1053.2L660 1073.6L701 1094.0L742 1114.5L783 1134.9L824 1155.5L866 1176.0L907 1196.6L948 1217.2L989 1237.9L1030 1258.6L1072 1279.3L1113 1300.0L1154 1320.8L1195 1341.6L1236 1362.4L1278 1383.2L1319 1404.1L1360 1425.0L1401 1445.9L1442 1466.8L1484 1487.8L1525 1508.7L1566 1529.7L1569 1531.1L1569 1585.0L1566 1585.0L1525 1569.7L1484 1550.0L1442 1530.3L1401 1510.5L1360 1490.8L1319 1471.1L1278 1451.3L1236 1431.6L1195 1411.8L1154 1392.0L1113 1372.3L1072 1352.5L1030 1332.7L989 1312.9L948 1293.1L907 1273.4L866 1253.6L824 1233.8L783 1214.0L742 1194.2L701 1174.3L660 1154.5L618 1134.7L577 1114.9L536 1095.1L495 1075.3L454 1055.4L412 1035.6L371 1015.8L330 996.0Z" fill="#ffedb5"/>
<path d="M330 918.2L371 938.3L412 958.4L454 978.6L495 998.8L536 1019.0L577 1039.3L618 1059.6L660 1079.9L701 1100.3L742 1120.7L783 1141.2L824 1161.6L866 1182.1L907 1202.6L948 1223.2L989 1243.8L1030 1264.4L1072 1285.0L1113 1305.7L1154 1326.4L1195 1347.1L1236 1367.8L1278 1388.6L1319 1409.3L1360 1430.1L1401 1451.0L1442 1471.8L1484 1492.6L1525 1513.5L1566 1534.4L1569 1535.8L1569 1585.0L1566 1584.7L1525 1564.9L1484 1545.1L1442 1525.3L1401 1505.5L1360 1485.6L1319 1465.8L1278 1446.0L1236 1426.1L1195 1406.3L1154 1386.4L1113 1366.6L1072 1346.7L1030 1326.9L989 1307.0L948 1287.2L907 1267.3L866 1247.5L824 1227.6L783 1207.8L742 1187.9L701 1168.0L660 1148.2L618 1128.3L577 1108.5L536 1088.6L495 1068.7L454 1048.9L412 1029.0L371 1009.2L330 989.3Z" fill="#ffeeb7"/>
<path d="M330 926.0L371 946.0L412 966.1L454 986.3L495 1006.4L536 1026.6L577 1046.9L618 1067.1L660 1087.4L701 1107.7L742 1128.1L783 1148.4L824 1168.8L866 1189.3L907 1209.7L948 1230.2L989 1250.7L1030 1271.2L1072 1291.8L1113 1312.4L1154 1332.9L1195 1353.6L1236 1374.2L1278 1394.8L1319 1415.5L1360 1436.2L1401 1456.9L1442 1477.6L1484 1498.4L1525 1519.1L1566 1539.9L1569 1541.3L1569 1580.5L1566 1579.2L1525 1559.3L1484 1539.4L1442 1519.4L1401 1499.5L1360 1479.6L1319 1459.6L1278 1439.7L1236 1419.7L1195 1399.8L1154 1379.9L1113 1359.9L1072 1340.0L1030 1320.0L989 1300.1L948 1280.2L907 1260.2L866 1240.3L824 1220.4L783 1200.5L742 1180.5L701 1160.6L660 1140.7L618 1120.8L577 1100.9L536 1081.0L495 1061.1L454 1041.2L412 1021.3L371 1001.4L330 981.5Z" fill="#ffefba"/>
<path d="M330 936.8L371 956.8L412 976.9L454 996.9L495 1017.1L536 1037.2L577 1057.4L618 1077.5L660 1097.8L701 1118.0L742 1138.3L783 1158.6L824 1178.9L866 1199.2L907 1219.5L948 1239.9L989 1260.3L1030 1280.7L1072 1301.1L1113 1321.6L1154 1342.1L1195 1362.5L1236 1383.0L1278 1403.6L1319 1424.1L1360 1444.6L1401 1465.2L1442 1485.8L1484 1506.3L1525 1526.9L1566 1547.6L1569 1548.9L1569 1572.9L1566 1571.6L1525 1551.5L1484 1531.4L1442 1511.3L1401 1491.2L1360 1471.1L1319 1451.1L1278 1431.0L1236 1410.9L1195 1390.8L1154 1370.7L1113 1350.7L1072 1330.6L1030 1310.6L989 1290.5L948 1270.5L907 1250.4L866 1230.4L824 1210.4L783 1190.4L742 1170.3L701 1150.3L660 1130.3L618 1110.4L577 1090.4L536 1070.4L495 1050.5L454 1030.5L412 1010.6L371 990.7L330 970.7Z" fill="#fff1bc"/>
<path d="M330 590.6L351 597.8L371 605.2L392 612.6L412 620.1L433 627.7L454 635.3L474 643.1L495 650.9L515 658.8L536 666.8L557 674.9L577 683.0L598 691.2L618 699.5L639 707.9L660 716.4L680 724.9L701 733.6L721 742.2L742 751.0L763 759.9L783 768.8L804 777.8L824 786.9L845 796.1L866 805.3L886 814.6L907 824.0L927 833.5L948 843.0L969 852.6L989 862.3L1010 872.1L1030 881.9L1051 891.9L1072 901.9L1092 911.9L1113 922.1L1133 932.3L1154 942.6L1175 952.9L1195 963.4L1216 973.9L1236 984.5L1257 995.1L1278 1005.9L1298 1016.7L1319 1027.5L1339 1038.5L1360 1049.5L1381 1060.6L1401 1071.8L1422 1083.0L1442 1094.3L1463 1105.7L1484 1117.1L1504 1128.7L1525 1140.2L1545 1151.9L1566 1163.6L1571 1166.3M330 642.9L351 650.9L371 658.9L392 666.9L412 675.1L433 683.4L454 691.7L474 700.1L495 708.6L515 717.2L536 725.9L557 734.6L577 743.4L598 752.3L618 761.3L639 770.4L660 779.5L680 788.7L701 798.0L721 807.3L742 816.7L763 826.2L783 835.8L804 845.4L824 855.1L845 864.9L866 874.7L886 884.6L907 894.6L927 904.7L948 914.8L969 924.9L989 935.2L1010 945.5L1030 955.8L1051 966.2L1072 976.7L1092 987.2L1113 997.8L1133 1008.5L1154 1019.2L1175 1029.9L1195 1040.8L1216 1051.6L1236 1062.5L1257 1073.5L1278 1084.6L1298 1095.6L1319 1106.8L1339 1118.0L1360 1129.2L1381 1140.5L1401 1151.8L1422 1163.2L1442 1174.6L1463 1186.0L1484 1197.5L1504 1209.1L1525 1220.7L1545 1232.3L1566 1244.0L1571 1246.7M330 681.8L351 690.0L371 698.3L392 706.6L412 715.1L433 723.7L454 732.3L474 741.1L495 749.9L515 758.8L536 767.8L557 776.9L577 786.0L598 795.3L618 804.6L639 814.0L660 823.5L680 833.0L701 842.7L721 852.4L742 862.1L763 872.0L783 881.9L804 891.9L824 901.9L845 912.1L866 922.2L886 932.5L907 942.8L927 953.2L948 963.6L969 974.1L989 984.6L1010 995.2L1030 1005.9L1051 1016.6L1072 1027.3L1092 1038.1L1113 1049.0L1133 1059.9L1154 1070.9L1175 1081.9L1195 1092.9L1216 1104.0L1236 1115.1L1257 1126.3L1278 1137.5L1298 1148.7L1319 1160.0L1339 1171.3L1360 1182.7L1381 1194.1L1401 1205.5L1422 1216.9L1442 1228.4L1463 1239.9L1484 1251.4L1504 1263.0L1525 1274.5L1545 1286.1L1566 1297.7L1571 1300.4M330 714.4L351 723.3L371 732.1L392 741.1L412 750.1L433 759.2L454 768.3L474 777.5L495 786.8L515 796.1L536 805.5L557 815.0L577 824.5L598 834.1L618 843.7L639 853.4L660 863.2L680 873.0L701 882.9L721 892.8L742 902.8L763 912.9L783 923.0L804 933.1L824 943.3L845 953.6L866 963.9L886 974.2L907 984.6L927 995.1L948 1005.6L969 1016.1L989 1026.7L1010 1037.4L1030 1048.1L1051 1058.8L1072 1069.6L1092 1080.4L1113 1091.2L1133 1102.1L1154 1113.1L1175 1124.1L1195 1135.1L1216 1146.1L1236 1157.2L1257 1168.4L1278 1179.5L1298 1190.7L1319 1202.0L1339 1213.3L1360 1224.6L1381 1235.9L1401 1247.3L1422 1258.7L1442 1270.1L1463 1281.6L1484 1293.0L1504 1304.6L1525 1316.1L1545 1327.7L1566 1339.3L1571 1341.9M330 744.4L351 753.6L371 762.8L392 772.1L412 781.4L433 790.8L454 800.3L474 809.8L495 819.4L515 829.0L536 838.7L557 848.4L577 858.2L598 868.0L618 877.9L639 887.8L660 897.8L680 907.8L701 917.9L721 928.0L742 938.1L763 948.3L783 958.6L804 968.9L824 979.2L845 989.6L866 1000.0L886 1010.5L907 1021.0L927 1031.6L948 1042.1L969 1052.8L989 1063.4L1010 1074.1L1030 1084.9L1051 1095.6L1072 1106.4L1092 1117.3L1113 1128.1L1133 1139.0L1154 1150.0L1175 1160.9L1195 1171.9L1216 1183.0L1236 1194.0L1257 1205.1L1278 1216.2L1298 1227.4L1319 1238.5L1339 1249.7L1360 1261.0L1381 1272.2L1401 1283.5L1422 1294.8L1442 1306.1L1463 1317.4L1484 1328.8L1504 1340.2L1525 1351.6L1545 1363.0L1566 1374.4L1571 1377.0M330 773.8L351 783.2L371 792.7L392 802.3L412 811.9L433 821.5L454 831.2L474 840.9L495 850.7L515 860.6L536 870.4L557 880.3L577 890.3L598 900.3L618 910.4L639 920.4L660 930.6L680 940.7L701 950.9L721 961.2L742 971.5L763 981.8L783 992.2L804 1002.6L824 1013.0L845 1023.5L866 1034.0L886 1044.5L907 1055.1L927 1065.7L948 1076.3L969 1087.0L989 1097.6L1010 1108.4L1030 1119.1L1051 1129.9L1072 1140.7L1092 1151.6L1113 1162.4L1133 1173.3L1154 1184.2L1175 1195.2L1195 1206.2L1216 1217.2L1236 1228.2L1257 1239.2L1278 1250.3L1298 1261.4L1319 1272.5L1339 1283.6L1360 1294.7L1381 1305.9L1401 1317.1L1422 1328.3L1442 1339.5L1463 1350.7L1484 1362.0L1504 1373.2L1525 1384.5L1545 1395.8L1566 1407.1L1571 1409.7M330 804.2L351 813.9L371 823.7L392 833.5L412 843.3L433 853.2L454 863.1L474 873.0L495 883.0L515 893.0L536 903.1L557 913.1L577 923.2L598 933.4L618 943.6L639 953.8L660 964.0L680 974.3L701 984.6L721 994.9L742 1005.3L763 1015.7L783 1026.1L804 1036.5L824 1047.0L845 1057.5L866 1068.1L886 1078.6L907 1089.2L927 1099.8L948 1110.4L969 1121.1L989 1131.8L1010 1142.5L1030 1153.2L1051 1164.0L1072 1174.7L1092 1185.5L1113 1196.4L1133 1207.2L1154 1218.1L1175 1228.9L1195 1239.8L1216 1250.8L1236 1261.7L1257 1272.6L1278 1283.6L1298 1294.6L1319 1305.6L1339 1316.6L1360 1327.7L1381 1338.7L1401 1349.8L1422 1360.9L1442 1372.0L1463 1383.1L1484 1394.2L1504 1405.3L1525 1416.5L1545 1427.6L1566 1438.8L1571 1441.3M330 837.5L351 847.5L371 857.5L392 867.5L412 877.6L433 887.7L454 897.8L474 907.9L495 918.1L515 928.3L536 938.5L557 948.7L577 959.0L598 969.3L618 979.6L639 989.9L660 1000.2L680 1010.6L701 1021.0L721 1031.4L742 1041.8L763 1052.3L783 1062.8L804 1073.3L824 1083.8L845 1094.3L866 1104.9L886 1115.4L907 1126.0L927 1136.6L948 1147.2L969 1157.8L989 1168.5L1010 1179.1L1030 1189.8L1051 1200.5L1072 1211.2L1092 1221.9L1113 1232.6L1133 1243.4L1154 1254.1L1175 1264.9L1195 1275.7L1216 1286.5L1236 1297.3L1257 1308.1L1278 1318.9L1298 1329.7L1319 1340.5L1339 1351.4L1360 1362.2L1381 1373.1L1401 1384.0L1422 1394.8L1442 1405.7L1463 1416.6L1484 1427.5L1504 1438.4L1525 1449.3L1545 1460.2L1566 1471.1L1571 1473.6M330 882.4L351 892.5L371 902.6L392 912.7L412 922.9L433 933.0L454 943.2L474 953.4L495 963.6L515 973.8L536 984.0L557 994.2L577 1004.5L598 1014.8L618 1025.0L639 1035.3L660 1045.6L680 1055.9L701 1066.2L721 1076.6L742 1086.9L763 1097.3L783 1107.7L804 1118.0L824 1128.4L845 1138.8L866 1149.2L886 1159.7L907 1170.1L927 1180.6L948 1191.0L969 1201.5L989 1212.0L1010 1222.4L1030 1232.9L1051 1243.5L1072 1254.0L1092 1264.5L1113 1275.0L1133 1285.6L1154 1296.1L1175 1306.7L1195 1317.3L1216 1327.9L1236 1338.5L1257 1349.1L1278 1359.7L1298 1370.3L1319 1380.9L1339 1391.6L1360 1402.2L1381 1412.9L1401 1423.5L1422 1434.2L1442 1444.9L1463 1455.6L1484 1466.2L1504 1476.9L1525 1487.7L1545 1498.4L1566 1509.1L1571 1511.5M330 1025.1L351 1035.0L371 1044.9L392 1054.7L412 1064.6L433 1074.4L454 1084.3L474 1094.1L495 1103.9L515 1113.8L536 1123.6L557 1133.4L577 1143.3L598 1153.1L618 1162.9L639 1172.7L660 1182.5L680 1192.3L701 1202.1L721 1211.9L742 1221.7L763 1231.5L783 1241.3L804 1251.0L824 1260.8L845 1270.6L866 1280.3L886 1290.1L907 1299.9L927 1309.6L948 1319.4L969 1329.1L989 1338.9L1010 1348.6L1030 1358.3L1051 1368.1L1072 1377.8L1092 1387.5L1113 1397.2L1133 1406.9L1154 1416.7L1175 1426.4L1195 1436.1L1216 1445.8L1236 1455.5L1257 1465.2L1278 1474.8L1298 1484.5L1319 1494.2L1339 1503.9L1360 1513.6L1381 1523.2L1401 1532.9L1422 1542.6L1442 1552.2L1463 1561.9L1484 1571.5L1504 1581.2M330 1069.4L351 1079.0L371 1088.5L392 1098.1L412 1107.6L433 1117.2L454 1126.7L474 1136.3L495 1145.8L515 1155.4L536 1164.9L557 1174.4L577 1183.9L598 1193.5L618 1203.0L639 1212.5L660 1222.0L680 1231.5L701 1240.9L721 1250.4L742 1259.9L763 1269.4L783 1278.9L804 1288.3L824 1297.8L845 1307.2L866 1316.7L886 1326.1L907 1335.6L927 1345.0L948 1354.4L969 1363.9L989 1373.3L1010 1382.7L1030 1392.1L1051 1401.5L1072 1410.9L1092 1420.3L1113 1429.7L1133 1439.1L1154 1448.5L1175 1457.8L1195 1467.2L1216 1476.6L1236 1485.9L1257 1495.3L1278 1504.6L1298 1514.0L1319 1523.3L1339 1532.6L1360 1542.0L1381 1551.3L1401 1560.6L1422 1569.9L1442 1579.2L1463 1588.6M330 1102.9L351 1112.2L371 1121.5L392 1130.8L412 1140.1L433 1149.3L454 1158.6L474 1167.9L495 1177.2L515 1186.4L536 1195.7L557 1205.0L577 1214.2L598 1223.5L618 1232.7L639 1242.0L660 1251.2L680 1260.5L701 1269.7L721 1278.9L742 1288.2L763 1297.4L783 1306.6L804 1315.8L824 1325.0L845 1334.2L866 1343.5L886 1352.7L907 1361.8L927 1371.0L948 1380.2L969 1389.4L989 1398.6L1010 1407.8L1030 1416.9L1051 1426.1L1072 1435.3L1092 1444.4L1113 1453.6L1133 1462.7L1154 1471.9L1175 1481.0L1195 1490.2L1216 1499.3L1236 1508.4L1257 1517.6L1278 1526.7L1298 1535.8L1319 1544.9L1339 1554.0L1360 1563.1L1381 1572.2L1401 1581.3M330 1132.0L351 1141.0L371 1150.0L392 1159.1L412 1168.1L433 1177.1L454 1186.1L474 1195.2L495 1204.2L515 1213.2L536 1222.2L557 1231.2L577 1240.2L598 1249.2L618 1258.2L639 1267.2L660 1276.2L680 1285.2L701 1294.2L721 1303.2L742 1312.2L763 1321.2L783 1330.2L804 1339.1L824 1348.1L845 1357.1L866 1366.1L886 1375.0L907 1384.0L927 1393.0L948 1401.9L969 1410.9L989 1419.9L1010 1428.8L1030 1437.8L1051 1446.7L1072 1455.7L1092 1464.6L1113 1473.6L1133 1482.5L1154 1491.4L1175 1500.4L1195 1509.3L1216 1518.2L1236 1527.2L1257 1536.1L1278 1545.0L1298 1553.9L1319 1562.9L1339 1571.8L1360 1580.7M330 1160.8L351 1169.6L371 1178.4L392 1187.2L412 1196.0L433 1204.8L454 1213.6L474 1222.4L495 1231.2L515 1240.0L536 1248.7L557 1257.5L577 1266.3L598 1275.0L618 1283.8L639 1292.6L660 1301.3L680 1310.1L701 1318.8L721 1327.6L742 1336.3L763 1345.1L783 1353.8L804 1362.6L824 1371.3L845 1380.0L866 1388.7L886 1397.5L907 1406.2L927 1414.9L948 1423.6L969 1432.3L989 1441.0L1010 1449.7L1030 1458.4L1051 1467.1L1072 1475.8L1092 1484.5L1113 1493.2L1133 1501.9L1154 1510.6L1175 1519.3L1195 1527.9L1216 1536.6L1236 1545.3L1257 1553.9L1278 1562.6L1298 1571.3L1319 1579.9L1339 1588.6M330 1190.7L351 1199.2L371 1207.6L392 1216.0L412 1224.4L433 1232.8L454 1241.2L474 1249.7L495 1258.1L515 1266.5L536 1275.0L557 1283.4L577 1291.8L598 1300.3L618 1308.7L639 1317.2L660 1325.6L680 1334.1L701 1342.5L721 1351.0L742 1359.4L763 1367.9L783 1376.4L804 1384.8L824 1393.3L845 1401.8L866 1410.3L886 1418.8L907 1427.2L927 1435.7L948 1444.2L969 1452.7L989 1461.2L1010 1469.7L1030 1478.2L1051 1486.7L1072 1495.2L1092 1503.7L1113 1512.2L1133 1520.7L1154 1529.2L1175 1537.8L1195 1546.3L1216 1554.8L1236 1563.3L1257 1571.9L1278 1580.4M330 1222.8L351 1230.7L371 1238.6L392 1246.5L412 1254.5L433 1262.4L454 1270.4L474 1278.3L495 1286.3L515 1294.3L536 1302.3L557 1310.4L577 1318.4L598 1326.5L618 1334.5L639 1342.6L660 1350.7L680 1358.8L701 1366.9L721 1375.1L742 1383.2L763 1391.4L783 1399.6L804 1407.7L824 1415.9L845 1424.2L866 1432.4L886 1440.6L907 1448.9L927 1457.2L948 1465.4L969 1473.7L989 1482.0L1010 1490.4L1030 1498.7L1051 1507.0L1072 1515.4L1092 1523.8L1113 1532.2L1133 1540.6L1154 1549.0L1175 1557.4L1195 1565.9L1216 1574.3L1236 1582.8M330 1258.7L351 1266.1L371 1273.5L392 1280.9L412 1288.4L433 1295.9L454 1303.4L474 1310.9L495 1318.5L515 1326.1L536 1333.7L557 1341.3L577 1349.0L598 1356.7L618 1364.4L639 1372.1L660 1379.8L680 1387.6L701 1395.4L721 1403.2L742 1411.1L763 1419.0L783 1426.8L804 1434.8L824 1442.7L845 1450.7L866 1458.7L886 1466.7L907 1474.7L927 1482.8L948 1490.9L969 1499.0L989 1507.1L1010 1515.3L1030 1523.4L1051 1531.6L1072 1539.9L1092 1548.1L1113 1556.4L1133 1564.7L1154 1573.0L1175 1581.4M330 1312.3L351 1319.4L371 1326.5L392 1333.7L412 1340.8L433 1348.0L454 1355.2L474 1362.4L495 1369.6L515 1376.8L536 1384.0L557 1391.2L577 1398.5L598 1405.8L618 1413.0L639 1420.3L660 1427.6L680 1434.9L701 1442.3L721 1449.6L742 1457.0L763 1464.3L783 1471.7L804 1479.1L824 1486.5L845 1493.9L866 1501.3L886 1508.8L907 1516.2L927 1523.7L948 1531.2L969 1538.6L989 1546.2L1010 1553.7L1030 1561.2L1051 1568.7L1072 1576.3L1092 1583.9" fill="none" stroke="#000" stroke-opacity="0.5" stroke-width="3.6"/>
</g>
<path fill="#000" fill-rule="evenodd" d="M304.0 301.4H1596.0V1593.0H304.0ZM308.3 305.7H1590.4V1587.7H308.3Z"/><path fill="#000" d="M318.7 304.7h4.2v4.8h-4.2zM318.7 1588.7h4.2v-4.8h-4.2zM381.7 304.7h4.2v2.5h-4.2zM444.6 304.7h4.2v2.5h-4.2zM507.6 304.7h4.2v2.5h-4.2zM570.6 304.7h4.2v4.8h-4.2zM570.6 1588.7h4.2v-4.8h-4.2zM633.5 304.7h4.2v2.5h-4.2zM696.5 304.7h4.2v2.5h-4.2zM759.5 304.7h4.2v2.5h-4.2zM822.4 304.7h4.2v4.8h-4.2zM822.4 1588.7h4.2v-4.8h-4.2zM885.4 304.7h4.2v2.5h-4.2zM948.4 304.7h4.2v2.5h-4.2zM1011.3 304.7h4.2v2.5h-4.2zM1074.3 304.7h4.2v4.8h-4.2zM1074.3 1588.7h4.2v-4.8h-4.2zM1137.2 304.7h4.2v2.5h-4.2zM1200.2 304.7h4.2v2.5h-4.2zM1263.2 304.7h4.2v2.5h-4.2zM1326.1 304.7h4.2v4.8h-4.2zM1326.1 1588.7h4.2v-4.8h-4.2zM1389.1 304.7h4.2v2.5h-4.2zM1452.1 304.7h4.2v2.5h-4.2zM1515.0 304.7h4.2v2.5h-4.2zM1578.0 304.7h4.2v4.8h-4.2zM1578.0 1588.7h4.2v-4.8h-4.2zM307.3 327.3v4.2h4.8v-4.2zM1591.4 327.3v4.2h-4.8v-4.2zM307.3 389.3v4.2h2.5v-4.2zM1591.4 389.3v4.2h-2.5v-4.2zM307.3 451.4v4.2h2.5v-4.2zM1591.4 451.4v4.2h-2.5v-4.2zM307.3 513.4v4.2h2.5v-4.2zM1591.4 513.4v4.2h-2.5v-4.2zM307.3 575.4v4.2h2.5v-4.2zM1591.4 575.4v4.2h-2.5v-4.2zM307.3 637.4v4.2h4.8v-4.2zM1591.4 637.4v4.2h-4.8v-4.2zM307.3 699.5v4.2h2.5v-4.2zM1591.4 699.5v4.2h-2.5v-4.2zM307.3 761.5v4.2h2.5v-4.2zM1591.4 761.5v4.2h-2.5v-4.2zM307.3 823.5v4.2h2.5v-4.2zM1591.4 823.5v4.2h-2.5v-4.2zM307.3 885.6v4.2h2.5v-4.2zM1591.4 885.6v4.2h-2.5v-4.2zM307.3 947.6v4.2h4.8v-4.2zM1591.4 947.6v4.2h-4.8v-4.2zM307.3 1009.6v4.2h2.5v-4.2zM1591.4 1009.6v4.2h-2.5v-4.2zM307.3 1071.7v4.2h2.5v-4.2zM1591.4 1071.7v4.2h-2.5v-4.2zM307.3 1133.7v4.2h2.5v-4.2zM1591.4 1133.7v4.2h-2.5v-4.2zM307.3 1195.7v4.2h2.5v-4.2zM1591.4 1195.7v4.2h-2.5v-4.2zM307.3 1257.8v4.2h4.8v-4.2zM1591.4 1257.8v4.2h-4.8v-4.2zM307.3 1319.8v4.2h2.5v-4.2zM1591.4 1319.8v4.2h-2.5v-4.2zM307.3 1381.8v4.2h2.5v-4.2zM1591.4 1381.8v4.2h-2.5v-4.2zM307.3 1443.8v4.2h2.5v-4.2zM1591.4 1443.8v4.2h-2.5v-4.2zM307.3 1505.9v4.2h2.5v-4.2zM1591.4 1505.9v4.2h-2.5v-4.2zM307.3 1567.9v4.2h4.8v-4.2zM1591.4 1567.9v4.2h-4.8v-4.2z"/>
<g id="plot-b" clip-path="url(#cb2)">
<rect x="308.1" y="1849.1" width="1289.5" height="1289.0" fill="#26548a"/>
<path d="M1746 3140L1746 3102L1746 3064L1746 3026L1746 2989L1746 2950L1746 2912L1746 2873L1746 2834L1746 2794L1746 2754L1746 2714L1746 2672L1746 2630L1746 2587L1746 2544L1746 2499L1746 2453L1747 2406L1747 2358L1746 2309L1745 2259L1743 2207L1741 2154L1739 2100L1736 2044L1730 1988L1721 1932L1710 1877L1698 1820L1683 1764L1663 1711L1639 1661L1610 1613L1575 1573L1534 1541L1488 1513L1438 1493L1384 1480L1327 1472L1268 1472L1206 1480L1147 1487L1091 1491L1038 1492L986 1492L937 1491L889 1487L843 1479L799 1465L757 1447L715 1424L673 1397L630 1369L587 1344L541 1321L495 1300L448 1283L399 1270L350 1261L301 1256L293 1256L293 3148L1746 3148Z" fill="#28558c"/>
<path d="M1643 3140L1643 3105L1643 3070L1643 3035L1643 2999L1643 2964L1643 2928L1643 2892L1643 2856L1643 2819L1643 2782L1643 2744L1643 2706L1643 2667L1643 2627L1643 2586L1643 2545L1643 2502L1643 2459L1643 2414L1643 2369L1642 2322L1640 2274L1639 2224L1637 2174L1634 2122L1628 2070L1620 2018L1611 1966L1600 1912L1587 1860L1569 1810L1547 1762L1522 1716L1490 1677L1453 1645L1413 1617L1367 1595L1318 1580L1267 1570L1213 1566L1156 1571L1102 1575L1050 1576L1001 1575L952 1574L905 1572L860 1568L816 1560L775 1548L734 1532L694 1511L654 1488L613 1464L571 1442L528 1422L484 1404L439 1390L394 1378L347 1370L301 1366L293 1366L293 3148L1643 3148Z" fill="#29568d"/>
<path d="M1575 3140L1575 3106L1575 3073L1575 3040L1575 3006L1575 2973L1575 2939L1575 2905L1575 2870L1575 2835L1575 2800L1575 2764L1575 2728L1575 2691L1575 2653L1575 2614L1575 2575L1575 2535L1575 2493L1575 2451L1574 2408L1573 2363L1572 2318L1571 2271L1569 2223L1566 2173L1561 2124L1554 2074L1545 2024L1535 1974L1523 1923L1507 1875L1487 1829L1464 1785L1434 1746L1400 1713L1363 1685L1320 1663L1275 1646L1227 1635L1177 1629L1124 1631L1072 1633L1023 1632L976 1630L930 1628L885 1626L841 1622L799 1614L758 1602L719 1588L680 1569L641 1548L601 1527L561 1507L519 1489L477 1473L434 1460L390 1450L345 1443L301 1440L293 1440L293 3148L1575 3148Z" fill="#2a578e"/>
<path d="M1526 3140L1526 3108L1526 3076L1526 3044L1526 3012L1526 2979L1526 2947L1526 2914L1526 2881L1526 2847L1526 2813L1526 2779L1526 2744L1526 2708L1526 2672L1526 2635L1526 2597L1526 2558L1526 2518L1526 2478L1525 2436L1524 2393L1523 2349L1522 2304L1520 2258L1517 2210L1513 2163L1506 2115L1498 2067L1489 2018L1477 1969L1462 1922L1443 1877L1421 1834L1394 1796L1362 1763L1327 1734L1287 1712L1244 1694L1199 1681L1151 1674L1100 1675L1051 1675L1004 1673L958 1670L913 1667L870 1664L827 1660L786 1653L747 1642L708 1628L669 1611L631 1592L593 1572L553 1554L513 1538L471 1523L430 1511L387 1502L344 1495L301 1492L293 1492L293 3148L1526 3148Z" fill="#2c578f"/>
<path d="M1489 3140L1489 3109L1489 3078L1489 3047L1489 3015L1489 2984L1489 2952L1489 2920L1489 2888L1489 2856L1489 2823L1489 2789L1489 2755L1489 2721L1489 2686L1489 2650L1489 2613L1489 2575L1489 2537L1489 2497L1489 2457L1488 2416L1487 2373L1485 2329L1484 2284L1481 2238L1477 2192L1471 2145L1463 2098L1454 2050L1443 2003L1429 1957L1411 1913L1390 1870L1364 1833L1334 1800L1300 1771L1262 1748L1221 1730L1177 1716L1131 1708L1082 1707L1035 1706L989 1703L945 1700L901 1697L859 1693L817 1689L777 1681L738 1671L700 1658L662 1642L624 1624L586 1606L548 1589L508 1574L468 1560L427 1549L385 1540L343 1534L301 1531L293 1531L293 3148L1489 3148Z" fill="#2d5890"/>
<path d="M1460 3140L1460 3109L1460 3079L1460 3049L1460 3018L1460 2988L1460 2957L1460 2926L1460 2895L1460 2863L1460 2831L1460 2798L1460 2765L1460 2731L1460 2697L1460 2662L1460 2626L1460 2589L1460 2552L1460 2513L1459 2474L1458 2434L1457 2392L1456 2349L1454 2305L1452 2260L1448 2215L1442 2170L1434 2124L1426 2077L1415 2030L1402 1985L1385 1941L1365 1900L1340 1862L1311 1830L1278 1801L1242 1777L1202 1758L1160 1744L1116 1735L1068 1733L1022 1731L978 1727L934 1724L892 1720L850 1716L809 1712L769 1705L731 1695L693 1682L656 1667L619 1650L581 1633L543 1617L504 1603L464 1590L424 1579L383 1571L342 1566L301 1563L293 1563L293 3148L1460 3148Z" fill="#2e5992"/>
<path d="M1433 3140L1433 3110L1433 3081L1433 3051L1433 3021L1433 2991L1433 2961L1433 2931L1433 2900L1433 2869L1433 2838L1433 2806L1434 2773L1434 2740L1434 2707L1434 2673L1434 2638L1434 2602L1434 2565L1434 2527L1433 2489L1432 2450L1431 2409L1430 2367L1428 2324L1426 2280L1422 2236L1416 2191L1409 2146L1401 2100L1391 2055L1378 2010L1361 1967L1342 1926L1318 1889L1290 1856L1259 1827L1224 1803L1185 1784L1145 1769L1102 1759L1056 1756L1011 1753L967 1749L925 1745L883 1741L842 1737L802 1732L762 1725L725 1716L687 1704L651 1690L614 1674L577 1657L539 1642L501 1629L462 1616L422 1607L382 1599L341 1594L301 1591L293 1591L293 3148L1433 3148Z" fill="#305a93"/>
<path d="M1410 3140L1410 3111L1410 3082L1410 3053L1410 3024L1410 2994L1410 2965L1410 2935L1410 2905L1410 2875L1410 2844L1410 2813L1410 2781L1410 2749L1410 2716L1410 2682L1410 2648L1410 2613L1410 2577L1410 2540L1410 2502L1409 2464L1408 2424L1407 2383L1405 2341L1403 2298L1399 2254L1393 2211L1387 2166L1379 2121L1369 2076L1356 2032L1341 1990L1322 1949L1299 1912L1272 1880L1242 1851L1208 1826L1171 1807L1131 1791L1089 1781L1044 1777L1001 1773L958 1768L916 1764L875 1759L835 1755L795 1751L756 1744L719 1735L682 1723L646 1710L609 1694L573 1679L536 1665L498 1652L459 1640L420 1631L381 1624L341 1619L301 1616L293 1616L293 3148L1410 3148Z" fill="#315a94"/>
<path d="M1389 3140L1389 3111L1389 3083L1389 3054L1389 3026L1389 2997L1389 2968L1389 2939L1389 2909L1389 2880L1389 2849L1389 2819L1389 2788L1389 2756L1389 2724L1389 2691L1389 2657L1389 2623L1389 2588L1389 2551L1389 2515L1388 2477L1387 2438L1386 2398L1384 2356L1382 2314L1378 2271L1373 2228L1366 2185L1359 2140L1350 2096L1337 2052L1322 2011L1304 1970L1282 1934L1256 1901L1226 1872L1193 1847L1157 1827L1119 1811L1078 1800L1034 1795L991 1791L950 1786L909 1781L868 1776L828 1772L789 1767L751 1760L714 1751L677 1740L641 1728L605 1713L569 1698L532 1685L495 1672L457 1661L418 1653L379 1646L340 1641L301 1639L293 1639L293 3148L1389 3148Z" fill="#335b95"/>
<path d="M1370 3140L1370 3112L1370 3084L1370 3056L1370 3028L1370 3000L1370 2971L1370 2942L1370 2913L1370 2884L1370 2854L1370 2824L1370 2794L1370 2763L1370 2731L1370 2699L1370 2666L1370 2632L1370 2597L1370 2562L1370 2525L1369 2488L1368 2450L1367 2410L1365 2370L1363 2328L1360 2286L1354 2244L1348 2201L1341 2157L1332 2113L1320 2071L1305 2029L1288 1989L1266 1953L1241 1920L1212 1891L1180 1866L1145 1846L1108 1829L1068 1817L1025 1812L983 1807L942 1801L902 1796L862 1791L823 1787L784 1782L746 1775L709 1767L673 1756L637 1744L602 1730L566 1716L529 1703L492 1691L455 1681L417 1672L378 1666L340 1661L301 1659L293 1659L293 3148L1370 3148Z" fill="#345c97"/>
<path d="M1353 3140L1353 3112L1353 3085L1353 3057L1353 3030L1353 3002L1353 2974L1353 2946L1353 2917L1353 2888L1353 2859L1353 2830L1353 2799L1353 2769L1353 2738L1353 2706L1353 2673L1353 2640L1353 2606L1353 2571L1352 2536L1351 2499L1351 2461L1349 2422L1348 2382L1346 2341L1342 2300L1337 2258L1331 2216L1324 2173L1315 2130L1304 2087L1290 2046L1273 2007L1252 1970L1227 1938L1200 1908L1168 1883L1134 1863L1097 1846L1058 1834L1017 1827L976 1822L935 1816L895 1810L856 1805L817 1801L779 1796L742 1789L705 1781L669 1770L634 1759L599 1745L563 1732L527 1719L490 1708L453 1698L415 1690L377 1684L339 1680L301 1678L293 1678L293 3148L1353 3148Z" fill="#355c98"/>
<path d="M1336 3140L1336 3113L1336 3086L1336 3059L1336 3031L1336 3004L1336 2976L1336 2949L1336 2921L1336 2892L1336 2864L1336 2834L1336 2805L1336 2775L1336 2744L1336 2713L1336 2681L1336 2648L1336 2614L1336 2580L1336 2545L1335 2509L1334 2472L1333 2434L1332 2394L1330 2354L1326 2313L1322 2272L1316 2230L1309 2188L1300 2145L1289 2103L1275 2062L1259 2023L1239 1987L1215 1954L1188 1925L1157 1900L1124 1878L1088 1861L1050 1849L1009 1842L968 1835L929 1829L890 1823L851 1818L812 1813L774 1808L737 1802L701 1794L666 1784L631 1773L595 1760L560 1747L524 1735L488 1724L451 1715L414 1707L377 1701L339 1697L301 1695L293 1695L293 3148L1336 3148Z" fill="#375d99"/>
<path d="M1321 3140L1321 3113L1321 3086L1321 3060L1321 3033L1321 3006L1321 2979L1321 2952L1321 2924L1321 2896L1321 2868L1321 2839L1321 2810L1321 2780L1321 2750L1321 2719L1321 2688L1321 2655L1321 2622L1321 2589L1320 2554L1319 2518L1319 2482L1317 2444L1316 2405L1314 2366L1311 2325L1306 2285L1301 2244L1294 2202L1286 2159L1275 2118L1261 2078L1246 2039L1226 2003L1202 1970L1176 1940L1146 1915L1114 1894L1079 1876L1041 1863L1001 1855L962 1849L923 1842L884 1836L846 1831L808 1826L770 1821L733 1814L698 1806L662 1797L627 1786L593 1774L557 1761L522 1750L486 1740L450 1731L413 1724L376 1718L338 1714L301 1712L293 1712L293 3148L1321 3148Z" fill="#385e9a"/>
<path d="M1306 3140L1306 3114L1306 3087L1306 3061L1306 3035L1306 3008L1306 2981L1306 2954L1306 2927L1306 2900L1306 2872L1306 2843L1306 2815L1306 2785L1306 2756L1306 2725L1306 2694L1306 2663L1306 2630L1306 2597L1305 2563L1304 2528L1304 2491L1302 2454L1301 2416L1299 2377L1296 2337L1292 2297L1286 2257L1280 2215L1272 2173L1261 2132L1248 2092L1233 2054L1214 2018L1191 1985L1165 1956L1136 1930L1104 1908L1070 1890L1033 1877L994 1869L955 1861L917 1855L878 1848L841 1843L803 1838L766 1832L730 1826L694 1818L659 1809L624 1799L590 1787L555 1775L520 1764L484 1755L448 1746L412 1739L375 1734L338 1730L301 1728L293 1728L293 3148L1306 3148Z" fill="#395f9b"/>
<path d="M1291 3140L1291 3114L1291 3088L1291 3062L1291 3036L1291 3010L1291 2984L1291 2957L1291 2930L1291 2903L1291 2876L1291 2848L1291 2819L1291 2791L1291 2761L1291 2731L1291 2701L1291 2669L1291 2637L1291 2604L1291 2571L1290 2536L1289 2501L1288 2464L1287 2427L1285 2388L1282 2349L1278 2309L1272 2269L1266 2228L1258 2187L1248 2146L1235 2107L1220 2068L1202 2032L1180 2000L1155 1970L1126 1944L1095 1922L1062 1904L1026 1890L987 1881L949 1874L911 1866L873 1860L836 1854L799 1849L762 1844L726 1837L691 1830L656 1821L621 1811L587 1800L552 1788L517 1778L482 1769L446 1761L410 1754L374 1749L337 1745L301 1743L293 1743L293 3148L1291 3148Z" fill="#3b5f9d"/>
<path d="M1278 3140L1278 3114L1278 3089L1278 3063L1278 3038L1278 3012L1278 2986L1278 2960L1278 2933L1278 2906L1278 2879L1278 2852L1278 2824L1278 2795L1278 2766L1278 2737L1278 2707L1278 2676L1277 2644L1277 2612L1277 2579L1276 2545L1276 2510L1274 2474L1273 2436L1271 2398L1269 2360L1264 2321L1259 2281L1253 2240L1245 2199L1235 2159L1223 2120L1209 2082L1190 2046L1169 2014L1145 1984L1117 1958L1086 1936L1054 1917L1018 1903L981 1893L943 1885L905 1878L868 1871L831 1865L794 1860L758 1854L722 1848L687 1841L653 1832L618 1823L584 1812L550 1801L515 1791L480 1782L445 1775L409 1768L373 1763L337 1760L301 1758L293 1758L293 3148L1278 3148Z" fill="#3c609e"/>
<path d="M1264 3140L1264 3115L1264 3089L1264 3064L1264 3039L1264 3013L1264 2988L1264 2962L1264 2936L1264 2909L1264 2883L1264 2856L1264 2828L1264 2800L1264 2771L1264 2742L1264 2713L1264 2682L1264 2651L1264 2619L1264 2586L1263 2553L1262 2518L1261 2483L1260 2446L1258 2408L1256 2370L1251 2331L1246 2292L1241 2252L1233 2212L1223 2172L1212 2133L1197 2095L1180 2059L1159 2027L1135 1997L1108 1971L1078 1948L1046 1929L1011 1915L974 1905L937 1897L900 1889L864 1881L827 1875L790 1870L754 1865L719 1859L684 1851L650 1843L616 1834L582 1823L548 1813L513 1804L479 1795L444 1788L408 1782L373 1777L337 1774L301 1772L293 1772L293 3148L1264 3148Z" fill="#3d619f"/>
<path d="M1252 3140L1252 3115L1252 3090L1252 3065L1252 3040L1252 3015L1252 2990L1252 2964L1252 2938L1252 2912L1252 2886L1252 2859L1252 2832L1252 2804L1252 2776L1252 2748L1252 2718L1252 2688L1252 2657L1252 2626L1251 2593L1251 2560L1250 2526L1249 2491L1248 2455L1246 2418L1243 2380L1239 2342L1234 2303L1229 2263L1221 2223L1212 2184L1200 2145L1187 2107L1169 2072L1149 2039L1126 2010L1099 1983L1070 1961L1039 1941L1005 1926L968 1916L932 1907L895 1899L859 1892L823 1885L787 1880L751 1875L716 1869L681 1861L647 1853L613 1844L580 1834L546 1825L511 1816L477 1808L442 1800L407 1795L372 1790L336 1787L301 1786L293 1786L293 3148L1252 3148Z" fill="#3f61a0"/>
<path d="M1240 3140L1240 3115L1240 3091L1240 3066L1240 3041L1240 3017L1240 2992L1240 2966L1240 2941L1240 2915L1240 2889L1240 2863L1240 2836L1240 2809L1240 2781L1240 2752L1240 2723L1240 2694L1240 2663L1240 2632L1239 2600L1239 2568L1238 2534L1237 2499L1236 2463L1234 2427L1231 2389L1228 2352L1223 2313L1217 2274L1210 2234L1201 2195L1190 2157L1176 2119L1160 2084L1140 2052L1117 2022L1091 1995L1063 1972L1032 1953L998 1937L963 1927L927 1917L891 1909L855 1901L819 1895L783 1889L748 1884L713 1878L678 1871L644 1863L611 1855L577 1845L544 1836L510 1827L475 1819L441 1813L406 1807L371 1803L336 1800L301 1798L293 1798L293 3148L1240 3148Z" fill="#4062a2"/>
<path d="M1229 3140L1229 3116L1229 3091L1229 3067L1229 3043L1229 3018L1229 2993L1229 2969L1229 2943L1229 2918L1229 2892L1229 2866L1229 2840L1229 2813L1229 2785L1229 2757L1229 2728L1229 2699L1228 2669L1228 2638L1228 2607L1227 2574L1227 2541L1226 2507L1225 2472L1223 2435L1220 2399L1217 2361L1212 2323L1207 2284L1200 2245L1191 2206L1180 2168L1167 2131L1150 2096L1131 2063L1109 2033L1083 2006L1055 1983L1025 1963L992 1948L957 1937L922 1927L886 1918L851 1910L815 1904L780 1898L744 1893L710 1887L676 1880L642 1873L608 1864L575 1855L542 1846L508 1838L474 1831L440 1824L405 1819L371 1815L336 1812L301 1811L293 1811L293 3148L1229 3148Z" fill="#4163a3"/>
<path d="M1218 3140L1218 3116L1218 3092L1218 3068L1218 3044L1218 3020L1218 2995L1218 2971L1218 2946L1218 2921L1218 2895L1218 2869L1218 2843L1218 2816L1218 2789L1218 2762L1218 2733L1218 2704L1218 2675L1218 2644L1217 2613L1217 2581L1216 2548L1215 2514L1214 2479L1212 2444L1210 2407L1206 2370L1202 2332L1196 2294L1190 2255L1181 2216L1170 2179L1157 2141L1141 2106L1122 2074L1101 2044L1076 2017L1048 1994L1019 1974L986 1958L952 1946L917 1936L882 1927L847 1919L811 1913L776 1907L741 1901L707 1895L673 1889L639 1882L606 1873L573 1865L540 1856L506 1848L473 1841L439 1835L404 1830L370 1826L335 1823L301 1822L293 1822L293 3148L1218 3148Z" fill="#4364a4"/>
<path d="M1208 3140L1208 3116L1208 3092L1208 3069L1208 3045L1208 3021L1208 2997L1208 2972L1208 2948L1208 2923L1208 2898L1208 2872L1208 2846L1208 2820L1208 2793L1208 2766L1208 2738L1208 2709L1207 2680L1207 2650L1207 2619L1206 2587L1206 2555L1205 2521L1204 2487L1202 2451L1200 2415L1196 2379L1192 2341L1187 2303L1180 2265L1172 2226L1161 2189L1149 2152L1133 2117L1114 2084L1093 2054L1069 2027L1042 2004L1013 1983L981 1967L947 1955L912 1945L878 1936L843 1927L808 1921L773 1915L739 1909L704 1903L671 1897L637 1890L604 1882L571 1874L538 1866L505 1858L471 1851L437 1845L404 1841L369 1837L335 1834L301 1833L293 1833L293 3148L1208 3148Z" fill="#4464a5"/>
<path d="M1198 3140L1198 3116L1198 3093L1198 3069L1198 3046L1198 3022L1198 2998L1198 2974L1198 2950L1198 2925L1198 2900L1198 2875L1198 2850L1198 2823L1198 2797L1198 2770L1198 2742L1198 2714L1198 2685L1198 2655L1197 2625L1197 2593L1196 2561L1195 2528L1194 2494L1192 2459L1190 2423L1187 2387L1182 2350L1177 2312L1171 2274L1163 2236L1152 2198L1140 2161L1125 2127L1107 2094L1086 2064L1062 2037L1036 2013L1007 1993L976 1976L942 1964L908 1953L874 1944L839 1935L805 1928L770 1922L736 1917L702 1911L668 1905L635 1898L602 1890L569 1882L536 1875L503 1867L470 1861L436 1855L403 1851L369 1847L335 1845L301 1844L293 1844L293 3148L1198 3148Z" fill="#4565a6"/>
<path d="M1189 3140L1189 3117L1189 3093L1189 3070L1189 3047L1189 3023L1189 3000L1189 2976L1189 2952L1189 2928L1189 2903L1189 2878L1189 2853L1189 2827L1189 2800L1189 2774L1189 2746L1189 2718L1188 2689L1188 2660L1188 2630L1187 2599L1187 2567L1186 2534L1185 2500L1183 2466L1181 2430L1178 2394L1173 2358L1169 2320L1162 2282L1154 2244L1144 2207L1132 2171L1117 2136L1100 2103L1079 2073L1056 2046L1030 2022L1002 2001L971 1984L938 1972L904 1961L870 1951L836 1943L802 1936L767 1930L733 1924L699 1918L666 1912L633 1906L600 1898L568 1891L535 1883L502 1876L469 1870L435 1865L402 1860L368 1857L335 1855L301 1853L293 1853L293 3148L1189 3148Z" fill="#4766a8"/>
<path d="M1180 3140L1180 3117L1180 3094L1180 3071L1180 3048L1180 3024L1180 3001L1180 2977L1180 2954L1180 2930L1180 2905L1180 2880L1180 2855L1180 2830L1180 2804L1180 2777L1180 2750L1180 2722L1180 2694L1180 2665L1179 2635L1179 2604L1178 2573L1177 2540L1176 2507L1175 2472L1172 2437L1169 2401L1165 2365L1160 2328L1154 2290L1146 2253L1137 2216L1125 2179L1110 2145L1093 2112L1073 2082L1050 2055L1024 2030L997 2010L966 1992L934 1979L900 1968L867 1958L833 1950L799 1943L765 1936L731 1931L697 1925L664 1919L631 1913L598 1906L566 1898L533 1891L501 1884L468 1879L435 1873L401 1869L368 1866L334 1864L301 1863L293 1863L293 3148L1180 3148Z" fill="#4966a8"/>
<path d="M1167 3140L1167 3117L1167 3094L1167 3072L1167 3049L1167 3026L1167 3003L1167 2980L1167 2956L1167 2933L1167 2909L1167 2884L1167 2859L1167 2834L1167 2809L1167 2782L1167 2756L1167 2728L1167 2700L1167 2672L1167 2642L1166 2612L1166 2581L1165 2549L1164 2516L1162 2482L1160 2447L1157 2412L1153 2376L1148 2339L1142 2302L1135 2265L1125 2228L1114 2192L1100 2157L1083 2125L1064 2095L1041 2067L1016 2043L989 2022L960 2004L928 1991L895 1979L862 1969L828 1960L795 1953L761 1946L727 1941L694 1935L661 1929L628 1923L596 1917L563 1910L531 1903L499 1897L466 1891L433 1886L400 1882L367 1879L334 1877L301 1876L293 1876L293 3148L1167 3148Z" fill="#4b67a6"/>
<path d="M1155 3140L1155 3117L1155 3095L1155 3073L1155 3050L1155 3028L1155 3005L1155 2982L1155 2959L1155 2936L1155 2912L1155 2888L1155 2863L1155 2839L1155 2813L1155 2787L1155 2761L1155 2734L1155 2706L1155 2678L1155 2649L1154 2619L1153 2589L1153 2557L1152 2524L1150 2491L1148 2457L1145 2422L1141 2386L1137 2350L1131 2313L1124 2276L1115 2240L1104 2204L1090 2169L1074 2137L1055 2107L1033 2079L1009 2054L982 2033L953 2015L922 2001L890 1989L857 1979L824 1970L791 1962L757 1956L724 1950L691 1945L658 1939L626 1933L593 1927L561 1920L529 1914L497 1908L464 1903L432 1899L399 1895L366 1893L334 1891L301 1890L293 1890L293 3148L1155 3148Z" fill="#4d68a5"/>
<path d="M1144 3140L1144 3118L1144 3096L1144 3074L1144 3052L1144 3029L1144 3007L1144 2984L1144 2961L1144 2938L1144 2915L1144 2891L1144 2867L1144 2843L1144 2818L1144 2792L1144 2766L1144 2740L1143 2712L1143 2684L1143 2656L1143 2626L1142 2596L1141 2565L1140 2533L1139 2500L1137 2466L1134 2431L1130 2396L1126 2360L1120 2324L1113 2287L1105 2251L1094 2215L1081 2181L1065 2149L1046 2118L1025 2090L1002 2066L975 2044L947 2026L916 2011L885 1999L853 1988L820 1979L787 1971L754 1965L721 1959L688 1954L655 1948L623 1943L591 1937L559 1931L527 1925L495 1920L463 1915L431 1911L398 1908L366 1905L333 1904L301 1903L293 1903L293 3148L1144 3148Z" fill="#5069a3"/>
<path d="M1133 3140L1133 3118L1133 3096L1133 3075L1133 3053L1133 3031L1133 3009L1133 2986L1133 2964L1133 2941L1133 2918L1133 2894L1133 2871L1133 2846L1133 2822L1133 2797L1133 2771L1133 2745L1132 2718L1132 2690L1132 2662L1132 2633L1131 2603L1130 2572L1129 2541L1128 2508L1126 2475L1123 2441L1120 2406L1115 2370L1110 2334L1103 2298L1095 2262L1085 2226L1072 2192L1056 2160L1038 2129L1018 2101L995 2076L969 2054L941 2036L911 2021L880 2008L848 1997L816 1988L783 1980L750 1974L718 1968L685 1963L653 1957L620 1952L589 1947L557 1941L525 1936L493 1931L461 1927L429 1923L397 1920L365 1918L333 1916L301 1915L293 1915L293 3148L1133 3148Z" fill="#526aa2"/>
<path d="M1122 3140L1122 3118L1122 3097L1122 3075L1122 3054L1122 3032L1122 3010L1122 2988L1122 2966L1122 2943L1122 2921L1122 2898L1122 2874L1122 2850L1122 2826L1122 2801L1122 2776L1122 2750L1122 2723L1122 2696L1121 2668L1121 2639L1120 2610L1120 2579L1119 2548L1117 2516L1115 2483L1113 2449L1110 2415L1105 2380L1100 2344L1094 2308L1086 2272L1076 2237L1063 2203L1048 2170L1031 2140L1011 2112L988 2086L963 2064L936 2045L906 2030L875 2017L844 2006L812 1996L780 1989L747 1982L715 1976L682 1971L650 1966L618 1961L586 1956L555 1951L523 1946L491 1941L460 1938L428 1934L396 1931L365 1929L333 1928L301 1927L293 1927L293 3148L1122 3148Z" fill="#556ba0"/>
<path d="M1112 3140L1112 3119L1112 3097L1112 3076L1112 3055L1112 3033L1112 3012L1112 2990L1112 2968L1112 2946L1112 2923L1112 2900L1112 2877L1112 2854L1112 2830L1112 2805L1112 2780L1112 2755L1112 2728L1112 2701L1111 2674L1111 2646L1110 2616L1110 2586L1109 2555L1107 2524L1106 2491L1103 2458L1100 2424L1096 2389L1091 2353L1085 2318L1077 2282L1067 2247L1055 2213L1040 2180L1023 2150L1004 2121L982 2096L957 2073L930 2054L901 2039L871 2025L840 2014L809 2004L777 1997L744 1990L712 1984L680 1979L648 1974L616 1970L584 1965L553 1960L521 1956L490 1952L458 1948L427 1945L395 1943L364 1941L332 1940L301 1939L293 1939L293 3148L1112 3148Z" fill="#576c9f"/>
<path d="M1102 3140L1102 3119L1102 3098L1102 3077L1102 3056L1102 3035L1102 3013L1102 2992L1102 2970L1102 2948L1102 2926L1102 2903L1102 2880L1102 2857L1102 2833L1102 2809L1102 2784L1102 2759L1102 2733L1102 2707L1102 2679L1101 2651L1101 2623L1100 2593L1099 2562L1098 2531L1096 2499L1094 2466L1091 2432L1087 2397L1082 2362L1076 2327L1068 2291L1059 2256L1047 2222L1033 2190L1016 2159L997 2131L976 2105L952 2083L925 2063L897 2047L867 2034L836 2022L805 2012L773 2004L741 1998L709 1992L677 1987L645 1982L614 1978L582 1973L551 1969L520 1965L488 1961L457 1958L426 1956L395 1953L363 1952L332 1951L301 1950L293 1950L293 3148L1102 3148Z" fill="#5a6d9d"/>
<path d="M1093 3140L1093 3119L1093 3098L1093 3078L1093 3057L1093 3036L1093 3015L1093 2994L1093 2972L1093 2950L1093 2928L1093 2906L1093 2883L1093 2860L1093 2837L1093 2813L1093 2789L1093 2764L1093 2738L1093 2712L1092 2685L1092 2657L1091 2629L1091 2599L1090 2569L1089 2538L1087 2506L1084 2473L1082 2440L1078 2406L1073 2371L1067 2336L1060 2301L1051 2266L1039 2232L1026 2199L1010 2168L991 2140L970 2114L946 2091L920 2072L892 2055L863 2041L833 2030L802 2020L770 2012L738 2005L706 1999L675 1994L643 1990L611 1986L580 1982L549 1978L518 1974L487 1971L456 1968L425 1966L394 1964L363 1962L332 1961L301 1961L293 1961L293 3148L1093 3148Z" fill="#5c6e9c"/>
<path d="M1084 3140L1084 3119L1084 3099L1084 3078L1084 3058L1084 3037L1084 3016L1084 2995L1084 2974L1084 2953L1084 2931L1084 2909L1084 2886L1084 2864L1084 2840L1084 2817L1084 2793L1084 2768L1084 2743L1084 2717L1083 2690L1083 2663L1082 2634L1082 2605L1081 2576L1080 2545L1078 2513L1076 2481L1073 2448L1069 2414L1065 2379L1059 2344L1052 2309L1043 2275L1032 2241L1019 2208L1003 2177L985 2149L964 2123L941 2100L916 2080L888 2063L859 2049L829 2037L799 2027L767 2019L736 2012L704 2006L672 2002L641 1997L609 1993L578 1989L547 1986L516 1983L485 1980L455 1977L424 1975L393 1974L362 1972L332 1971L301 1971L293 1971L293 3148L1084 3148Z" fill="#5f6f9b"/>
<path d="M1075 3140L1075 3120L1075 3099L1075 3079L1075 3059L1075 3038L1075 3018L1075 2997L1075 2976L1075 2955L1075 2933L1075 2911L1075 2889L1075 2867L1075 2844L1075 2820L1075 2796L1075 2772L1075 2747L1075 2721L1075 2695L1074 2668L1074 2640L1073 2611L1072 2582L1071 2551L1069 2520L1067 2488L1065 2455L1061 2421L1057 2387L1051 2353L1044 2318L1036 2283L1025 2250L1012 2217L997 2186L979 2157L959 2131L936 2108L911 2088L884 2071L855 2056L826 2044L795 2034L764 2026L733 2019L702 2013L670 2008L639 2004L607 2000L576 1997L546 1994L515 1991L484 1988L453 1986L423 1984L392 1983L362 1982L331 1981L301 1981L293 1981L293 3148L1075 3148Z" fill="#616f99"/>
<path d="M1067 3140L1067 3120L1067 3100L1067 3080L1067 3060L1067 3039L1067 3019L1067 2998L1067 2978L1067 2957L1067 2935L1067 2914L1067 2892L1067 2870L1067 2847L1067 2824L1067 2800L1067 2776L1067 2751L1066 2726L1066 2700L1066 2673L1065 2646L1065 2617L1064 2588L1063 2558L1061 2527L1059 2495L1056 2462L1053 2429L1049 2395L1044 2361L1037 2326L1028 2292L1018 2258L1005 2226L991 2195L973 2166L953 2139L931 2116L906 2095L880 2078L852 2063L822 2051L792 2041L762 2032L730 2026L699 2020L668 2015L637 2011L606 2007L575 2004L544 2001L513 1999L483 1996L452 1995L422 1993L392 1992L361 1991L331 1990L301 1990L293 1990L293 3148L1067 3148Z" fill="#637098"/>
<path d="M1059 3140L1059 3120L1059 3100L1059 3080L1059 3060L1059 3040L1059 3020L1059 3000L1059 2979L1059 2959L1059 2938L1059 2916L1059 2895L1059 2873L1059 2850L1059 2827L1059 2804L1058 2780L1058 2755L1058 2730L1058 2705L1058 2678L1057 2651L1056 2623L1056 2594L1054 2564L1053 2533L1051 2502L1048 2470L1045 2436L1041 2403L1036 2369L1029 2334L1021 2300L1011 2266L999 2234L985 2203L968 2174L948 2148L926 2124L902 2103L876 2085L848 2070L819 2058L789 2047L759 2039L728 2032L697 2026L666 2022L635 2018L604 2014L573 2011L542 2008L512 2006L481 2004L451 2002L421 2001L391 2000L361 1999L331 1999L301 1999L293 1999L293 3148L1059 3148Z" fill="#667196"/>
<path d="M1051 3140L1051 3120L1051 3101L1051 3081L1051 3061L1051 3041L1051 3021L1051 3001L1051 2981L1051 2960L1051 2940L1051 2919L1051 2897L1051 2875L1051 2853L1051 2831L1051 2807L1050 2784L1050 2760L1050 2735L1050 2709L1050 2683L1049 2656L1048 2628L1048 2600L1047 2570L1045 2540L1043 2509L1041 2477L1038 2444L1034 2410L1029 2376L1022 2342L1014 2308L1005 2275L993 2242L979 2211L962 2182L943 2155L921 2132L898 2111L872 2093L845 2077L816 2065L786 2054L756 2045L726 2038L695 2033L664 2028L633 2024L602 2021L571 2018L541 2015L511 2013L480 2011L450 2010L420 2009L390 2008L360 2007L331 2007L301 2007L293 2007L293 3148L1051 3148Z" fill="#687295"/>
<path d="M1043 3140L1043 3120L1043 3101L1043 3082L1043 3062L1043 3042L1043 3023L1043 3003L1043 2983L1043 2962L1043 2942L1043 2921L1043 2900L1043 2878L1043 2856L1043 2834L1043 2811L1043 2788L1042 2764L1042 2739L1042 2714L1042 2688L1041 2661L1041 2634L1040 2605L1039 2576L1037 2546L1035 2515L1033 2483L1030 2451L1026 2418L1021 2384L1015 2350L1008 2316L998 2283L986 2250L973 2219L956 2190L938 2163L917 2139L893 2118L868 2100L841 2084L813 2071L784 2060L754 2052L723 2044L692 2039L662 2034L631 2030L600 2027L570 2024L540 2022L509 2020L479 2018L449 2017L419 2016L390 2015L360 2014L330 2014L301 2014L293 2014L293 3148L1043 3148Z" fill="#6b7393"/>
<path d="M1035 3140L1035 3121L1035 3101L1035 3082L1035 3063L1035 3043L1035 3024L1035 3004L1035 2984L1035 2964L1035 2944L1035 2923L1035 2902L1035 2881L1035 2859L1035 2837L1035 2814L1035 2791L1035 2768L1034 2743L1034 2718L1034 2693L1033 2666L1033 2639L1032 2611L1031 2582L1030 2552L1028 2522L1026 2490L1023 2458L1019 2425L1014 2391L1008 2358L1001 2324L992 2291L980 2258L967 2227L951 2198L933 2171L912 2147L889 2125L864 2107L838 2091L810 2078L781 2067L751 2058L721 2051L690 2045L660 2040L629 2036L599 2033L568 2030L538 2028L508 2026L478 2025L448 2023L419 2022L389 2022L360 2021L330 2021L301 2021L293 2021L293 3148L1035 3148Z" fill="#6d7492"/>
<path d="M1027 3140L1027 3121L1027 3102L1027 3083L1027 3064L1027 3044L1027 3025L1027 3006L1027 2986L1027 2966L1027 2946L1027 2925L1027 2905L1027 2884L1027 2862L1027 2840L1027 2818L1027 2795L1027 2771L1027 2747L1026 2723L1026 2697L1026 2671L1025 2644L1024 2616L1023 2588L1022 2558L1020 2528L1018 2497L1015 2465L1012 2432L1007 2399L1001 2365L994 2332L985 2299L974 2266L961 2235L946 2206L928 2179L907 2154L885 2133L860 2114L834 2098L806 2084L778 2073L748 2064L718 2057L688 2051L658 2046L628 2042L597 2039L567 2036L537 2034L507 2032L477 2031L448 2029L418 2029L389 2028L359 2027L330 2027L301 2027L293 2027L293 3148L1027 3148Z" fill="#707590"/>
<path d="M1020 3140L1020 3121L1020 3102L1020 3083L1020 3064L1020 3045L1020 3026L1020 3007L1020 2988L1020 2968L1020 2948L1020 2928L1020 2907L1020 2886L1020 2865L1020 2843L1020 2821L1019 2799L1019 2775L1019 2751L1019 2727L1019 2702L1018 2676L1018 2649L1017 2622L1016 2594L1015 2564L1013 2534L1011 2503L1008 2472L1005 2439L1000 2406L994 2373L987 2340L979 2307L968 2274L955 2243L940 2214L923 2187L903 2162L881 2140L856 2121L831 2105L803 2091L775 2080L746 2070L716 2063L686 2056L656 2051L626 2047L596 2044L566 2041L536 2039L506 2038L476 2036L447 2035L418 2034L388 2033L359 2033L330 2033L301 2033L293 2033L293 3148L1020 3148Z" fill="#72768f"/>
<path d="M1012 3140L1012 3121L1012 3103L1012 3084L1012 3065L1012 3046L1012 3028L1012 3008L1012 2989L1012 2970L1012 2950L1012 2930L1012 2910L1012 2889L1012 2868L1012 2846L1012 2824L1012 2802L1012 2779L1012 2755L1011 2731L1011 2706L1011 2681L1010 2654L1009 2627L1008 2599L1007 2570L1006 2540L1004 2510L1001 2478L998 2446L993 2413L988 2380L981 2347L972 2314L962 2282L949 2251L935 2222L918 2194L898 2170L876 2147L853 2128L827 2111L800 2097L772 2086L743 2076L714 2068L684 2062L654 2057L624 2053L594 2049L564 2047L535 2045L505 2043L476 2041L446 2040L417 2039L388 2039L359 2038L330 2038L301 2038L293 2038L293 3148L1012 3148Z" fill="#74778d"/>
<path d="M1005 3140L1005 3121L1005 3103L1005 3085L1005 3066L1005 3047L1005 3029L1005 3010L1005 2991L1005 2971L1005 2952L1005 2932L1005 2912L1005 2891L1005 2871L1005 2849L1005 2828L1005 2805L1005 2783L1004 2759L1004 2735L1004 2711L1004 2685L1003 2659L1002 2632L1001 2605L1000 2576L999 2546L997 2516L994 2485L991 2453L986 2420L981 2388L974 2355L966 2322L956 2290L944 2259L929 2229L913 2202L894 2177L872 2154L849 2135L824 2118L797 2104L770 2092L741 2082L712 2074L682 2067L653 2062L623 2058L593 2054L563 2052L534 2050L504 2048L475 2046L446 2045L416 2044L387 2044L359 2043L330 2043L301 2043L293 2043L293 3148L1005 3148Z" fill="#77788c"/>
<path d="M998 3140L998 3122L998 3103L998 3085L998 3067L998 3048L998 3030L998 3011L998 2992L998 2973L998 2954L998 2934L998 2914L998 2894L998 2873L998 2852L998 2831L998 2809L998 2786L997 2763L997 2739L997 2715L997 2690L996 2664L995 2637L994 2610L993 2582L992 2552L990 2522L987 2491L984 2460L980 2427L975 2395L968 2362L960 2329L950 2297L938 2266L924 2237L908 2209L889 2184L868 2161L845 2141L821 2124L794 2110L767 2098L739 2088L710 2079L680 2073L651 2067L621 2063L592 2059L562 2056L533 2054L503 2052L474 2051L445 2050L416 2049L387 2048L358 2048L330 2048L301 2047L293 2047L293 3148L998 3148Z" fill="#79788b"/>
<path d="M991 3140L991 3122L991 3104L991 3086L991 3067L991 3049L991 3031L991 3012L991 2994L991 2975L991 2956L991 2936L991 2916L991 2896L991 2876L991 2855L991 2834L991 2812L991 2790L991 2767L990 2743L990 2719L990 2694L989 2669L989 2642L988 2615L987 2587L985 2558L983 2528L981 2497L978 2466L974 2434L969 2401L962 2369L954 2336L945 2304L933 2273L919 2244L903 2216L885 2191L864 2168L842 2148L817 2131L791 2116L764 2103L736 2093L708 2085L679 2078L649 2072L620 2068L590 2064L561 2061L532 2059L502 2057L473 2055L444 2054L416 2053L387 2053L358 2052L329 2052L301 2052L293 2052L293 3148L991 3148Z" fill="#7c7989"/>
<path d="M985 3140L985 3122L985 3104L985 3086L985 3068L984 3050L984 3032L984 3014L984 2995L984 2976L984 2957L984 2938L984 2919L984 2899L984 2878L984 2858L984 2837L984 2815L984 2793L984 2770L984 2747L983 2723L983 2699L983 2673L982 2647L981 2620L980 2592L979 2564L977 2534L974 2503L971 2472L967 2440L962 2408L956 2376L949 2343L939 2311L928 2280L914 2251L899 2223L881 2198L861 2175L838 2154L814 2137L789 2122L762 2109L734 2098L706 2090L677 2083L648 2077L618 2072L589 2068L560 2065L531 2063L502 2061L473 2060L444 2058L415 2058L386 2057L358 2056L329 2056L301 2056L293 2056L293 3148L985 3148Z" fill="#7e7a88"/>
<path d="M978 3140L978 3122L978 3104L978 3087L978 3069L978 3051L978 3033L978 3015L978 2996L978 2978L978 2959L978 2940L978 2921L978 2901L978 2881L978 2861L978 2840L978 2818L978 2796L977 2774L977 2751L977 2727L977 2703L976 2678L975 2652L975 2625L974 2597L972 2569L970 2540L968 2509L965 2478L961 2447L957 2415L951 2382L943 2350L934 2318L923 2287L910 2258L894 2230L877 2204L857 2181L835 2161L811 2143L786 2127L759 2114L732 2104L704 2095L675 2087L646 2081L617 2077L588 2073L559 2070L530 2067L501 2065L472 2064L443 2062L415 2061L386 2061L358 2060L329 2060L301 2060L293 2060L293 3148L978 3148Z" fill="#817b86"/>
<path d="M972 3140L972 3122L972 3105L972 3087L972 3070L972 3052L972 3034L972 3016L972 2998L972 2979L972 2961L972 2942L971 2923L971 2903L971 2883L971 2863L971 2843L971 2821L971 2800L971 2777L971 2755L971 2731L970 2707L970 2682L969 2656L968 2630L967 2603L966 2574L964 2545L962 2515L959 2485L955 2453L951 2421L945 2389L938 2357L929 2325L918 2294L905 2265L890 2237L873 2211L853 2188L832 2167L808 2149L783 2133L757 2120L730 2109L702 2100L674 2092L645 2086L616 2081L587 2077L558 2074L529 2071L500 2069L471 2068L443 2066L414 2065L386 2065L357 2064L329 2064L301 2064L293 2064L293 3148L972 3148Z" fill="#837c85"/>
<path d="M965 3140L965 3122L965 3105L965 3088L965 3070L965 3053L965 3035L965 3017L965 2999L965 2981L965 2962L965 2944L965 2925L965 2906L965 2886L965 2866L965 2845L965 2824L965 2803L965 2781L965 2758L964 2735L964 2711L963 2686L963 2661L962 2635L961 2608L960 2580L958 2551L956 2521L953 2490L949 2459L945 2428L939 2396L932 2364L923 2332L913 2301L900 2271L886 2243L869 2218L849 2194L828 2173L805 2154L781 2138L755 2125L728 2114L700 2104L672 2097L643 2090L615 2085L586 2081L557 2078L528 2075L499 2073L471 2071L442 2070L414 2069L386 2068L357 2068L329 2067L301 2067L293 2067L293 3148L965 3148Z" fill="#857d83"/>
<path d="M959 3140L959 3123L959 3105L959 3088L959 3071L959 3053L959 3036L959 3018L959 3000L959 2982L959 2964L959 2946L959 2927L959 2908L959 2888L959 2868L959 2848L959 2827L959 2806L959 2784L958 2762L958 2739L958 2715L957 2691L957 2665L956 2639L955 2612L954 2585L952 2556L950 2527L947 2496L944 2465L939 2434L934 2402L927 2370L918 2339L908 2308L896 2278L881 2250L865 2224L846 2200L825 2179L802 2160L778 2144L752 2130L726 2119L698 2109L670 2101L642 2095L613 2089L585 2085L556 2082L527 2079L499 2077L470 2075L442 2074L413 2073L385 2072L357 2071L329 2071L301 2071L293 2071L293 3148L959 3148Z" fill="#887e82"/>
<path d="M953 3140L953 3123L953 3106L953 3089L953 3071L953 3054L953 3037L953 3019L953 3002L953 2984L953 2966L953 2947L953 2929L953 2910L953 2891L953 2871L953 2851L953 2830L953 2809L952 2787L952 2765L952 2742L952 2719L951 2695L951 2670L950 2644L949 2617L948 2590L946 2561L944 2532L941 2502L938 2471L934 2440L928 2408L922 2377L913 2345L903 2314L891 2285L877 2257L861 2230L842 2206L822 2185L799 2166L775 2149L750 2135L724 2124L696 2114L669 2106L641 2099L612 2094L584 2089L555 2086L527 2083L498 2080L470 2079L441 2077L413 2076L385 2075L357 2075L329 2074L301 2074L293 2074L293 3148L953 3148Z" fill="#8a7f80"/>
<path d="M947 3140L947 3123L947 3106L947 3089L947 3072L947 3055L947 3038L947 3020L947 3003L947 2985L947 2967L947 2949L947 2931L947 2912L947 2893L947 2873L947 2853L947 2833L947 2812L947 2791L946 2769L946 2746L946 2723L945 2699L945 2674L944 2648L943 2622L942 2595L940 2567L938 2538L936 2508L932 2477L928 2446L923 2415L916 2383L908 2352L898 2321L887 2291L873 2263L857 2237L839 2213L818 2191L796 2172L773 2155L748 2141L722 2129L695 2118L667 2110L639 2103L611 2098L583 2093L554 2089L526 2086L497 2084L469 2082L441 2081L413 2079L385 2079L357 2078L329 2078L301 2078L293 2078L293 3148L947 3148Z" fill="#8d807f"/>
<path d="M941 3140L941 3123L941 3106L941 3090L941 3073L941 3056L941 3039L941 3022L941 3004L941 2987L941 2969L941 2951L941 2933L941 2914L941 2895L941 2876L941 2856L941 2836L941 2815L941 2794L940 2772L940 2750L940 2727L939 2703L939 2678L938 2653L937 2627L936 2600L935 2572L933 2543L930 2513L927 2483L923 2452L918 2421L911 2390L903 2358L894 2328L882 2298L868 2270L853 2243L835 2219L815 2197L793 2177L770 2160L745 2146L720 2133L693 2123L665 2115L638 2108L610 2102L581 2097L553 2093L525 2090L497 2088L469 2086L440 2084L412 2083L384 2082L357 2081L329 2081L301 2081L293 2081L293 3148L941 3148Z" fill="#8f817d"/>
<path d="M935 3140L935 3123L935 3107L935 3090L935 3073L935 3057L935 3040L935 3023L935 3005L935 2988L935 2970L935 2953L935 2935L935 2916L935 2897L935 2878L935 2859L935 2839L935 2818L935 2797L935 2775L934 2753L934 2730L934 2707L933 2682L932 2657L931 2631L930 2605L929 2577L927 2548L924 2519L921 2489L917 2458L912 2427L906 2396L898 2365L889 2334L878 2304L864 2276L849 2249L831 2225L812 2203L790 2183L767 2166L743 2151L717 2138L691 2128L664 2119L636 2112L608 2106L580 2101L552 2097L524 2094L496 2091L468 2089L440 2088L412 2086L384 2085L356 2085L329 2084L301 2084L293 2084L293 3148L935 3148Z" fill="#92827c"/>
<path d="M929 3140L929 3123L929 3107L929 3090L929 3074L929 3057L929 3041L929 3024L929 3007L929 2989L929 2972L929 2954L929 2936L929 2918L929 2900L929 2881L929 2861L929 2841L929 2821L929 2800L929 2779L929 2757L928 2734L928 2711L927 2687L927 2662L926 2636L925 2609L923 2582L921 2554L919 2525L916 2495L912 2464L907 2433L901 2402L893 2371L884 2341L873 2311L860 2282L845 2256L828 2231L809 2209L788 2189L765 2171L741 2156L715 2143L689 2133L662 2124L635 2116L607 2110L579 2105L551 2101L523 2098L495 2095L467 2093L439 2091L412 2090L384 2089L356 2088L328 2088L301 2088L293 2088L293 3148L929 3148Z" fill="#94827b"/>
<path d="M924 3140L924 3123L924 3107L924 3091L924 3075L924 3058L924 3041L924 3025L924 3008L924 2991L924 2974L924 2956L924 2938L924 2920L924 2902L924 2883L924 2864L923 2844L923 2824L923 2803L923 2782L923 2760L923 2738L922 2715L922 2691L921 2666L920 2641L919 2614L917 2587L916 2559L913 2530L910 2500L906 2470L902 2439L896 2409L888 2378L879 2347L869 2317L856 2289L841 2262L824 2237L805 2215L785 2195L762 2177L738 2161L713 2148L687 2137L661 2128L633 2120L606 2114L578 2109L550 2105L522 2101L495 2099L467 2097L439 2095L411 2093L384 2092L356 2092L328 2091L301 2091L293 2091L293 3148L924 3148Z" fill="#968379"/>
<path d="M918 3140L918 3124L918 3108L918 3091L918 3075L918 3059L918 3042L918 3026L918 3009L918 2992L918 2975L918 2958L918 2940L918 2922L918 2904L918 2885L918 2866L918 2847L918 2827L917 2806L917 2785L917 2764L917 2742L916 2719L916 2695L915 2670L914 2645L913 2619L912 2592L910 2564L908 2536L905 2506L901 2476L896 2446L890 2415L883 2384L875 2354L864 2324L852 2295L837 2269L821 2244L802 2221L782 2200L760 2182L736 2167L711 2153L685 2142L659 2133L632 2125L605 2118L577 2113L549 2109L522 2105L494 2103L466 2100L439 2098L411 2097L383 2096L356 2095L328 2095L301 2095L293 2095L293 3148L918 3148Z" fill="#998478"/>
<path d="M912 3140L912 3124L912 3108L912 3092L912 3076L912 3060L912 3043L912 3027L912 3010L912 2994L912 2977L912 2959L912 2942L912 2924L912 2906L912 2888L912 2869L912 2849L912 2830L912 2809L912 2789L911 2767L911 2745L911 2722L910 2699L910 2675L909 2650L908 2624L906 2597L904 2569L902 2541L899 2512L896 2482L891 2452L885 2421L878 2390L870 2360L860 2331L847 2302L833 2275L817 2250L799 2227L779 2206L757 2188L734 2172L709 2158L684 2147L657 2137L631 2129L603 2123L576 2117L548 2113L521 2109L493 2106L466 2104L438 2102L411 2101L383 2100L356 2099L328 2098L301 2098L293 2098L293 3148L912 3148Z" fill="#9b8576"/>
<path d="M907 3140L907 3124L907 3108L907 3092L907 3076L907 3060L907 3044L907 3028L907 3011L907 2995L907 2978L907 2961L907 2944L907 2926L907 2908L907 2890L907 2871L907 2852L906 2833L906 2812L906 2792L906 2771L906 2749L905 2726L905 2703L904 2679L903 2654L902 2628L901 2602L899 2575L897 2546L894 2518L890 2488L886 2458L880 2427L873 2397L865 2367L855 2337L843 2308L829 2281L813 2256L796 2233L776 2212L754 2193L731 2177L707 2163L682 2152L656 2142L629 2134L602 2127L575 2121L548 2117L520 2113L493 2110L465 2108L438 2106L410 2104L383 2103L355 2102L328 2102L301 2102L293 2102L293 3148L907 3148Z" fill="#9e8675"/>
<path d="M901 3140L901 3124L901 3108L901 3093L901 3077L901 3061L901 3045L901 3029L901 3013L901 2996L901 2980L901 2963L901 2945L901 2928L901 2910L901 2892L901 2874L901 2855L901 2835L901 2815L901 2795L900 2774L900 2752L900 2730L899 2707L899 2683L898 2659L897 2633L895 2607L894 2580L891 2552L889 2523L885 2494L881 2464L875 2434L869 2403L860 2373L851 2343L839 2315L825 2288L810 2262L792 2239L773 2218L752 2199L729 2182L705 2168L680 2156L654 2146L628 2138L601 2131L574 2125L547 2121L519 2117L492 2114L464 2111L437 2109L410 2108L382 2107L355 2106L328 2105L301 2105L293 2105L293 3148L901 3148Z" fill="#a08773"/>
<path d="M896 3140L896 3124L896 3109L896 3093L896 3077L896 3062L896 3046L896 3030L896 3014L896 2997L896 2981L896 2964L896 2947L896 2930L896 2912L896 2894L896 2876L896 2857L896 2838L895 2818L895 2798L895 2777L895 2756L894 2734L894 2711L893 2687L892 2663L891 2638L890 2612L888 2585L886 2557L883 2529L880 2499L876 2470L870 2440L864 2409L856 2379L846 2350L835 2321L822 2294L806 2268L789 2245L770 2223L749 2204L727 2188L703 2173L678 2161L653 2151L626 2142L600 2135L573 2129L546 2124L518 2121L491 2117L464 2115L437 2113L409 2111L382 2110L355 2109L328 2109L301 2109L293 2109L293 3148L896 3148Z" fill="#a38872"/>
<path d="M891 3140L891 3124L891 3109L891 3093L891 3078L891 3062L891 3047L891 3031L891 3015L891 2999L891 2982L891 2966L891 2949L891 2932L891 2914L891 2897L891 2878L890 2860L890 2841L890 2821L890 2801L890 2780L889 2759L889 2737L889 2715L888 2691L887 2667L886 2642L885 2616L883 2590L881 2562L878 2534L875 2505L871 2476L865 2446L859 2416L851 2386L842 2356L831 2327L818 2300L803 2274L786 2250L767 2229L746 2210L724 2193L701 2178L676 2166L651 2155L625 2146L599 2139L572 2133L545 2128L518 2124L490 2121L463 2118L436 2116L409 2115L382 2113L355 2113L328 2112L301 2112L293 2112L293 3148L891 3148Z" fill="#a58970"/>
<path d="M885 3140L885 3124L885 3109L885 3094L885 3079L885 3063L885 3048L885 3032L885 3016L885 3000L885 2984L885 2967L885 2951L885 2934L885 2916L885 2899L885 2881L885 2862L885 2843L885 2824L885 2804L885 2784L884 2763L884 2741L883 2718L883 2695L882 2671L881 2647L879 2621L878 2595L876 2567L873 2539L870 2511L866 2481L861 2452L854 2422L847 2392L837 2362L827 2334L814 2306L799 2280L783 2256L764 2234L744 2215L722 2198L699 2183L675 2170L649 2160L624 2151L597 2143L571 2137L544 2132L517 2128L490 2125L463 2122L436 2120L409 2118L382 2117L355 2116L328 2115L301 2115L293 2115L293 3148L885 3148Z" fill="#a78a6f"/>
<path d="M880 3140L880 3125L880 3109L880 3094L880 3079L880 3064L880 3048L880 3033L880 3017L880 3001L880 2985L880 2969L880 2952L880 2935L880 2918L880 2901L880 2883L880 2865L880 2846L880 2827L880 2807L879 2787L879 2766L879 2744L878 2722L877 2699L877 2676L876 2651L874 2626L873 2600L871 2573L868 2545L865 2516L861 2487L856 2458L850 2428L842 2398L833 2369L823 2340L810 2312L796 2286L779 2262L761 2240L741 2220L720 2203L697 2188L673 2175L648 2164L622 2155L596 2147L570 2141L543 2136L516 2132L489 2128L462 2125L435 2123L408 2121L381 2120L355 2119L328 2119L301 2118L293 2118L293 3148L880 3148Z" fill="#aa8b6e"/>
<path d="M875 3140L875 3125L875 3110L875 3095L875 3080L875 3064L875 3049L875 3034L875 3018L875 3002L875 2986L875 2970L875 2954L875 2937L875 2920L875 2903L875 2885L875 2867L875 2849L875 2830L874 2810L874 2790L874 2769L873 2748L873 2726L872 2703L871 2680L870 2655L869 2630L868 2604L865 2578L863 2550L860 2522L856 2493L851 2464L845 2434L838 2404L829 2375L818 2346L806 2319L792 2292L776 2268L758 2246L739 2226L718 2208L695 2193L671 2179L646 2168L621 2159L595 2151L569 2145L542 2140L515 2135L488 2132L462 2129L435 2127L408 2125L381 2123L354 2122L328 2122L301 2122L293 2122L293 3148L875 3148Z" fill="#ac8b6c"/>
<path d="M870 3140L870 3125L870 3110L870 3095L870 3080L870 3065L870 3050L870 3035L870 3019L870 3004L870 2988L870 2972L870 2956L870 2939L870 2922L870 2905L870 2887L870 2870L870 2851L870 2832L869 2813L869 2793L869 2773L868 2751L868 2730L867 2707L866 2684L865 2660L864 2635L862 2609L860 2583L858 2555L855 2527L851 2499L846 2469L840 2440L833 2410L825 2381L814 2352L803 2325L789 2298L773 2274L756 2251L736 2231L715 2213L693 2197L669 2184L645 2173L620 2163L594 2155L568 2149L541 2143L515 2139L488 2135L461 2132L434 2130L408 2128L381 2127L354 2126L327 2125L301 2125L293 2125L293 3148L870 3148Z" fill="#af8c6b"/>
<path d="M865 3140L865 3125L865 3110L865 3095L865 3081L865 3066L865 3051L865 3036L865 3020L865 3005L865 2989L865 2973L865 2957L865 2941L865 2924L865 2907L865 2890L865 2872L865 2854L865 2835L864 2816L864 2796L864 2776L863 2755L863 2733L862 2711L861 2688L860 2664L859 2639L857 2614L855 2588L853 2561L850 2533L846 2504L841 2475L836 2446L829 2416L820 2387L810 2359L799 2331L785 2304L770 2280L753 2257L734 2236L713 2218L691 2202L668 2189L643 2177L618 2167L593 2159L567 2153L540 2147L514 2143L487 2139L461 2136L434 2133L407 2131L381 2130L354 2129L327 2128L301 2128L293 2128L293 3148L865 3148Z" fill="#b18d69"/>
<path d="M860 3140L860 3125L860 3111L860 3096L860 3081L860 3066L860 3051L860 3036L860 3021L860 3006L860 2990L860 2975L860 2959L860 2943L860 2926L860 2909L860 2892L860 2874L860 2856L860 2838L859 2819L859 2799L859 2779L858 2758L858 2737L857 2715L856 2692L855 2668L854 2644L852 2619L850 2593L848 2566L845 2538L841 2510L837 2481L831 2452L824 2422L816 2393L806 2365L795 2337L782 2310L767 2285L750 2262L731 2242L711 2223L689 2207L666 2193L642 2181L617 2171L591 2163L565 2156L539 2151L513 2146L487 2142L460 2139L433 2137L407 2135L380 2133L354 2132L327 2132L301 2131L293 2131L293 3148L860 3148Z" fill="#b48e68"/>
<path d="M855 3140L855 3125L855 3111L855 3096L855 3082L855 3067L855 3052L855 3037L855 3022L855 3007L855 2992L855 2976L855 2960L855 2944L855 2928L855 2911L855 2894L855 2877L855 2859L855 2840L854 2822L854 2802L854 2782L853 2762L853 2740L852 2719L851 2696L850 2672L849 2648L848 2623L846 2597L843 2571L840 2543L837 2515L832 2487L827 2458L820 2428L812 2399L802 2371L791 2343L778 2316L764 2291L747 2268L729 2247L708 2228L687 2212L664 2198L640 2186L615 2176L590 2167L564 2160L538 2154L512 2150L486 2146L459 2143L433 2140L407 2138L380 2137L354 2135L327 2135L301 2135L293 2135L293 3148L855 3148Z" fill="#b68f66"/>
<path d="M850 3140L850 3125L850 3111L850 3097L850 3082L850 3068L850 3053L850 3038L850 3023L850 3008L850 2993L850 2978L850 2962L850 2946L850 2930L850 2913L850 2896L850 2879L850 2861L850 2843L850 2824L849 2805L849 2785L849 2765L848 2744L847 2722L846 2700L845 2677L844 2653L843 2628L841 2602L838 2576L835 2549L832 2521L827 2492L822 2464L816 2434L808 2405L799 2377L788 2349L775 2322L760 2297L744 2274L726 2252L706 2233L685 2217L662 2202L639 2190L614 2180L589 2171L563 2164L538 2158L511 2153L485 2149L459 2146L433 2143L406 2141L380 2140L354 2139L327 2138L301 2138L293 2138L293 3148L850 3148Z" fill="#b99065"/>
<path d="M846 3140L846 3126L846 3111L846 3097L846 3083L846 3068L846 3054L846 3039L846 3024L846 3010L846 2994L846 2979L845 2964L845 2948L845 2932L845 2915L845 2898L845 2881L845 2864L845 2846L845 2827L844 2808L844 2789L844 2768L843 2748L842 2726L842 2704L841 2681L839 2657L838 2632L836 2607L834 2581L831 2554L827 2526L823 2498L818 2469L811 2440L804 2411L795 2383L784 2355L772 2328L757 2303L741 2279L723 2258L704 2239L683 2222L660 2207L637 2195L613 2184L588 2175L562 2168L537 2162L511 2157L485 2153L458 2150L432 2147L406 2145L380 2143L353 2142L327 2141L301 2141L293 2141L293 3148L846 3148Z" fill="#bb9163"/>
<path d="M841 3140L841 3126L841 3112L841 3097L841 3083L841 3069L841 3055L841 3040L841 3025L841 3011L841 2996L841 2981L841 2965L841 2949L841 2933L840 2917L840 2901L840 2884L840 2866L840 2848L840 2830L839 2811L839 2792L839 2772L838 2751L838 2730L837 2708L836 2685L834 2661L833 2637L831 2612L829 2586L826 2559L822 2532L818 2504L813 2475L807 2446L799 2418L791 2389L780 2361L768 2334L754 2309L738 2285L721 2263L702 2244L681 2227L659 2212L635 2199L611 2188L587 2179L561 2172L536 2166L510 2161L484 2156L458 2153L432 2150L406 2148L379 2146L353 2145L327 2145L301 2144L293 2144L293 3148L841 3148Z" fill="#bd9262"/>
<path d="M836 3140L836 3126L836 3112L836 3098L836 3084L836 3070L836 3055L836 3041L836 3026L836 3012L836 2997L836 2982L836 2967L836 2951L836 2935L836 2919L836 2903L835 2886L835 2869L835 2851L835 2833L835 2814L834 2795L834 2775L833 2755L833 2733L832 2712L831 2689L830 2666L828 2642L826 2617L824 2591L821 2564L818 2537L814 2509L809 2481L803 2452L795 2423L787 2395L776 2367L765 2340L751 2314L735 2290L718 2269L699 2249L679 2232L657 2216L634 2204L610 2193L585 2183L560 2176L535 2169L509 2164L483 2160L457 2156L431 2154L405 2151L379 2150L353 2149L327 2148L301 2148L293 2148L293 3148L836 3148Z" fill="#c09360"/>
<path d="M831 3140L831 3126L831 3112L831 3098L831 3084L831 3070L831 3056L831 3042L831 3028L831 3013L831 2998L831 2983L831 2968L831 2953L831 2937L831 2921L831 2905L831 2888L830 2871L830 2854L830 2836L830 2817L829 2798L829 2778L829 2758L828 2737L827 2716L826 2693L825 2670L823 2646L821 2621L819 2596L817 2570L813 2543L809 2515L804 2487L798 2458L791 2429L783 2401L773 2373L761 2346L748 2320L733 2296L716 2274L697 2254L677 2236L655 2221L632 2208L609 2197L584 2188L559 2180L534 2173L508 2168L483 2164L457 2160L431 2157L405 2155L379 2153L353 2152L327 2151L301 2151L293 2151L293 3148L831 3148Z" fill="#c2945f"/>
<path d="M826 3140L826 3126L826 3112L826 3099L826 3085L826 3071L826 3057L826 3043L826 3029L826 3014L826 3000L826 2985L826 2970L826 2955L826 2939L826 2923L826 2907L826 2890L826 2873L826 2856L825 2838L825 2820L825 2801L824 2782L824 2762L823 2741L822 2719L821 2697L820 2674L819 2651L817 2626L815 2601L812 2575L809 2548L805 2520L800 2492L794 2464L787 2435L779 2407L769 2379L758 2352L745 2326L730 2302L713 2280L695 2259L675 2241L653 2226L631 2212L607 2201L583 2192L558 2184L533 2177L508 2172L482 2167L456 2163L430 2160L404 2158L379 2156L353 2155L327 2154L301 2154L293 2154L293 3148L826 3148Z" fill="#c5945e"/>
<path d="M822 3140L822 3126L822 3113L822 3099L822 3085L822 3071L822 3058L822 3044L822 3030L822 3015L822 3001L822 2986L822 2971L821 2956L821 2941L821 2925L821 2909L821 2893L821 2876L821 2859L821 2841L820 2823L820 2804L820 2785L819 2765L818 2744L818 2723L817 2701L815 2679L814 2655L812 2631L810 2606L807 2580L804 2553L800 2526L795 2498L790 2470L783 2441L775 2413L765 2385L754 2358L741 2332L727 2308L710 2285L692 2265L673 2246L651 2231L629 2217L606 2205L582 2196L557 2187L532 2181L507 2175L481 2171L456 2167L430 2164L404 2161L378 2160L352 2158L327 2158L301 2157L293 2157L293 3148L822 3148Z" fill="#c7955c"/>
<path d="M817 3140L817 3126L817 3113L817 3099L817 3086L817 3072L817 3058L817 3044L817 3030L817 3016L817 3002L817 2988L817 2973L817 2958L817 2943L817 2927L817 2911L816 2895L816 2878L816 2861L816 2844L816 2826L815 2807L815 2788L814 2768L814 2748L813 2727L812 2705L811 2683L809 2659L807 2635L805 2610L803 2585L800 2558L796 2531L791 2504L786 2476L779 2447L771 2419L762 2391L751 2364L738 2338L724 2313L708 2290L690 2270L670 2251L650 2235L627 2221L604 2210L581 2200L556 2191L531 2184L506 2179L481 2174L455 2170L429 2167L404 2165L378 2163L352 2162L327 2161L301 2161L293 2161L293 3148L817 3148Z" fill="#ca965b"/>
<path d="M812 3140L812 3126L812 3113L812 3100L812 3086L812 3073L812 3059L812 3045L812 3031L812 3017L812 3003L812 2989L812 2974L812 2959L812 2944L812 2929L812 2913L812 2897L812 2881L811 2864L811 2846L811 2829L811 2810L810 2791L810 2772L809 2752L808 2731L807 2709L806 2687L805 2664L803 2640L801 2615L798 2590L795 2564L791 2537L787 2509L781 2481L775 2453L767 2425L758 2397L747 2370L735 2344L721 2319L705 2296L688 2275L668 2256L648 2240L626 2226L603 2214L579 2204L555 2195L530 2188L505 2182L480 2178L454 2174L429 2171L403 2168L378 2166L352 2165L326 2164L301 2164L293 2164L293 3148L812 3148Z" fill="#cc9759"/>
<path d="M808 3140L808 3126L808 3113L808 3100L808 3087L808 3073L808 3060L808 3046L808 3032L808 3019L808 3005L808 2990L808 2976L808 2961L808 2946L807 2931L807 2915L807 2899L807 2883L807 2866L807 2849L806 2831L806 2813L806 2794L805 2775L804 2755L804 2734L803 2713L801 2691L800 2668L798 2644L796 2620L794 2595L791 2569L787 2542L783 2515L777 2487L771 2459L763 2431L754 2403L744 2376L732 2350L718 2325L702 2302L685 2280L666 2261L646 2245L624 2230L602 2218L578 2208L554 2199L529 2192L504 2186L479 2181L454 2177L429 2174L403 2171L378 2170L352 2168L326 2167L301 2167L293 2167L293 3148L808 3148Z" fill="#ce9858"/>
<path d="M803 3140L803 3127L803 3113L803 3100L803 3087L803 3074L803 3061L803 3047L803 3033L803 3020L803 3006L803 2992L803 2977L803 2963L803 2948L803 2933L803 2917L803 2901L802 2885L802 2869L802 2852L802 2834L801 2816L801 2798L800 2778L800 2759L799 2738L798 2717L797 2695L795 2672L794 2649L792 2625L789 2600L786 2574L783 2547L778 2520L773 2493L767 2465L759 2437L751 2409L740 2382L729 2355L715 2330L700 2307L683 2286L664 2267L644 2250L623 2235L600 2222L577 2212L553 2203L528 2196L504 2190L479 2185L453 2181L428 2177L403 2175L377 2173L352 2172L326 2171L301 2170L293 2170L293 3148L803 3148Z" fill="#d19956"/>
<path d="M799 3140L799 3127L799 3114L799 3101L799 3088L799 3074L799 3061L799 3048L799 3034L799 3021L799 3007L799 2993L799 2979L798 2964L798 2950L798 2935L798 2919L798 2904L798 2888L798 2871L798 2854L797 2837L797 2819L796 2801L796 2782L795 2762L794 2742L794 2721L792 2699L791 2677L789 2653L787 2629L785 2605L782 2579L778 2553L774 2526L769 2498L763 2470L756 2443L747 2415L737 2388L725 2361L712 2336L697 2313L680 2291L662 2272L642 2254L621 2239L599 2227L576 2216L552 2207L528 2199L503 2193L478 2188L453 2184L428 2181L402 2178L377 2176L352 2175L326 2174L301 2174L293 2174L293 3148L799 3148Z" fill="#d39a55"/>
<path d="M794 3140L794 3127L794 3114L794 3101L794 3088L794 3075L794 3062L794 3049L794 3035L794 3022L794 3008L794 2994L794 2980L794 2966L794 2951L794 2936L794 2921L794 2906L793 2890L793 2874L793 2857L793 2840L792 2822L792 2804L791 2785L791 2765L790 2745L789 2725L788 2703L786 2681L785 2658L783 2634L780 2609L778 2584L774 2558L770 2531L765 2504L759 2476L752 2448L743 2421L734 2393L722 2367L709 2342L694 2318L678 2296L660 2277L640 2259L619 2244L597 2231L575 2220L551 2211L527 2203L502 2197L477 2192L452 2187L427 2184L402 2181L377 2179L351 2178L326 2177L301 2177L293 2177L293 3148L794 3148Z" fill="#d69b53"/>
<path d="M790 3140L790 3127L790 3114L790 3101L790 3089L790 3076L790 3063L790 3050L790 3036L790 3023L790 3009L790 2996L789 2982L789 2967L789 2953L789 2938L789 2923L789 2908L789 2892L789 2876L788 2859L788 2842L788 2825L787 2807L787 2788L786 2769L785 2749L785 2728L783 2707L782 2685L780 2662L778 2639L776 2614L773 2589L770 2563L766 2537L761 2509L755 2482L748 2454L740 2427L730 2399L719 2373L706 2347L692 2324L676 2302L658 2282L639 2264L618 2249L596 2235L573 2224L550 2215L526 2207L501 2200L477 2195L452 2191L427 2187L402 2185L376 2183L351 2181L326 2180L301 2180L293 2180L293 3148L790 3148Z" fill="#d89c52"/>
<path d="M785 3140L785 3127L785 3114L785 3102L785 3089L785 3076L785 3063L785 3050L785 3037L785 3024L785 3011L785 2997L785 2983L785 2969L785 2955L785 2940L785 2925L785 2910L784 2894L784 2878L784 2862L784 2845L783 2828L783 2810L782 2791L782 2772L781 2753L780 2732L779 2711L778 2689L776 2667L774 2643L772 2619L769 2594L766 2568L762 2542L757 2515L751 2488L744 2460L736 2432L727 2405L716 2379L703 2353L689 2329L673 2307L656 2287L637 2269L616 2253L595 2240L572 2228L549 2219L525 2211L501 2204L476 2199L451 2194L426 2191L401 2188L376 2186L351 2185L326 2184L301 2183L293 2183L293 3148L785 3148Z" fill="#db9d50"/>
<path d="M781 3140L781 3127L781 3115L781 3102L781 3089L781 3077L781 3064L781 3051L781 3038L781 3025L781 3012L781 2998L781 2985L780 2971L780 2956L780 2942L780 2927L780 2912L780 2897L780 2881L779 2865L779 2848L779 2831L778 2813L778 2795L777 2776L777 2756L776 2736L775 2715L773 2693L772 2671L770 2648L767 2624L765 2599L761 2574L757 2547L753 2521L747 2493L740 2466L733 2438L723 2411L713 2384L700 2359L687 2335L671 2312L654 2292L635 2274L615 2258L593 2244L571 2232L548 2223L524 2214L500 2208L475 2202L451 2198L426 2194L401 2192L376 2189L351 2188L326 2187L301 2187L293 2187L293 3148L781 3148Z" fill="#dd9d4f"/>
<path d="M776 3140L776 3127L776 3115L776 3102L776 3090L776 3077L776 3065L776 3052L776 3039L776 3026L776 3013L776 3000L776 2986L776 2972L776 2958L776 2944L776 2929L776 2914L775 2899L775 2883L775 2867L775 2851L774 2834L774 2816L773 2798L773 2779L772 2760L771 2740L770 2719L769 2698L767 2675L765 2652L763 2629L760 2604L757 2579L753 2553L749 2526L743 2499L737 2471L729 2444L720 2417L710 2390L698 2365L684 2340L669 2318L651 2297L633 2279L613 2262L592 2248L570 2236L547 2227L523 2218L499 2211L475 2206L450 2201L425 2198L401 2195L376 2193L351 2191L326 2190L301 2190L293 2190L293 3148L776 3148Z" fill="#df9e4e"/>
<path d="M772 3140L772 3127L772 3115L772 3103L772 3090L772 3078L772 3065L772 3053L772 3040L772 3027L772 3014L772 3001L772 2987L772 2974L771 2960L771 2946L771 2931L771 2916L771 2901L771 2886L771 2870L770 2853L770 2836L770 2819L769 2801L768 2783L768 2763L767 2744L766 2723L764 2702L763 2680L761 2657L759 2633L756 2609L753 2584L749 2558L745 2531L739 2504L733 2477L726 2450L717 2423L707 2396L695 2370L681 2346L666 2323L649 2302L631 2283L611 2267L590 2253L568 2241L546 2231L522 2222L498 2215L474 2209L450 2205L425 2201L400 2198L375 2196L351 2195L326 2194L301 2193L293 2193L293 3148L772 3148Z" fill="#e29f4c"/>
<path d="M767 3140L767 3128L767 3115L767 3103L767 3091L767 3079L767 3066L767 3054L767 3041L767 3028L767 3015L767 3002L767 2989L767 2975L767 2962L767 2948L767 2933L767 2918L767 2903L766 2888L766 2872L766 2856L765 2839L765 2822L765 2804L764 2786L763 2767L762 2747L761 2727L760 2706L759 2684L757 2661L755 2638L752 2614L749 2589L745 2563L741 2537L736 2510L729 2483L722 2455L713 2428L703 2402L692 2376L679 2351L664 2328L647 2307L629 2288L610 2272L589 2257L567 2245L544 2235L521 2226L497 2219L473 2213L449 2208L424 2205L400 2202L375 2199L350 2198L326 2197L301 2197L293 2197L293 3148L767 3148Z" fill="#e4a04b"/>
<path d="M763 3140L763 3128L763 3116L763 3104L763 3091L763 3079L763 3067L763 3054L763 3042L763 3029L763 3016L763 3004L763 2990L763 2977L763 2963L762 2949L762 2935L762 2921L762 2906L762 2891L762 2875L761 2859L761 2842L761 2825L760 2808L760 2789L759 2771L758 2751L757 2731L756 2710L754 2688L752 2666L750 2643L748 2619L745 2594L741 2568L737 2542L732 2515L726 2488L719 2461L710 2434L700 2407L689 2381L676 2357L661 2334L645 2312L627 2293L608 2276L587 2262L566 2249L543 2239L520 2230L497 2223L473 2217L448 2212L424 2208L399 2205L375 2203L350 2201L326 2200L301 2200L293 2200L293 3148L763 3148Z" fill="#e6a24b"/>
<path d="M755 3140L755 3128L755 3116L755 3104L755 3092L755 3080L755 3068L755 3056L755 3044L755 3031L755 3018L755 3006L755 2993L755 2979L755 2966L755 2952L755 2938L755 2924L755 2909L755 2894L754 2879L754 2863L754 2847L753 2830L753 2813L752 2795L752 2776L751 2757L750 2737L749 2717L747 2695L746 2673L744 2650L741 2626L738 2602L735 2577L731 2551L726 2524L720 2497L713 2470L705 2443L695 2416L684 2391L672 2366L657 2342L642 2321L624 2302L605 2284L585 2269L564 2256L541 2246L519 2237L495 2229L472 2223L447 2218L423 2214L399 2211L374 2208L350 2207L325 2206L301 2205L293 2205L293 3148L755 3148Z" fill="#e7a34d"/>
<path d="M748 3140L748 3128L748 3116L748 3105L748 3093L748 3081L748 3069L748 3057L748 3045L748 3033L748 3020L748 3008L748 2995L748 2982L748 2969L748 2955L748 2942L748 2928L748 2913L747 2898L747 2883L747 2868L747 2852L746 2835L746 2818L745 2800L745 2782L744 2763L743 2743L742 2723L740 2702L739 2680L737 2658L735 2634L732 2610L729 2585L725 2559L720 2533L714 2506L707 2479L700 2452L690 2426L680 2400L667 2375L654 2351L638 2329L621 2310L602 2292L582 2277L561 2264L540 2252L517 2243L494 2235L470 2229L447 2224L422 2220L398 2216L374 2214L350 2212L325 2211L301 2211L293 2211L293 3148L748 3148Z" fill="#e7a550"/>
<path d="M741 3140L741 3128L741 3117L741 3105L741 3094L741 3082L741 3070L741 3058L741 3047L741 3035L741 3022L741 3010L741 2997L741 2985L741 2972L741 2958L741 2945L741 2931L740 2917L740 2902L740 2887L740 2872L740 2856L739 2840L739 2823L738 2806L738 2788L737 2769L736 2750L735 2730L734 2709L732 2687L730 2665L728 2642L725 2618L722 2593L718 2567L714 2541L708 2515L702 2488L694 2461L685 2434L675 2409L663 2384L650 2360L634 2338L618 2318L599 2300L580 2285L559 2271L538 2259L515 2250L493 2242L469 2235L446 2230L422 2225L398 2222L374 2219L349 2218L325 2217L301 2216L293 2216L293 3148L741 3148Z" fill="#e8a752"/>
<path d="M734 3140L734 3128L734 3117L734 3106L734 3094L734 3083L734 3071L734 3060L734 3048L734 3036L734 3024L734 3012L734 3000L734 2987L734 2974L734 2961L733 2948L733 2934L733 2920L733 2906L733 2891L733 2876L732 2861L732 2845L732 2828L731 2811L731 2793L730 2775L729 2756L728 2736L727 2715L726 2694L724 2672L722 2649L719 2625L716 2601L713 2576L708 2550L703 2523L697 2497L689 2470L681 2443L671 2417L659 2392L646 2369L631 2347L614 2326L597 2308L577 2292L557 2278L536 2267L514 2257L491 2248L468 2241L445 2236L421 2231L397 2228L373 2225L349 2223L325 2222L301 2222L293 2222L293 3148L734 3148Z" fill="#e9a954"/>
<path d="M727 3140L727 3129L727 3117L727 3106L727 3095L727 3084L727 3073L727 3061L727 3050L727 3038L727 3026L727 3014L727 3002L727 2990L726 2977L726 2964L726 2951L726 2938L726 2924L726 2910L726 2895L726 2881L725 2865L725 2849L725 2833L724 2816L724 2799L723 2781L722 2762L722 2742L720 2722L719 2701L717 2679L715 2656L713 2633L710 2609L707 2584L702 2558L697 2532L691 2505L684 2479L676 2452L666 2426L655 2401L642 2377L627 2355L611 2335L594 2316L575 2300L555 2286L534 2274L512 2263L490 2255L467 2248L444 2242L420 2237L396 2233L373 2231L349 2229L325 2228L301 2227L293 2227L293 3148L727 3148Z" fill="#eaaa56"/>
<path d="M719 3140L719 3129L719 3118L719 3107L719 3096L719 3085L719 3074L719 3062L719 3051L719 3040L719 3028L719 3016L719 3004L719 2992L719 2980L719 2967L719 2954L719 2941L719 2928L719 2914L719 2899L719 2885L718 2870L718 2854L718 2838L717 2821L717 2804L716 2786L716 2768L715 2749L714 2729L713 2708L711 2686L709 2664L707 2641L704 2617L701 2592L697 2566L692 2540L686 2514L679 2488L671 2461L661 2435L650 2410L638 2386L624 2364L608 2343L591 2325L572 2308L553 2293L532 2281L511 2270L488 2261L466 2254L443 2248L419 2243L396 2239L372 2236L348 2234L325 2233L301 2233L293 2233L293 3148L719 3148Z" fill="#eaac59"/>
<path d="M712 3140L712 3129L712 3118L712 3107L712 3097L712 3086L712 3075L712 3064L712 3053L712 3041L712 3030L712 3018L712 3007L712 2995L712 2982L712 2970L712 2957L712 2944L712 2931L712 2918L712 2904L712 2889L711 2874L711 2859L711 2843L711 2827L710 2810L710 2792L709 2774L708 2755L707 2735L706 2715L705 2693L703 2671L701 2648L698 2625L695 2600L691 2575L686 2549L681 2523L674 2496L666 2470L657 2444L646 2419L634 2395L620 2373L605 2352L588 2333L570 2316L550 2301L530 2288L509 2277L487 2268L465 2260L442 2254L419 2249L395 2245L372 2242L348 2240L324 2239L301 2238L293 2238L293 3148L712 3148Z" fill="#ebae5b"/>
<path d="M705 3140L705 3129L705 3119L705 3108L705 3097L705 3087L705 3076L705 3065L705 3054L705 3043L705 3032L705 3020L705 3009L705 2997L705 2985L705 2973L705 2961L705 2948L705 2935L705 2921L705 2908L705 2893L704 2879L704 2864L704 2848L704 2832L703 2815L703 2798L702 2780L701 2761L700 2742L699 2722L698 2701L696 2679L694 2656L692 2632L689 2608L685 2583L681 2558L675 2532L669 2505L661 2479L652 2453L642 2428L630 2404L616 2381L601 2360L585 2341L567 2324L548 2309L528 2296L507 2284L486 2275L463 2267L441 2260L418 2255L395 2251L371 2248L348 2246L324 2245L301 2244L293 2244L293 3148L705 3148Z" fill="#ecb05d"/>
<path d="M698 3140L698 3129L698 3119L698 3109L698 3098L698 3088L698 3077L698 3066L698 3056L698 3045L698 3034L698 3023L698 3011L698 3000L698 2988L698 2976L698 2964L698 2951L698 2938L698 2925L698 2912L698 2898L697 2883L697 2868L697 2853L697 2837L696 2821L696 2804L695 2786L695 2768L694 2749L693 2729L691 2708L690 2686L688 2664L686 2641L683 2616L679 2592L675 2566L670 2540L664 2514L656 2488L647 2462L637 2437L626 2413L613 2390L598 2369L582 2350L564 2332L546 2317L526 2303L505 2292L484 2282L462 2273L440 2267L417 2261L394 2257L371 2254L348 2252L324 2250L301 2250L293 2250L293 3148L698 3148Z" fill="#ecb160"/>
<path d="M691 3140L691 3130L691 3119L691 3109L691 3099L691 3089L691 3078L691 3068L691 3057L691 3046L691 3036L691 3025L691 3014L691 3002L691 2991L691 2979L691 2967L691 2955L691 2942L691 2929L691 2916L691 2902L690 2888L690 2873L690 2858L690 2843L689 2827L689 2810L688 2792L688 2774L687 2755L686 2736L685 2715L683 2694L682 2672L679 2649L677 2625L673 2600L669 2575L664 2549L658 2523L651 2497L643 2472L633 2447L622 2422L609 2399L595 2378L579 2358L562 2340L543 2325L524 2311L504 2299L483 2289L461 2280L439 2273L416 2268L393 2263L370 2260L347 2258L324 2256L301 2256L293 2256L293 3148L691 3148Z" fill="#edb362"/>
<path d="M684 3140L684 3130L684 3120L684 3110L684 3100L684 3089L684 3079L684 3069L684 3059L684 3048L684 3038L684 3027L684 3016L684 3005L684 2993L684 2982L684 2970L684 2958L684 2945L684 2933L684 2920L683 2906L683 2892L683 2878L683 2863L683 2848L682 2832L682 2816L681 2799L681 2781L680 2762L679 2743L678 2723L677 2702L675 2680L673 2657L670 2633L667 2609L663 2584L659 2559L653 2533L646 2507L638 2481L629 2456L618 2431L605 2408L591 2387L576 2367L559 2349L541 2333L522 2318L502 2306L481 2296L460 2287L438 2280L415 2274L393 2270L370 2266L347 2264L324 2263L301 2262L293 2262L293 3148L684 3148Z" fill="#eeb564"/>
<path d="M677 3140L677 3130L677 3120L677 3110L677 3100L677 3090L677 3080L677 3070L677 3060L677 3050L677 3039L677 3029L677 3018L677 3007L677 2996L677 2985L677 2973L677 2961L677 2949L677 2937L677 2924L676 2911L676 2897L676 2883L676 2868L676 2853L675 2838L675 2822L675 2805L674 2787L673 2769L672 2750L671 2730L670 2709L668 2688L666 2665L664 2642L661 2618L657 2593L653 2568L647 2542L641 2516L633 2490L624 2465L614 2440L602 2417L588 2395L573 2375L556 2357L539 2340L520 2326L500 2314L479 2303L458 2294L437 2287L414 2281L392 2276L369 2273L347 2270L324 2269L301 2268L293 2268L293 3148L677 3148Z" fill="#efb766"/>
<path d="M670 3140L670 3130L670 3120L670 3111L670 3101L670 3091L670 3081L670 3072L670 3062L670 3051L670 3041L670 3031L670 3020L670 3010L670 2999L670 2988L670 2976L670 2965L670 2953L670 2940L670 2928L669 2915L669 2902L669 2888L669 2873L669 2859L668 2843L668 2828L668 2811L667 2794L666 2776L666 2757L665 2738L663 2717L662 2696L660 2674L658 2651L655 2627L651 2602L647 2577L642 2551L636 2525L629 2499L620 2474L610 2449L598 2426L585 2404L570 2383L554 2365L536 2348L518 2334L498 2321L478 2310L457 2301L435 2293L414 2287L391 2283L369 2279L346 2276L324 2275L301 2274L293 2274L293 3148L670 3148Z" fill="#efb869"/>
<path d="M663 3140L663 3130L663 3121L663 3111L663 3102L663 3092L663 3083L663 3073L663 3063L663 3053L663 3043L663 3033L663 3023L663 3012L663 3001L663 2990L663 2979L663 2968L663 2956L663 2944L663 2932L662 2919L662 2906L662 2893L662 2879L662 2864L661 2849L661 2833L661 2817L660 2800L659 2783L659 2764L658 2745L657 2725L655 2704L653 2682L651 2659L649 2636L646 2611L642 2586L637 2561L631 2535L624 2509L615 2483L606 2458L594 2435L581 2412L567 2392L551 2373L534 2356L516 2342L496 2329L476 2318L456 2308L434 2300L413 2294L391 2289L368 2285L346 2283L323 2281L301 2281L293 2281L293 3148L663 3148Z" fill="#f0ba6b"/>
<path d="M656 3140L656 3130L656 3121L656 3112L656 3103L656 3093L656 3084L656 3074L656 3064L656 3055L656 3045L656 3035L656 3025L656 3014L656 3004L656 2993L656 2982L656 2971L656 2960L656 2948L656 2936L655 2923L655 2911L655 2897L655 2884L655 2869L654 2855L654 2839L654 2824L653 2807L652 2790L652 2772L651 2753L650 2733L649 2712L647 2691L645 2668L643 2645L640 2620L636 2595L631 2570L626 2544L619 2518L611 2492L601 2468L590 2444L578 2421L564 2400L548 2382L531 2365L514 2350L495 2336L475 2325L454 2315L433 2308L412 2301L390 2296L368 2292L346 2289L323 2288L301 2287L293 2287L293 3148L656 3148Z" fill="#f1bc6d"/>
<path d="M649 3140L649 3131L649 3122L649 3112L649 3103L649 3094L649 3085L649 3075L649 3066L649 3056L649 3047L649 3037L649 3027L649 3017L649 3007L649 2996L649 2985L649 2974L649 2963L649 2952L648 2940L648 2928L648 2915L648 2902L648 2889L648 2875L647 2860L647 2845L647 2830L646 2814L645 2797L645 2779L644 2760L643 2741L642 2721L640 2699L639 2677L636 2654L633 2630L630 2605L626 2579L621 2554L614 2528L606 2502L597 2477L587 2453L574 2430L561 2409L545 2390L529 2373L511 2358L493 2344L473 2333L453 2323L432 2315L411 2308L389 2303L367 2299L345 2296L323 2294L301 2294L293 2294L293 3148L649 3148Z" fill="#f2be6f"/>
<path d="M642 3140L642 3131L642 3122L642 3113L642 3104L642 3095L642 3086L642 3077L642 3067L642 3058L642 3049L642 3039L642 3029L642 3019L642 3009L642 2999L642 2989L642 2978L642 2967L642 2956L641 2944L641 2932L641 2920L641 2907L641 2894L640 2880L640 2866L640 2851L639 2836L639 2820L638 2804L638 2786L637 2768L636 2749L635 2729L634 2708L632 2686L630 2663L627 2639L624 2614L620 2589L615 2563L609 2537L602 2512L593 2486L583 2462L571 2440L557 2418L543 2399L526 2382L509 2366L491 2352L471 2341L451 2331L431 2322L410 2315L388 2310L367 2306L345 2303L323 2301L301 2301L293 2301L293 3148L642 3148Z" fill="#f2bf72"/>
<path d="M635 3140L635 3131L635 3122L635 3113L635 3105L635 3096L635 3087L635 3078L635 3069L635 3060L635 3051L635 3041L635 3032L635 3022L635 3012L635 3002L635 2992L635 2981L635 2970L634 2959L634 2948L634 2936L634 2924L634 2912L634 2899L633 2886L633 2872L633 2858L632 2843L632 2827L631 2811L631 2794L630 2776L629 2757L628 2737L627 2717L625 2695L624 2672L621 2649L618 2624L614 2599L610 2573L604 2547L597 2522L589 2496L579 2472L567 2449L554 2428L540 2408L524 2391L507 2375L489 2361L470 2349L450 2339L430 2330L409 2323L388 2317L366 2313L344 2310L323 2308L301 2307L293 2307L293 3148L635 3148Z" fill="#f3c174"/>
<path d="M628 3140L628 3131L628 3123L628 3114L628 3105L628 3097L628 3088L628 3079L628 3070L628 3061L628 3052L628 3043L628 3034L628 3024L628 3015L628 3005L628 2995L628 2985L627 2974L627 2963L627 2952L627 2941L627 2929L627 2917L626 2904L626 2891L626 2878L626 2864L625 2849L625 2834L624 2818L624 2801L623 2783L622 2765L621 2746L620 2725L619 2704L617 2682L615 2658L612 2634L609 2609L604 2584L599 2558L592 2532L584 2507L574 2482L563 2459L551 2438L536 2418L521 2400L504 2384L487 2370L468 2357L448 2347L428 2338L408 2331L387 2325L366 2320L344 2317L322 2315L301 2315L293 2315L293 3148L628 3148Z" fill="#f4c376"/>
<path d="M621 3140L621 3131L621 3123L621 3115L621 3106L621 3098L621 3089L621 3081L621 3072L621 3063L621 3054L621 3045L621 3036L621 3027L621 3018L620 3008L620 2998L620 2988L620 2978L620 2967L620 2956L620 2945L620 2934L619 2922L619 2909L619 2897L619 2883L618 2870L618 2855L618 2840L617 2825L617 2808L616 2791L615 2773L614 2754L613 2734L612 2713L610 2691L608 2668L606 2644L603 2619L598 2594L593 2568L587 2543L579 2517L570 2493L559 2470L547 2448L533 2428L518 2410L502 2393L484 2379L466 2366L447 2355L427 2346L407 2338L386 2332L365 2328L344 2324L322 2323L301 2322L293 2322L293 3148L621 3148Z" fill="#f5c579"/>
<path d="M614 3140L614 3132L614 3123L614 3115L614 3107L614 3099L614 3090L614 3082L614 3074L614 3065L614 3056L613 3048L613 3039L613 3030L613 3020L613 3011L613 3001L613 2991L613 2981L613 2971L613 2960L612 2950L612 2938L612 2927L612 2915L612 2902L611 2889L611 2876L611 2862L611 2847L610 2832L610 2816L609 2799L608 2781L608 2763L607 2743L605 2722L604 2701L602 2678L599 2655L596 2630L593 2605L588 2579L582 2554L574 2528L565 2504L555 2480L543 2459L530 2438L515 2420L499 2403L482 2388L464 2375L445 2364L426 2355L406 2347L385 2340L364 2335L343 2332L322 2330L301 2329L293 2329L293 3148L614 3148Z" fill="#f5c77b"/>
<path d="M607 3140L607 3132L607 3124L607 3116L606 3108L606 3100L606 3092L606 3083L606 3075L606 3067L606 3058L606 3050L606 3041L606 3032L606 3023L606 3014L606 3004L606 2995L606 2985L606 2975L605 2965L605 2954L605 2943L605 2932L605 2920L605 2908L604 2895L604 2882L604 2868L603 2854L603 2839L603 2823L602 2807L601 2789L601 2771L600 2752L599 2732L597 2710L595 2688L593 2665L590 2641L587 2616L582 2590L576 2565L569 2540L561 2515L551 2492L539 2470L526 2449L512 2430L496 2413L480 2398L462 2385L444 2373L424 2363L405 2355L384 2348L364 2343L343 2340L322 2338L301 2337L293 2337L293 3148L607 3148Z" fill="#f6c87d"/>
<path d="M599 3140L599 3132L599 3124L599 3116L599 3108L599 3101L599 3093L599 3085L599 3077L599 3068L599 3060L599 3052L599 3043L599 3035L599 3026L599 3017L599 3008L599 2998L598 2989L598 2979L598 2969L598 2958L598 2948L598 2936L598 2925L597 2913L597 2901L597 2888L597 2874L596 2860L596 2846L596 2830L595 2814L595 2797L594 2779L593 2761L592 2741L591 2720L589 2698L587 2675L584 2652L580 2627L576 2602L571 2577L564 2552L556 2527L546 2503L535 2481L523 2460L509 2441L494 2424L477 2408L460 2394L442 2382L423 2372L403 2364L383 2357L363 2351L342 2348L322 2346L301 2345L293 2345L293 3148L599 3148Z" fill="#f7ca7f"/>
<path d="M592 3140L592 3132L592 3125L592 3117L592 3109L592 3102L592 3094L592 3086L592 3078L592 3070L592 3062L592 3054L592 3046L592 3037L592 3029L591 3020L591 3011L591 3002L591 2992L591 2983L591 2973L591 2963L591 2952L591 2941L591 2930L590 2919L590 2906L590 2894L590 2881L589 2867L589 2853L589 2838L588 2822L588 2805L587 2788L586 2770L585 2750L584 2730L582 2708L580 2686L578 2663L574 2638L570 2614L565 2589L558 2564L551 2539L541 2516L531 2493L519 2472L505 2452L491 2435L475 2419L458 2404L440 2392L421 2381L402 2372L383 2365L362 2360L342 2356L321 2354L301 2353L293 2353L293 3148L592 3148Z" fill="#f7cc82"/>
<path d="M584 3140L584 3132L584 3125L584 3117L584 3110L584 3103L584 3095L584 3087L584 3080L584 3072L584 3064L584 3056L584 3048L584 3040L584 3031L584 3023L584 3014L584 3005L584 2996L584 2987L584 2977L584 2967L584 2957L583 2946L583 2935L583 2924L583 2912L583 2900L582 2887L582 2874L582 2860L582 2845L581 2830L581 2814L580 2797L579 2779L578 2760L577 2740L575 2719L573 2697L571 2674L568 2650L564 2626L559 2601L553 2576L545 2552L537 2528L526 2505L515 2484L502 2464L488 2446L472 2429L456 2415L438 2402L420 2391L401 2382L382 2374L362 2368L342 2364L321 2362L301 2361L293 2361L293 3148L584 3148Z" fill="#f8ce84"/>
<path d="M577 3140L577 3133L577 3125L577 3118L577 3111L577 3104L577 3096L577 3089L577 3081L577 3074L577 3066L577 3058L577 3050L577 3042L577 3034L577 3026L577 3017L577 3009L576 3000L576 2991L576 2981L576 2972L576 2962L576 2951L576 2941L576 2930L576 2918L575 2906L575 2894L575 2881L575 2867L574 2853L574 2838L573 2822L573 2805L572 2788L571 2769L570 2750L568 2729L567 2708L564 2686L561 2662L557 2638L553 2614L547 2589L540 2565L532 2541L522 2518L511 2497L498 2476L484 2458L469 2441L453 2425L436 2412L418 2401L400 2391L381 2383L361 2377L341 2373L321 2370L301 2370L293 2370L293 3148L577 3148Z" fill="#f9cf86"/>
<path d="M569 3140L569 3133L569 3126L569 3119L569 3112L569 3105L569 3097L569 3090L569 3083L569 3076L569 3068L569 3061L569 3053L569 3045L569 3037L569 3029L569 3021L569 3012L569 3004L569 2995L569 2986L569 2976L569 2967L568 2957L568 2946L568 2935L568 2924L568 2913L568 2900L568 2888L567 2874L567 2861L567 2846L566 2831L565 2814L565 2797L564 2779L563 2760L561 2740L560 2719L557 2697L554 2675L551 2651L546 2627L541 2603L534 2578L526 2555L517 2532L506 2510L494 2489L481 2470L467 2452L451 2437L434 2423L417 2411L398 2401L380 2393L360 2387L341 2382L321 2380L301 2379L293 2379L293 3148L569 3148Z" fill="#fad188"/>
<path d="M561 3140L561 3133L561 3126L561 3119L561 3112L561 3106L561 3099L561 3092L561 3085L561 3077L561 3070L561 3063L561 3055L561 3048L561 3040L561 3032L561 3024L561 3016L561 3008L561 2999L561 2990L561 2981L561 2972L561 2962L561 2952L561 2941L560 2930L560 2919L560 2907L560 2895L560 2882L559 2869L559 2854L559 2839L558 2824L557 2807L556 2789L555 2771L554 2752L552 2731L550 2710L548 2687L544 2664L540 2641L535 2617L529 2592L521 2569L512 2545L502 2523L491 2502L478 2483L464 2465L448 2449L432 2434L415 2422L397 2412L379 2403L360 2396L340 2392L321 2389L301 2388L293 2388L293 3148L561 3148Z" fill="#fad38b"/>
<path d="M553 3140L553 3133L553 3127L553 3120L553 3113L553 3107L553 3100L553 3093L553 3086L553 3079L553 3072L553 3065L553 3058L553 3051L553 3043L553 3036L553 3028L553 3020L553 3012L553 3003L553 2995L553 2986L553 2977L553 2967L553 2958L553 2947L552 2937L552 2926L552 2914L552 2902L552 2890L551 2877L551 2863L551 2848L550 2833L550 2817L549 2800L548 2782L547 2763L545 2743L543 2722L540 2700L537 2678L533 2655L528 2631L523 2607L515 2583L507 2560L497 2537L486 2516L474 2496L461 2477L446 2461L430 2446L413 2433L396 2423L377 2414L359 2407L340 2402L320 2399L301 2398L293 2398L293 3148L553 3148Z" fill="#fbd58d"/>
<path d="M545 3140L545 3133L545 3127L545 3121L545 3114L545 3108L545 3101L545 3095L545 3088L545 3081L545 3075L545 3068L545 3061L545 3054L545 3047L545 3039L545 3032L545 3024L545 3016L545 3008L545 3000L545 2991L544 2982L544 2973L544 2964L544 2954L544 2944L544 2933L544 2922L544 2910L544 2898L543 2885L543 2872L543 2858L542 2843L542 2827L541 2811L540 2793L539 2775L537 2756L535 2735L533 2714L530 2692L526 2669L522 2645L516 2622L510 2598L502 2575L493 2552L482 2530L470 2510L457 2491L443 2474L428 2459L411 2445L394 2434L376 2425L358 2418L339 2413L320 2409L301 2408L293 2408L293 3148L545 3148Z" fill="#fcd68f"/>
<path d="M536 3140L536 3134L536 3127L536 3121L536 3115L536 3109L536 3103L536 3096L536 3090L536 3083L536 3077L536 3070L536 3064L536 3057L536 3050L536 3043L536 3035L536 3028L536 3020L536 3013L536 3005L536 2996L536 2988L536 2979L536 2970L536 2960L536 2950L536 2940L535 2929L535 2918L535 2907L535 2894L535 2881L534 2868L534 2853L533 2838L533 2822L532 2805L531 2788L529 2769L527 2749L525 2728L523 2706L519 2684L515 2661L510 2637L504 2613L496 2590L488 2567L478 2545L467 2524L454 2505L440 2487L425 2471L409 2458L393 2446L375 2436L357 2429L339 2423L320 2420L301 2419L293 2419L293 3148L536 3148Z" fill="#fdd892"/>
<path d="M527 3140L527 3134L527 3128L527 3122L527 3116L527 3110L527 3104L527 3098L527 3092L527 3086L527 3079L527 3073L527 3067L527 3060L527 3053L527 3046L527 3039L527 3032L527 3025L527 3017L527 3010L527 3002L527 2994L527 2985L527 2976L527 2967L527 2958L527 2948L527 2937L526 2927L526 2915L526 2903L526 2891L525 2878L525 2864L525 2849L524 2834L523 2818L522 2800L521 2782L519 2763L517 2743L515 2721L512 2699L508 2677L503 2653L498 2630L491 2606L483 2583L473 2560L463 2539L451 2519L437 2501L423 2484L407 2470L391 2458L374 2447L356 2440L338 2434L319 2430L301 2429L293 2429L293 3148L527 3148Z" fill="#fdda94"/>
<path d="M518 3140L518 3134L518 3128L518 3123L518 3117L518 3111L518 3105L518 3100L518 3094L518 3088L518 3082L518 3076L518 3069L518 3063L518 3057L518 3050L518 3044L518 3037L518 3030L518 3022L518 3015L518 3007L518 2999L518 2991L518 2983L518 2974L518 2965L517 2955L517 2946L517 2935L517 2924L517 2913L517 2901L516 2888L516 2875L516 2861L515 2846L514 2830L513 2814L512 2796L511 2777L509 2758L507 2737L504 2715L501 2693L496 2670L491 2646L485 2623L477 2599L468 2576L458 2554L447 2534L434 2515L420 2498L405 2483L389 2470L373 2459L355 2451L337 2445L319 2441L301 2440L293 2440L293 3148L518 3148Z" fill="#fedc96"/>
<path d="M508 3140L508 3134L508 3129L508 3123L508 3118L508 3112L508 3107L508 3101L508 3096L508 3090L508 3084L508 3078L508 3073L508 3067L508 3060L508 3054L508 3048L508 3041L508 3034L508 3028L508 3020L508 3013L508 3006L508 2998L508 2990L508 2981L508 2973L508 2963L508 2954L508 2944L508 2934L508 2923L507 2911L507 2899L507 2886L506 2873L506 2859L505 2843L505 2827L504 2810L502 2792L501 2773L499 2753L496 2732L493 2710L489 2687L484 2664L479 2640L472 2616L463 2593L454 2571L443 2549L431 2530L418 2512L403 2496L388 2483L371 2471L354 2463L337 2456L319 2453L301 2451L293 2451L293 3148L508 3148Z" fill="#ffdd98"/>
<path d="M499 3140L499 3135L499 3129L499 3124L499 3119L499 3114L499 3108L499 3103L499 3098L499 3092L499 3087L499 3081L499 3076L499 3070L499 3064L499 3058L499 3052L499 3046L499 3039L499 3033L499 3026L499 3019L499 3012L499 3004L499 2997L499 2989L499 2980L498 2972L498 2963L498 2953L498 2943L498 2933L498 2922L498 2910L497 2898L497 2885L497 2871L496 2857L495 2842L494 2825L493 2808L492 2789L490 2770L488 2749L485 2728L482 2705L477 2682L472 2658L466 2634L458 2611L449 2588L439 2566L428 2546L415 2527L401 2511L386 2497L370 2485L353 2476L336 2469L319 2465L301 2464L293 2464L293 3148L499 3148Z" fill="#ffdf9b"/>
<path d="M489 3140L489 3135L489 3130L489 3125L489 3120L489 3115L489 3110L489 3105L489 3100L489 3095L489 3090L489 3084L489 3079L489 3073L489 3068L489 3062L489 3056L489 3050L489 3044L489 3038L489 3032L489 3025L489 3018L489 3011L489 3004L489 2996L489 2988L489 2980L489 2971L489 2962L488 2953L488 2943L488 2933L488 2922L488 2910L487 2898L487 2885L487 2871L486 2856L485 2840L484 2823L483 2806L481 2787L479 2767L477 2746L474 2724L470 2701L465 2677L460 2653L453 2630L444 2606L435 2584L424 2563L412 2544L398 2527L384 2512L368 2500L352 2490L335 2483L318 2479L301 2477L293 2477L293 3148L489 3148Z" fill="#ffe09d"/>
<path d="M479 3140L479 3135L479 3130L479 3126L479 3121L479 3116L479 3112L479 3107L479 3102L479 3097L479 3092L479 3087L479 3082L479 3077L479 3072L479 3066L479 3061L479 3055L479 3049L479 3043L479 3037L479 3031L479 3025L479 3018L479 3011L479 3004L479 2996L479 2988L479 2980L479 2972L478 2963L478 2953L478 2944L478 2933L478 2922L478 2910L477 2898L477 2885L476 2871L476 2856L475 2840L474 2823L472 2804L471 2785L469 2764L466 2743L463 2720L458 2697L453 2673L447 2649L439 2626L430 2603L420 2581L408 2562L396 2544L382 2529L367 2516L351 2506L335 2499L318 2494L301 2493L293 2493L293 3148L479 3148Z" fill="#ffe2a0"/>
<path d="M469 3140L469 3135L469 3131L469 3127L469 3122L469 3118L469 3113L469 3109L469 3104L469 3100L469 3095L469 3090L469 3085L469 3080L469 3076L469 3070L469 3065L469 3060L469 3055L469 3049L469 3043L469 3037L469 3031L469 3025L469 3018L469 3011L469 3004L469 2997L469 2989L468 2981L468 2973L468 2964L468 2955L468 2945L468 2934L468 2923L467 2911L467 2899L467 2886L466 2871L465 2856L464 2840L463 2822L462 2804L460 2784L458 2763L455 2741L451 2718L446 2694L440 2670L434 2647L425 2624L416 2602L405 2581L393 2563L379 2547L365 2534L349 2524L334 2516L317 2512L301 2510L293 2510L293 3148L469 3148Z" fill="#ffe3a3"/>
<path d="M459 3140L459 3136L459 3131L459 3127L459 3123L459 3119L459 3115L459 3111L459 3106L459 3102L459 3098L459 3093L459 3089L459 3084L459 3079L459 3075L459 3070L459 3065L459 3060L459 3054L459 3049L459 3044L458 3038L458 3032L458 3026L458 3019L458 3013L458 3006L458 2999L458 2991L458 2983L458 2975L458 2966L458 2957L458 2947L458 2936L457 2925L457 2913L457 2901L456 2887L456 2873L455 2857L454 2841L453 2823L451 2804L449 2783L446 2762L443 2740L439 2716L434 2693L427 2669L420 2646L411 2624L401 2603L389 2585L376 2568L363 2555L348 2544L333 2536L317 2532L301 2530L293 2530L293 3148L459 3148Z" fill="#ffe4a5"/>
<path d="M448 3140L448 3136L448 3132L448 3128L448 3124L448 3120L448 3116L448 3113L448 3109L448 3104L448 3100L448 3096L448 3092L448 3088L448 3083L448 3079L448 3074L448 3070L448 3065L448 3060L448 3055L448 3050L448 3044L448 3039L448 3033L448 3027L448 3021L448 3015L448 3008L448 3001L448 2993L448 2985L448 2977L448 2969L448 2959L447 2950L447 2939L447 2928L447 2916L446 2903L446 2890L445 2875L444 2859L443 2842L442 2824L440 2805L438 2784L435 2763L431 2740L427 2717L421 2694L414 2671L406 2648L396 2628L385 2609L373 2592L360 2579L346 2568L331 2560L316 2555L301 2553L293 2553L293 3148L448 3148Z" fill="#ffe6a8"/>
<path d="M438 3140L438 3136L438 3133L438 3129L438 3125L438 3122L438 3118L438 3114L438 3111L438 3107L438 3103L438 3099L438 3095L438 3091L438 3087L438 3083L438 3079L438 3075L438 3070L438 3066L438 3061L438 3056L438 3051L438 3046L438 3041L438 3035L438 3029L438 3023L438 3017L438 3011L437 3004L437 2996L437 2989L437 2981L437 2972L437 2963L437 2953L437 2943L436 2932L436 2920L435 2907L435 2894L434 2879L433 2863L432 2846L430 2828L428 2809L426 2788L422 2767L418 2745L413 2723L406 2702L399 2681L390 2661L380 2643L369 2627L356 2614L343 2604L329 2596L315 2591L301 2590L293 2590L293 3148L438 3148Z" fill="#ffe7aa"/>
<path d="M427 3140L427 3136L427 3133L427 3130L427 3127L427 3123L427 3120L427 3116L427 3113L427 3110L427 3106L427 3103L427 3099L427 3095L427 3092L427 3088L427 3084L427 3080L427 3076L427 3072L427 3067L427 3063L427 3058L427 3054L427 3049L427 3044L427 3038L427 3033L427 3027L427 3021L427 3014L427 3008L426 3001L426 2993L426 2985L426 2977L426 2968L426 2959L425 2949L425 2938L425 2926L424 2914L423 2900L423 2886L421 2870L420 2853L418 2836L416 2817L412 2798L408 2778L404 2758L398 2738L391 2719L382 2701L373 2685L363 2671L352 2659L340 2650L327 2643L314 2639L301 2637L293 2637L293 3148L427 3148Z" fill="#ffe8ad"/>
<path d="M415 3140L415 3137L415 3134L415 3131L415 3128L415 3125L415 3122L415 3119L415 3115L415 3112L415 3109L415 3106L415 3103L415 3099L415 3096L415 3093L415 3089L415 3085L415 3082L415 3078L415 3074L415 3070L415 3066L415 3061L415 3057L415 3052L415 3048L415 3042L415 3037L415 3032L415 3026L415 3020L415 3014L415 3007L415 3000L415 2992L414 2984L414 2975L414 2966L414 2956L413 2946L413 2934L412 2922L411 2909L410 2895L409 2880L407 2864L405 2847L402 2830L398 2812L394 2794L388 2777L382 2760L374 2744L366 2730L357 2717L347 2707L336 2698L324 2692L313 2689L301 2687L293 2687L293 3148L415 3148Z" fill="#ffeaaf"/>
<path d="M403 3140L403 3137L403 3134L403 3132L403 3129L403 3126L403 3124L403 3121L403 3118L403 3115L403 3112L403 3110L403 3107L403 3104L403 3101L403 3098L403 3094L403 3091L403 3088L403 3084L403 3081L403 3077L403 3074L403 3070L403 3066L403 3062L403 3057L403 3053L403 3048L403 3043L403 3038L403 3033L403 3027L403 3021L402 3015L402 3008L402 3001L402 2993L402 2985L402 2976L401 2967L401 2956L400 2946L399 2934L398 2921L397 2908L396 2894L394 2879L391 2863L388 2848L384 2832L379 2816L373 2801L367 2787L359 2774L351 2763L342 2753L332 2746L322 2740L311 2737L301 2736L293 2736L293 3148L403 3148Z" fill="#ffebb2"/>
<path d="M390 3140L390 3137L390 3135L390 3133L390 3130L390 3128L390 3126L390 3123L390 3121L390 3118L390 3116L390 3113L390 3111L390 3108L390 3106L390 3103L390 3100L390 3097L390 3095L390 3092L390 3089L390 3085L390 3082L390 3079L390 3075L390 3072L390 3068L390 3064L390 3060L390 3056L390 3051L390 3047L389 3042L389 3036L389 3031L389 3025L389 3019L389 3012L389 3005L389 2997L388 2989L388 2980L387 2971L387 2960L386 2950L385 2938L383 2926L382 2913L379 2899L377 2885L373 2871L369 2858L364 2845L358 2832L351 2821L344 2811L336 2803L328 2797L319 2792L310 2789L301 2788L293 2788L293 3148L390 3148Z" fill="#ffedb5"/>
<path d="M375 3140L375 3138L375 3136L375 3134L375 3132L375 3130L375 3128L375 3126L375 3124L375 3122L375 3120L375 3118L375 3116L375 3114L375 3111L375 3109L375 3107L375 3104L375 3102L375 3100L375 3097L375 3094L375 3092L375 3089L375 3086L375 3083L375 3080L375 3077L375 3073L375 3070L375 3066L375 3062L375 3058L375 3054L375 3049L375 3044L374 3039L374 3033L374 3027L374 3021L374 3014L373 3007L373 2999L372 2990L372 2981L371 2971L370 2961L368 2950L366 2939L364 2927L361 2916L358 2904L353 2894L349 2883L343 2874L337 2866L330 2859L323 2854L316 2850L308 2847L301 2847L293 2847L293 3148L375 3148Z" fill="#ffeeb7"/>
<path d="M359 3140L359 3138L359 3137L359 3135L359 3134L359 3132L359 3131L359 3129L359 3127L359 3126L359 3124L359 3123L359 3121L359 3119L359 3117L359 3116L359 3114L359 3112L359 3110L359 3108L359 3106L359 3104L359 3102L359 3100L359 3098L359 3095L359 3093L359 3090L359 3088L359 3085L359 3082L359 3079L359 3075L359 3072L359 3068L359 3065L359 3060L359 3056L358 3051L358 3046L358 3041L358 3035L357 3029L357 3022L357 3015L356 3007L355 2999L354 2991L352 2982L350 2973L348 2964L345 2955L342 2946L338 2938L334 2931L329 2925L324 2919L319 2915L313 2912L307 2910L301 2909L293 2909L293 3148L359 3148Z" fill="#ffefba"/>
<path d="M338 3140L338 3139L338 3138L338 3137L338 3136L338 3135L338 3134L338 3133L338 3132L338 3131L338 3130L338 3129L338 3128L338 3127L338 3125L338 3124L338 3123L338 3122L338 3121L338 3120L338 3118L338 3117L338 3116L338 3114L338 3113L338 3111L338 3110L338 3108L338 3106L338 3104L338 3103L338 3101L338 3099L338 3096L338 3094L338 3092L338 3089L338 3086L338 3083L338 3080L337 3076L337 3073L337 3069L337 3065L336 3060L336 3055L335 3050L335 3044L334 3039L333 3033L331 3027L329 3021L327 3016L325 3011L322 3006L319 3002L316 2999L312 2996L308 2994L305 2993L301 2992L293 2992L293 3148L338 3148Z" fill="#fff1bc"/>
<path d="M1180.0 3145.7L1180.0 3139.7L1180.0 3128.2L1180.0 3116.8L1180.0 3105.3L1180.0 3093.8L1180.0 3082.3L1180.0 3070.8L1180.0 3059.3L1180.0 3047.7L1180.0 3036.1L1180.0 3024.5L1180.0 3012.8L1180.0 3001.1L1180.0 2989.3L1180.0 2977.5L1180.0 2965.6L1180.0 2953.7L1180.0 2941.7L1180.0 2929.6L1180.0 2917.4L1180.0 2905.2L1180.0 2892.9L1180.0 2880.5L1180.0 2868.0L1180.0 2855.3L1180.0 2842.6L1180.0 2829.8L1180.0 2816.8L1180.0 2803.8L1180.0 2790.5L1180.0 2777.2L1180.0 2763.7L1180.0 2750.1L1179.9 2736.3L1179.9 2722.3L1179.8 2708.2L1179.8 2693.9L1179.7 2679.4L1179.6 2664.7L1179.5 2649.9L1179.3 2634.8L1179.0 2619.6L1178.8 2604.1L1178.5 2588.5L1178.1 2572.6L1177.7 2556.4L1177.3 2540.1L1176.7 2523.5L1176.2 2506.6L1175.5 2489.5L1174.7 2472.2L1173.7 2454.7L1172.4 2437.1L1170.9 2419.4L1169.1 2401.5L1167.2 2383.4L1165.1 2365.0L1162.9 2346.5L1160.3 2327.8L1157.5 2309.0L1154.3 2290.2L1150.6 2271.4L1146.4 2252.7L1141.7 2234.1L1136.7 2215.7L1131.1 2197.3L1124.9 2179.2L1118.0 2161.6L1110.3 2144.6L1102.0 2128.1L1092.9 2112.1L1083.3 2096.7L1072.9 2081.8L1061.8 2067.8L1050.0 2054.6L1037.5 2042.2L1024.4 2030.5L1010.8 2019.6L996.5 2009.6L981.8 2000.3L966.2 1992.4L950.1 1985.6L933.7 1979.4L917.1 1973.7L900.4 1968.3L883.7 1963.1L866.9 1958.4L850.0 1953.9L833.0 1949.8L816.0 1946.0L798.9 1942.6L781.9 1939.4L764.8 1936.5L747.8 1933.7L730.8 1930.9L714.0 1928.1L697.2 1925.2L680.6 1922.2L664.0 1919.2L647.5 1916.0L631.1 1912.7L614.7 1909.2L598.4 1905.7L582.2 1901.9L565.9 1898.2L549.6 1894.6L533.3 1891.0L516.9 1887.6L500.5 1884.4L484.1 1881.3L467.6 1878.5L451.1 1875.9L434.5 1873.4L417.9 1871.1L401.3 1869.2L384.6 1867.4L367.9 1866.0L351.1 1864.8L334.4 1863.8L317.6 1863.1L300.8 1862.7L294.8 1862.7M1025.4 3145.7L1025.4 3139.7L1025.4 3130.3L1025.4 3120.8L1025.4 3111.4L1025.4 3101.9L1025.4 3092.4L1025.4 3082.9L1025.4 3073.4L1025.4 3063.9L1025.4 3054.3L1025.4 3044.7L1025.4 3035.1L1025.4 3025.5L1025.4 3015.8L1025.4 3006.0L1025.4 2996.2L1025.4 2986.4L1025.4 2976.5L1025.4 2966.5L1025.4 2956.5L1025.4 2946.4L1025.4 2936.3L1025.4 2926.0L1025.4 2915.7L1025.4 2905.3L1025.4 2894.9L1025.4 2884.3L1025.4 2873.6L1025.3 2862.9L1025.3 2852.0L1025.3 2841.0L1025.3 2829.9L1025.2 2818.6L1025.2 2807.3L1025.1 2795.8L1025.1 2784.2L1025.0 2772.4L1024.9 2760.5L1024.8 2748.4L1024.7 2736.2L1024.6 2723.8L1024.4 2711.2L1024.2 2698.4L1024.0 2685.5L1023.8 2672.3L1023.5 2659.0L1023.2 2645.5L1022.9 2631.7L1022.4 2617.8L1022.0 2603.6L1021.5 2589.3L1020.8 2574.7L1020.2 2559.9L1019.4 2544.8L1018.5 2529.6L1017.4 2514.1L1016.3 2498.4L1015.0 2482.6L1013.5 2466.5L1011.8 2450.3L1009.9 2433.9L1007.7 2417.3L1005.3 2400.7L1002.6 2384.0L999.5 2367.2L996.1 2350.5L992.3 2333.7L988.1 2317.1L983.4 2300.6L978.3 2284.3L972.6 2268.3L966.3 2252.6L959.5 2237.2L952.1 2222.3L944.1 2208.0L935.5 2194.1L926.3 2180.9L916.5 2168.3L906.2 2156.4L895.2 2145.2L883.7 2134.7L871.8 2124.9L859.3 2115.8L846.4 2107.4L833.2 2099.6L819.6 2092.5L805.7 2086.1L791.5 2080.2L777.1 2074.9L762.5 2070.0L747.7 2065.6L732.9 2061.7L717.9 2058.1L702.8 2054.9L687.7 2052.1L672.6 2049.5L657.4 2047.2L642.3 2045.1L627.1 2043.2L612.0 2041.5L596.8 2040.0L581.7 2038.6L566.7 2037.3L551.6 2036.2L536.6 2035.2L521.7 2034.3L506.8 2033.5L491.9 2032.7L477.0 2032.1L462.2 2031.4L447.4 2030.9L432.7 2030.4L418.0 2030.0L403.3 2029.6L388.6 2029.3L373.9 2029.1L359.3 2028.8L344.7 2028.7L330.0 2028.5L315.4 2028.5L300.8 2028.5L294.8 2028.5M920.8 3145.7L920.8 3139.7L920.8 3131.6L920.8 3123.5L920.8 3115.5L920.8 3107.4L920.8 3099.2L920.8 3091.1L920.8 3083.0L920.8 3074.8L920.8 3066.7L920.8 3058.4L920.8 3050.2L920.8 3042.0L920.8 3033.7L920.8 3025.3L920.8 3016.9L920.8 3008.5L920.8 3000.1L920.8 2991.5L920.8 2983.0L920.8 2974.3L920.8 2965.6L920.8 2956.9L920.8 2948.1L920.8 2939.2L920.8 2930.2L920.8 2921.2L920.7 2912.0L920.7 2902.8L920.7 2893.5L920.7 2884.1L920.7 2874.6L920.6 2865.0L920.6 2855.3L920.6 2845.4L920.5 2835.5L920.5 2825.4L920.4 2815.2L920.3 2804.9L920.3 2794.4L920.2 2783.7L920.1 2773.0L919.9 2762.0L919.8 2750.9L919.6 2739.7L919.4 2728.2L919.2 2716.6L919.0 2704.8L918.7 2692.8L918.4 2680.6L918.0 2668.2L917.6 2655.7L917.2 2642.9L916.7 2629.8L916.1 2616.6L915.4 2603.2L914.6 2589.5L913.8 2575.7L912.8 2561.6L911.7 2547.3L910.4 2532.9L909.0 2518.2L907.4 2503.4L905.7 2488.4L903.7 2473.2L901.4 2457.9L898.9 2442.6L896.1 2427.2L893.0 2411.7L889.6 2396.3L885.8 2380.9L881.6 2365.6L876.9 2350.4L871.8 2335.4L866.3 2320.7L860.2 2306.3L853.7 2292.2L846.6 2278.6L839.1 2265.3L831.0 2252.6L822.4 2240.4L813.3 2228.8L803.7 2217.7L793.6 2207.3L783.1 2197.4L772.2 2188.2L760.9 2179.6L749.2 2171.5L737.2 2164.1L724.8 2157.2L712.3 2150.9L699.4 2145.1L686.4 2139.7L673.2 2134.9L659.9 2130.4L646.4 2126.4L632.8 2122.7L619.1 2119.3L605.3 2116.3L591.5 2113.6L577.7 2111.1L563.8 2108.9L549.9 2106.9L536.0 2105.1L522.1 2103.4L508.2 2102.0L494.3 2100.6L480.4 2099.5L466.5 2098.4L452.6 2097.5L438.8 2096.6L424.9 2095.9L411.1 2095.3L397.3 2094.7L383.5 2094.2L369.7 2093.8L355.9 2093.5L342.1 2093.3L328.3 2093.1L314.6 2093.0L300.8 2093.0L294.8 2093.0M837.1 3145.7L837.1 3139.7L837.1 3132.7L837.1 3125.7L837.1 3118.7L837.1 3111.7L837.1 3104.7L837.1 3097.7L837.1 3090.6L837.1 3083.6L837.1 3076.5L837.1 3069.4L837.1 3062.3L837.1 3055.2L837.1 3048.0L837.1 3040.8L837.1 3033.5L837.1 3026.2L837.1 3018.9L837.1 3011.5L837.0 3004.1L837.0 2996.7L837.0 2989.2L837.0 2981.6L837.0 2974.0L837.0 2966.3L837.0 2958.5L837.0 2950.7L836.9 2942.8L836.9 2934.9L836.9 2926.8L836.8 2918.7L836.8 2910.5L836.8 2902.2L836.7 2893.8L836.7 2885.3L836.6 2876.7L836.5 2868.0L836.4 2859.2L836.3 2850.3L836.2 2841.2L836.1 2832.0L836.0 2822.8L835.8 2813.3L835.7 2803.8L835.5 2794.1L835.3 2784.2L835.1 2774.2L834.8 2764.0L834.5 2753.7L834.2 2743.2L833.9 2732.5L833.5 2721.7L833.1 2710.7L832.6 2699.4L832.1 2688.0L831.5 2676.4L830.8 2664.7L830.1 2652.7L829.3 2640.5L828.4 2628.1L827.4 2615.5L826.4 2602.7L825.2 2589.7L823.8 2576.5L822.4 2563.1L820.7 2549.6L818.9 2535.8L817.0 2521.9L814.8 2507.9L812.4 2493.7L809.7 2479.5L806.8 2465.2L803.6 2450.8L800.2 2436.4L796.3 2422.0L792.2 2407.7L787.7 2393.5L782.7 2379.4L777.4 2365.5L771.7 2351.9L765.5 2338.5L758.9 2325.5L751.8 2312.9L744.2 2300.8L736.2 2289.1L727.8 2277.9L718.9 2267.2L709.6 2257.1L699.8 2247.6L689.7 2238.6L679.2 2230.3L668.4 2222.5L657.3 2215.2L645.9 2208.6L634.3 2202.4L622.4 2196.7L610.3 2191.5L598.1 2186.8L585.7 2182.4L573.2 2178.4L560.5 2174.8L547.8 2171.5L535.0 2168.5L522.2 2165.8L509.3 2163.4L496.3 2161.1L483.4 2159.1L470.4 2157.3L457.4 2155.6L444.4 2154.1L431.3 2152.8L418.3 2151.6L405.2 2150.6L392.2 2149.7L379.1 2148.9L366.1 2148.2L353.0 2147.7L340.0 2147.3L326.9 2147.0L313.9 2146.8L300.8 2146.8L294.8 2146.8M762.8 3145.7L762.8 3139.7L762.8 3133.7L762.8 3127.7L762.8 3121.6L762.8 3115.6L762.8 3109.6L762.8 3103.5L762.8 3097.4L762.8 3091.4L762.8 3085.3L762.8 3079.2L762.8 3073.0L762.8 3066.9L762.8 3060.7L762.8 3054.5L762.8 3048.2L762.8 3042.0L762.7 3035.7L762.7 3029.3L762.7 3022.9L762.7 3016.5L762.7 3010.0L762.7 3003.5L762.7 2996.9L762.7 2990.3L762.6 2983.7L762.6 2976.9L762.6 2970.1L762.5 2963.3L762.5 2956.3L762.5 2949.4L762.4 2942.3L762.4 2935.1L762.3 2927.9L762.2 2920.6L762.2 2913.2L762.1 2905.7L762.0 2898.2L761.9 2890.5L761.8 2882.7L761.7 2874.8L761.5 2866.9L761.4 2858.8L761.2 2850.5L761.0 2842.2L760.8 2833.7L760.6 2825.1L760.4 2816.4L760.1 2807.5L759.8 2798.5L759.5 2789.3L759.2 2780.0L758.8 2770.5L758.4 2760.8L758.0 2751.0L757.5 2741.0L757.0 2730.9L756.4 2720.5L755.7 2710.0L755.0 2699.2L754.3 2688.3L753.4 2677.2L752.5 2665.9L751.5 2654.4L750.4 2642.7L749.2 2630.8L747.9 2618.6L746.4 2606.3L744.9 2593.8L743.1 2581.2L741.3 2568.3L739.2 2555.3L737.0 2542.1L734.5 2528.8L731.8 2515.4L728.9 2501.9L725.8 2488.3L722.3 2474.7L718.6 2461.1L714.5 2447.5L710.1 2434.0L705.4 2420.5L700.3 2407.3L694.8 2394.2L688.9 2381.4L682.7 2368.9L676.0 2356.8L668.9 2345.0L661.3 2333.7L653.4 2322.8L645.0 2312.4L636.3 2302.6L627.2 2293.3L617.7 2284.6L607.9 2276.4L597.8 2268.8L587.4 2261.8L576.7 2255.3L565.8 2249.3L554.6 2243.8L543.3 2238.8L531.8 2234.2L520.2 2230.0L508.5 2226.2L496.6 2222.8L484.7 2219.6L472.6 2216.8L460.5 2214.3L448.4 2212.0L436.2 2210.0L424.0 2208.2L411.8 2206.5L399.5 2205.1L387.2 2203.9L374.9 2202.8L362.5 2202.0L350.2 2201.2L337.9 2200.7L325.5 2200.3L313.2 2200.1L300.8 2200.0L294.8 2200.0M691.5 3145.7L691.5 3139.7L691.5 3134.6L691.5 3129.5L691.5 3124.4L691.5 3119.3L691.5 3114.2L691.5 3109.1L691.5 3104.0L691.5 3098.8L691.5 3093.7L691.5 3088.5L691.5 3083.3L691.5 3078.1L691.5 3072.9L691.5 3067.6L691.5 3062.3L691.5 3057.0L691.5 3051.7L691.5 3046.3L691.5 3040.9L691.5 3035.5L691.5 3030.0L691.5 3024.5L691.5 3018.9L691.5 3013.3L691.5 3007.7L691.5 3002.0L691.4 2996.2L691.4 2990.4L691.4 2984.6L691.4 2978.6L691.4 2972.7L691.4 2966.6L691.4 2960.5L691.3 2954.3L691.3 2948.0L691.3 2941.7L691.2 2935.2L691.2 2928.7L691.2 2922.1L691.1 2915.4L691.1 2908.6L691.0 2901.7L690.9 2894.7L690.8 2887.6L690.8 2880.3L690.7 2873.0L690.6 2865.5L690.4 2857.9L690.3 2850.2L690.2 2842.3L690.0 2834.3L689.8 2826.1L689.6 2817.8L689.4 2809.3L689.1 2800.7L688.9 2791.9L688.6 2782.9L688.2 2773.7L687.9 2764.4L687.4 2754.8L687.0 2745.1L686.5 2735.2L685.9 2725.0L685.3 2714.7L684.6 2704.1L683.8 2693.4L682.9 2682.4L681.9 2671.2L680.9 2659.8L679.7 2648.2L678.4 2636.4L677.0 2624.3L675.4 2612.1L673.6 2599.8L671.6 2587.2L669.5 2574.6L667.1 2561.8L664.5 2548.9L661.7 2535.9L658.6 2522.9L655.2 2509.8L651.5 2496.8L647.4 2483.9L643.0 2471.1L638.3 2458.4L633.2 2445.9L627.8 2433.7L622.0 2421.7L615.7 2410.0L609.1 2398.7L602.2 2387.8L594.8 2377.3L587.1 2367.2L579.0 2357.6L570.6 2348.5L561.9 2339.8L552.9 2331.7L543.5 2324.0L533.9 2316.9L524.1 2310.2L514.0 2304.1L503.7 2298.3L493.3 2293.1L482.6 2288.2L471.8 2283.8L460.9 2279.8L449.9 2276.1L438.7 2272.8L427.5 2269.9L416.2 2267.3L404.8 2264.9L393.4 2262.9L381.9 2261.1L370.4 2259.7L358.8 2258.4L347.3 2257.4L335.7 2256.6L324.0 2256.1L312.4 2255.8L300.8 2255.6L294.8 2255.6M622.0 3145.7L622.0 3139.7L622.0 3135.5L622.0 3131.3L622.0 3127.1L622.0 3122.9L622.0 3118.7L622.0 3114.5L622.0 3110.3L622.0 3106.1L622.0 3101.9L622.0 3097.6L622.0 3093.3L622.0 3089.1L621.9 3084.8L621.9 3080.5L621.9 3076.1L621.9 3071.8L621.9 3067.4L621.8 3063.0L621.8 3058.5L621.8 3054.1L621.8 3049.6L621.7 3045.1L621.7 3040.5L621.7 3035.9L621.6 3031.3L621.6 3026.6L621.6 3021.9L621.5 3017.2L621.5 3012.3L621.4 3007.5L621.4 3002.6L621.3 2997.6L621.3 2992.6L621.2 2987.6L621.2 2982.4L621.1 2977.2L621.1 2972.0L621.0 2966.6L620.9 2961.2L620.9 2955.8L620.8 2950.2L620.7 2944.6L620.6 2938.8L620.5 2933.0L620.4 2927.1L620.3 2921.1L620.2 2915.0L620.1 2908.8L620.0 2902.4L619.9 2896.0L619.8 2889.4L619.6 2882.7L619.5 2875.9L619.3 2868.9L619.2 2861.8L619.0 2854.5L618.8 2847.1L618.6 2839.5L618.4 2831.7L618.2 2823.8L617.9 2815.7L617.6 2807.4L617.3 2798.8L617.0 2790.1L616.7 2781.2L616.3 2772.0L615.9 2762.6L615.4 2753.0L614.9 2743.1L614.3 2733.0L613.7 2722.6L613.0 2712.0L612.2 2701.1L611.3 2689.9L610.4 2678.5L609.3 2666.9L608.0 2655.0L606.6 2642.9L605.1 2630.6L603.4 2618.1L601.4 2605.4L599.2 2592.6L596.8 2579.7L594.0 2566.8L591.0 2553.9L587.6 2541.1L583.9 2528.4L579.9 2515.8L575.4 2503.4L570.6 2491.3L565.4 2479.6L559.8 2468.1L553.8 2457.1L547.4 2446.4L540.7 2436.2L533.6 2426.4L526.2 2417.1L518.5 2408.3L510.4 2399.9L502.1 2392.0L493.5 2384.6L484.6 2377.6L475.5 2371.1L466.2 2365.0L456.7 2359.4L447.1 2354.2L437.2 2349.4L427.3 2345.0L417.1 2341.0L406.9 2337.4L396.6 2334.2L386.2 2331.3L375.7 2328.8L365.1 2326.7L354.4 2324.9L343.8 2323.5L333.1 2322.4L322.3 2321.6L311.6 2321.1L300.8 2321.0L294.8 2321.0M546.5 3145.7L546.5 3139.7L546.5 3136.5L546.5 3133.3L546.5 3130.1L546.5 3126.9L546.5 3123.7L546.5 3120.5L546.5 3117.2L546.5 3114.0L546.5 3110.8L546.5 3107.5L546.5 3104.2L546.5 3101.0L546.5 3097.7L546.5 3094.4L546.5 3091.1L546.5 3087.7L546.4 3084.4L546.4 3081.0L546.4 3077.6L546.4 3074.2L546.4 3070.7L546.4 3067.3L546.4 3063.8L546.4 3060.3L546.4 3056.7L546.4 3053.1L546.4 3049.5L546.4 3045.9L546.4 3042.2L546.4 3038.4L546.4 3034.7L546.4 3030.9L546.4 3027.0L546.3 3023.1L546.3 3019.2L546.3 3015.2L546.3 3011.1L546.3 3007.0L546.3 3002.9L546.3 2998.6L546.2 2994.3L546.2 2990.0L546.2 2985.6L546.2 2981.1L546.2 2976.5L546.1 2971.9L546.1 2967.1L546.1 2962.3L546.0 2957.4L546.0 2952.4L545.9 2947.3L545.9 2942.1L545.8 2936.8L545.8 2931.4L545.7 2925.9L545.6 2920.3L545.6 2914.5L545.5 2908.6L545.4 2902.6L545.3 2896.4L545.1 2890.0L545.0 2883.6L544.8 2876.9L544.7 2870.1L544.5 2863.1L544.3 2855.9L544.1 2848.6L543.8 2841.0L543.5 2833.2L543.2 2825.2L542.8 2817.1L542.4 2808.6L542.0 2800.0L541.5 2791.1L540.9 2782.0L540.3 2772.6L539.6 2763.0L538.8 2753.1L537.9 2743.0L536.9 2732.7L535.8 2722.1L534.5 2711.3L533.1 2700.2L531.5 2689.0L529.8 2677.6L527.8 2666.0L525.6 2654.3L523.2 2642.4L520.6 2630.6L517.6 2618.6L514.4 2606.7L510.9 2594.9L507.1 2583.1L502.9 2571.5L498.5 2560.0L493.7 2548.8L488.5 2537.8L483.1 2527.2L477.3 2516.9L471.1 2506.9L464.7 2497.3L457.9 2488.2L450.9 2479.4L443.6 2471.2L436.0 2463.4L428.1 2456.0L420.0 2449.2L411.7 2442.9L403.2 2437.0L394.4 2431.7L385.6 2426.9L376.5 2422.6L367.4 2418.7L358.1 2415.4L348.7 2412.7L339.2 2410.4L329.7 2408.6L320.1 2407.3L310.4 2406.6L300.8 2406.3L294.8 2406.3M451.0 3145.7L451.0 3139.7L451.0 3137.7L451.0 3135.8L451.0 3133.8L451.0 3131.9L451.0 3129.9L451.0 3127.9L451.0 3126.0L451.0 3124.0L451.0 3122.0L451.0 3120.0L451.0 3118.0L451.0 3116.0L451.0 3114.0L451.0 3112.0L451.0 3110.0L451.0 3107.9L451.0 3105.9L451.0 3103.8L451.0 3101.7L451.0 3099.6L451.0 3097.5L451.0 3095.4L451.0 3093.3L451.0 3091.1L451.0 3088.9L451.0 3086.8L451.0 3084.5L451.0 3082.3L451.0 3080.0L451.0 3077.8L451.0 3075.5L451.0 3073.1L451.0 3070.8L451.0 3068.4L451.0 3066.0L451.0 3063.5L451.0 3061.0L451.0 3058.5L451.0 3056.0L451.0 3053.4L451.0 3050.8L451.0 3048.1L451.0 3045.4L451.0 3042.6L451.0 3039.8L450.9 3037.0L450.9 3034.1L450.9 3031.1L450.9 3028.1L450.9 3025.0L450.9 3021.9L450.9 3018.7L450.9 3015.5L450.9 3012.1L450.8 3008.7L450.8 3005.2L450.8 3001.7L450.8 2998.0L450.7 2994.3L450.7 2990.5L450.7 2986.6L450.6 2982.5L450.6 2978.4L450.6 2974.1L450.5 2969.8L450.4 2965.3L450.4 2960.7L450.3 2955.9L450.2 2951.0L450.1 2946.0L450.0 2940.7L449.9 2935.4L449.8 2929.8L449.7 2924.1L449.5 2918.1L449.4 2912.0L449.2 2905.6L448.9 2899.1L448.7 2892.2L448.4 2885.2L448.1 2877.9L447.8 2870.3L447.4 2862.4L446.9 2854.3L446.4 2845.8L445.8 2837.1L445.1 2828.0L444.4 2818.7L443.5 2809.0L442.6 2799.0L441.5 2788.7L440.2 2778.2L438.8 2767.3L437.2 2756.2L435.4 2744.9L433.4 2733.4L431.2 2721.8L428.6 2710.1L425.9 2698.3L422.8 2686.6L419.4 2675.0L415.6 2663.5L411.6 2652.3L407.2 2641.4L402.5 2630.8L397.4 2620.6L392.1 2611.0L386.4 2601.8L380.4 2593.3L374.1 2585.4L367.6 2578.1L360.8 2571.5L353.8 2565.7L346.6 2560.6L339.2 2556.2L331.7 2552.6L324.1 2549.8L316.4 2547.8L308.6 2546.6L300.8 2546.2L294.8 2546.2" fill="none" stroke="#000" stroke-opacity="0.5" stroke-width="3.6"/>
</g>
<path fill="#000" fill-rule="evenodd" d="M283.1 1822.4H1624.1V3163.2H283.1ZM287.7 1828.0H1618.9V3158.4H287.7Z"/><path fill="#000" d="M298.7 1827.0h4.2v4.8h-4.2zM298.7 3159.4h4.2v-4.8h-4.2zM364.1 3159.4h4.2v-2.2h-4.2zM429.4 3159.4h4.2v-2.2h-4.2zM494.8 3159.4h4.2v-2.2h-4.2zM560.1 1827.0h4.2v4.8h-4.2zM560.1 3159.4h4.2v-4.8h-4.2zM625.5 3159.4h4.2v-2.2h-4.2zM690.8 3159.4h4.2v-2.2h-4.2zM756.2 3159.4h4.2v-2.2h-4.2zM821.5 1827.0h4.2v4.8h-4.2zM821.5 3159.4h4.2v-4.8h-4.2zM886.9 3159.4h4.2v-2.2h-4.2zM952.3 3159.4h4.2v-2.2h-4.2zM1017.6 3159.4h4.2v-2.2h-4.2zM1083.0 1827.0h4.2v4.8h-4.2zM1083.0 3159.4h4.2v-4.8h-4.2zM1148.3 3159.4h4.2v-2.2h-4.2zM1213.7 3159.4h4.2v-2.2h-4.2zM1279.0 3159.4h4.2v-2.2h-4.2zM1344.4 1827.0h4.2v4.8h-4.2zM1344.4 3159.4h4.2v-4.8h-4.2zM1409.7 3159.4h4.2v-2.2h-4.2zM1475.1 3159.4h4.2v-2.2h-4.2zM1540.4 3159.4h4.2v-2.2h-4.2zM1605.8 1827.0h4.2v4.8h-4.2zM1605.8 3159.4h4.2v-4.8h-4.2zM286.7 1836.5v4.2h4.8v-4.2zM1619.9 1836.5v4.2h-4.8v-4.2zM286.7 1901.6v4.2h2.2v-4.2zM286.7 1966.6v4.2h2.2v-4.2zM286.7 2031.7v4.2h2.2v-4.2zM286.7 2096.7v4.2h4.8v-4.2zM1619.9 2096.7v4.2h-4.8v-4.2zM286.7 2161.8v4.2h2.2v-4.2zM286.7 2226.8v4.2h2.2v-4.2zM286.7 2291.9v4.2h2.2v-4.2zM286.7 2356.9v4.2h4.8v-4.2zM1619.9 2356.9v4.2h-4.8v-4.2zM286.7 2422.0v4.2h2.2v-4.2zM286.7 2487.1v4.2h2.2v-4.2zM286.7 2552.1v4.2h2.2v-4.2zM286.7 2617.2v4.2h4.8v-4.2zM1619.9 2617.2v4.2h-4.8v-4.2zM286.7 2682.2v4.2h2.2v-4.2zM286.7 2747.3v4.2h2.2v-4.2zM286.7 2812.3v4.2h2.2v-4.2zM286.7 2877.4v4.2h4.8v-4.2zM1619.9 2877.4v4.2h-4.8v-4.2zM286.7 2942.4v4.2h2.2v-4.2zM286.7 3007.5v4.2h2.2v-4.2zM286.7 3072.5v4.2h2.2v-4.2zM286.7 3137.6v4.2h4.8v-4.2zM1619.9 3137.6v4.2h-4.8v-4.2z"/>
<g id="labels">
<text transform="matrix(0.7641 0 0 0.7441 518.34 262.28)" font-size="100" fill="#000" >0.0</text>
<text transform="matrix(0.7431 0 0 0.7441 901.93 262.28)" font-size="100" fill="#000" >0.75</text>
<text transform="matrix(0.7580 0 0 0.7552 1319.18 262.27)" font-size="100" fill="#000" >1.5</text>
<text transform="matrix(0.8937 0 0 0.8154 900.95 90.80)" font-size="100" fill="#000" font-style="italic">N</text>
<text transform="matrix(0.5065 0 0 0.5729 957.23 102.73)" font-size="100" fill="#000" font-style="italic">ωω′</text>
<text transform="matrix(0.7612 0 0 0.7223 1379.12 175.67)" font-size="100" fill="#000" style="font-family:'DejaVu Sans Light','DejaVu Sans','Liberation Serif',serif">×</text>
<text transform="matrix(0.7126 0 0 0.7689 1440.39 172.53)" font-size="100" fill="#000" >10</text>
<text transform="matrix(0.5815 0 0 0.5348 1512.49 141.00)" font-size="100" fill="#000" >−12</text>
<text transform="matrix(0.7768 0 0 0.7441 196.11 350.08)" font-size="100" fill="#000" >1.0</text>
<text transform="matrix(0.7530 0 0 0.7471 197.69 659.68)" font-size="100" fill="#000" >0.5</text>
<text transform="matrix(0.7530 0 0 0.7500 197.69 970.27)" font-size="100" fill="#000" >0.0</text>
<text transform="matrix(0.7774 0 0 0.7544 150.81 1280.67)" font-size="100" fill="#000" >−0.5</text>
<text transform="matrix(0.7977 0 0 0.7529 149.81 1590.67)" font-size="100" fill="#000" >−1.0</text>
<text transform="matrix(0.7718 0 0 0.7515 272.21 1672.77)" font-size="100" fill="#000" >0.0</text>
<text transform="matrix(0.7680 0 0 0.7515 523.53 1672.77)" font-size="100" fill="#000" >0.2</text>
<text transform="matrix(0.7565 0 0 0.7515 775.97 1672.77)" font-size="100" fill="#000" >0.4</text>
<text transform="matrix(0.7525 0 0 0.7515 1027.79 1672.77)" font-size="100" fill="#000" >0.6</text>
<text transform="matrix(0.7667 0 0 0.7515 1278.63 1672.77)" font-size="100" fill="#000" >0.8</text>
<text transform="matrix(0.7839 0 0 0.7515 1529.94 1672.77)" font-size="100" fill="#000" >1.0</text>
<text transform="matrix(0.8741 0 0 0.8348 862.98 1770.77)" font-size="100" fill="#000" >NUT</text>
<text transform="matrix(0.7741 0 0 0.7441 176.93 1859.98)" font-size="100" fill="#000" >1.0</text>
<text transform="matrix(0.7581 0 0 0.7441 177.77 2120.08)" font-size="100" fill="#000" >0.8</text>
<text transform="matrix(0.7602 0 0 0.7426 177.26 2380.39)" font-size="100" fill="#000" >0.6</text>
<text transform="matrix(0.7506 0 0 0.7426 177.30 2639.89)" font-size="100" fill="#000" >0.4</text>
<text transform="matrix(0.7766 0 0 0.7426 176.99 2900.79)" font-size="100" fill="#000" >0.2</text>
<text transform="matrix(0.7735 0 0 0.7500 177.01 3160.78)" font-size="100" fill="#000" >0.0</text>
<text transform="matrix(0.7709 0 0 0.7588 252.32 3242.86)" font-size="100" fill="#000" >0.0</text>
<text transform="matrix(0.7732 0 0 0.7588 513.61 3242.86)" font-size="100" fill="#000" >0.2</text>
<text transform="matrix(0.7481 0 0 0.7588 776.21 3242.86)" font-size="100" fill="#000" >0.4</text>
<text transform="matrix(0.7483 0 0 0.7588 1036.71 3242.86)" font-size="100" fill="#000" >0.6</text>
<text transform="matrix(0.7650 0 0 0.7588 1298.44 3242.86)" font-size="100" fill="#000" >0.8</text>
<text transform="matrix(0.7812 0 0 0.7588 1557.27 3242.86)" font-size="100" fill="#000" >1.0</text>
<text transform="matrix(0.8746 0 0 0.8318 862.88 3332.37)" font-size="100" fill="#000" >NUT</text>
<text transform="matrix(0.8891 0 0 0.9078 1235.20 414.64)" font-size="100" word-spacing="7.88" fill="#fff">(a) KTN</text>
<text transform="matrix(0.8857 0 0 0.9067 1199.51 1941.56)" font-size="100" word-spacing="7.02" fill="#fff">(b) RNTN</text>
<text transform="matrix(0 -0.8772 0.8278 0 98.92 1298.67)" font-size="100" word-spacing="7.91" fill="#000">angular momentum</text>
<text transform="matrix(0 -0.8685 0.8033 0 98.13 2763.27)" font-size="100" word-spacing="3.92" fill="#000">electric charge</text>
</g>
</svg>
</body></html>
